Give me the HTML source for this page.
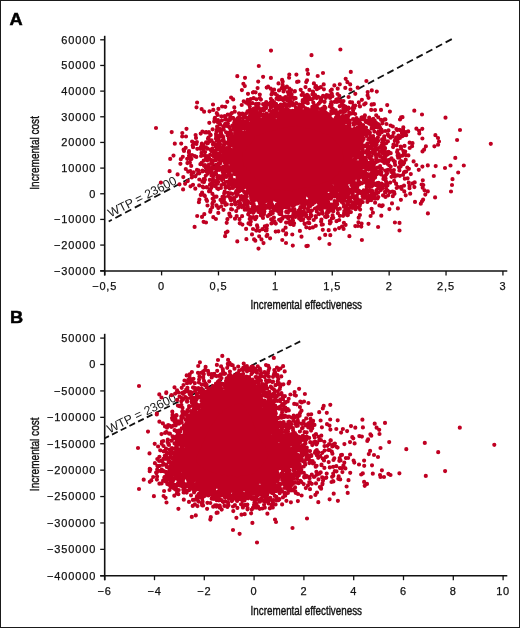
<!DOCTYPE html><html><head><meta charset="utf-8"><style>
html,body{margin:0;padding:0;background:#fff;}
svg{display:block;will-change:transform;}
text{font-family:"Liberation Sans",sans-serif;fill:#1a1a1a;}
.pl{font-size:17.2px;font-weight:bold;fill:#000;stroke:#000;stroke-width:0.5px;}
.yt{font-size:11.0px;text-anchor:end;letter-spacing:0.85px;fill:#111;stroke:#111;stroke-width:0.25px;}
.xt{font-size:11.0px;text-anchor:middle;letter-spacing:0.85px;fill:#111;stroke:#111;stroke-width:0.25px;}
.at{font-size:12.8px;text-anchor:middle;fill:#111;stroke:#111;stroke-width:0.4px;}
.wt{font-size:12.3px;}
.ax{stroke:#111;stroke-width:1.6;}
.tk{stroke:#111;stroke-width:1.3;}
.wtp{stroke:#111;stroke-width:1.8;stroke-dasharray:6 4.5;}
.pt{fill:none;stroke:#c00022;stroke-width:4.2;stroke-linecap:round;}
.pf{fill:#c00022;}
</style></head><body><svg width="520" height="628" viewBox="0 0 520 628"><rect x="0.5" y="0.5" width="519" height="627" fill="#fff" stroke="#1a1a1a" stroke-width="1"/><text class="pl" transform="translate(9.6 24.9) scale(1.06 1)">A</text><text class="pl" transform="translate(10.0 322.6) scale(1.06 1)">B</text><line x1="104.7" y1="35.8" x2="104.7" y2="275.4" class="ax"/><line x1="100.2" y1="271.0" x2="507.3" y2="271.0" class="ax"/><line x1="100.2" y1="39.80" x2="104.7" y2="39.80" class="tk"/><text x="96.2" y="43.70" class="yt">60000</text><line x1="100.2" y1="65.46" x2="104.7" y2="65.46" class="tk"/><text x="96.2" y="69.36" class="yt">50000</text><line x1="100.2" y1="91.12" x2="104.7" y2="91.12" class="tk"/><text x="96.2" y="95.02" class="yt">40000</text><line x1="100.2" y1="116.78" x2="104.7" y2="116.78" class="tk"/><text x="96.2" y="120.68" class="yt">30000</text><line x1="100.2" y1="142.44" x2="104.7" y2="142.44" class="tk"/><text x="96.2" y="146.34" class="yt">20000</text><line x1="100.2" y1="168.10" x2="104.7" y2="168.10" class="tk"/><text x="96.2" y="172.00" class="yt">10000</text><line x1="100.2" y1="193.76" x2="104.7" y2="193.76" class="tk"/><text x="96.2" y="197.66" class="yt">0</text><line x1="100.2" y1="219.42" x2="104.7" y2="219.42" class="tk"/><text x="96.2" y="223.32" class="yt">−10000</text><line x1="100.2" y1="245.08" x2="104.7" y2="245.08" class="tk"/><text x="96.2" y="248.98" class="yt">−20000</text><line x1="100.2" y1="270.74" x2="104.7" y2="270.74" class="tk"/><text x="96.2" y="274.64" class="yt">−30000</text><line x1="104.70" y1="271.0" x2="104.70" y2="275.4" class="tk"/><text x="104.70" y="290.30" class="xt">−0,5</text><line x1="161.59" y1="271.0" x2="161.59" y2="275.4" class="tk"/><text x="161.59" y="290.30" class="xt">0</text><line x1="218.48" y1="271.0" x2="218.48" y2="275.4" class="tk"/><text x="218.48" y="290.30" class="xt">0,5</text><line x1="275.37" y1="271.0" x2="275.37" y2="275.4" class="tk"/><text x="275.37" y="290.30" class="xt">1</text><line x1="332.26" y1="271.0" x2="332.26" y2="275.4" class="tk"/><text x="332.26" y="290.30" class="xt">1,5</text><line x1="389.15" y1="271.0" x2="389.15" y2="275.4" class="tk"/><text x="389.15" y="290.30" class="xt">2</text><line x1="446.04" y1="271.0" x2="446.04" y2="275.4" class="tk"/><text x="446.04" y="290.30" class="xt">2,5</text><line x1="502.93" y1="271.0" x2="502.93" y2="275.4" class="tk"/><text x="502.93" y="290.30" class="xt">3</text><line x1="104.7" y1="333.8" x2="104.7" y2="580.1999999999999" class="ax"/><line x1="100.2" y1="575.8" x2="507.3" y2="575.8" class="ax"/><line x1="100.2" y1="338.10" x2="104.7" y2="338.10" class="tk"/><text x="96.2" y="342.00" class="yt">50000</text><line x1="100.2" y1="364.51" x2="104.7" y2="364.51" class="tk"/><text x="96.2" y="368.41" class="yt">0</text><line x1="100.2" y1="390.92" x2="104.7" y2="390.92" class="tk"/><text x="96.2" y="394.82" class="yt">−50000</text><line x1="100.2" y1="417.33" x2="104.7" y2="417.33" class="tk"/><text x="96.2" y="421.23" class="yt">−100000</text><line x1="100.2" y1="443.74" x2="104.7" y2="443.74" class="tk"/><text x="96.2" y="447.64" class="yt">−150000</text><line x1="100.2" y1="470.15" x2="104.7" y2="470.15" class="tk"/><text x="96.2" y="474.05" class="yt">−200000</text><line x1="100.2" y1="496.56" x2="104.7" y2="496.56" class="tk"/><text x="96.2" y="500.46" class="yt">−250000</text><line x1="100.2" y1="522.97" x2="104.7" y2="522.97" class="tk"/><text x="96.2" y="526.87" class="yt">−300000</text><line x1="100.2" y1="549.38" x2="104.7" y2="549.38" class="tk"/><text x="96.2" y="553.28" class="yt">−350000</text><line x1="100.2" y1="575.79" x2="104.7" y2="575.79" class="tk"/><text x="96.2" y="579.69" class="yt">−400000</text><line x1="104.70" y1="575.8" x2="104.70" y2="580.1999999999999" class="tk"/><text x="104.70" y="595.10" class="xt">−6</text><line x1="154.50" y1="575.8" x2="154.50" y2="580.1999999999999" class="tk"/><text x="154.50" y="595.10" class="xt">−4</text><line x1="204.30" y1="575.8" x2="204.30" y2="580.1999999999999" class="tk"/><text x="204.30" y="595.10" class="xt">−2</text><line x1="254.10" y1="575.8" x2="254.10" y2="580.1999999999999" class="tk"/><text x="254.10" y="595.10" class="xt">0</text><line x1="303.90" y1="575.8" x2="303.90" y2="580.1999999999999" class="tk"/><text x="303.90" y="595.10" class="xt">2</text><line x1="353.70" y1="575.8" x2="353.70" y2="580.1999999999999" class="tk"/><text x="353.70" y="595.10" class="xt">4</text><line x1="403.50" y1="575.8" x2="403.50" y2="580.1999999999999" class="tk"/><text x="403.50" y="595.10" class="xt">6</text><line x1="453.30" y1="575.8" x2="453.30" y2="580.1999999999999" class="tk"/><text x="453.30" y="595.10" class="xt">8</text><line x1="503.10" y1="575.8" x2="503.10" y2="580.1999999999999" class="tk"/><text x="503.10" y="595.10" class="xt">10</text><text x="0" y="0" class="at" transform="translate(306.30 309.30) scale(0.77 1)">Incremental effectiveness</text><text x="0" y="0" class="at" transform="translate(39.1 152.90) rotate(-90) scale(0.785 1)">Incremental cost</text><text x="0" y="0" class="at" transform="translate(306.30 614.70) scale(0.77 1)">Incremental effectiveness</text><text x="0" y="0" class="at" transform="translate(39.1 454.30) rotate(-90) scale(0.785 1)">Incremental cost</text><line x1="451.8" y1="39.1" x2="108.7" y2="221.5" class="wtp" style="stroke-dasharray:7 4"/><line x1="300.2" y1="341.4" x2="104.7" y2="438.2" class="wtp" style="stroke-dasharray:6.3 3.4"/><text class="wt" transform="translate(110.6 217.6) rotate(-27)">WTP = 23600</text><text class="wt" transform="translate(109.4 433.4) rotate(-25.8)">WTP = 23600</text><path class="pf" d="M237.8 158.0L237.8 156.1L238.1 154.3L238.7 152.5L239.5 150.8L240.6 149.1L241.9 147.6L243.1 146.1L244.3 144.6L245.4 143.2L246.4 141.8L247.4 140.4L248.5 139.1L249.5 137.8L250.6 136.5L251.7 135.3L252.9 134.2L254.1 133.1L255.5 132.2L256.9 131.4L258.4 130.6L259.9 130.0L261.5 129.5L263.0 129.0L264.5 128.5L265.9 128.1L267.3 127.7L268.7 127.3L270.1 127.0L271.4 126.6L272.7 126.3L274.0 126.0L275.2 125.7L276.5 125.3L277.7 125.1L278.9 124.8L280.1 124.5L281.3 124.2L282.5 123.9L283.7 123.7L284.9 123.4L286.1 123.2L287.3 122.9L288.5 122.6L289.8 122.4L291.0 122.2L292.3 122.0L293.5 121.9L294.8 121.9L296.1 121.9L297.4 121.9L298.6 122.0L299.9 122.2L301.2 122.5L302.5 122.7L303.8 122.9L305.1 123.2L306.4 123.4L307.7 123.7L309.1 123.9L310.5 124.2L311.9 124.5L313.3 124.9L314.8 125.3L316.2 125.8L317.6 126.3L319.1 126.8L320.6 127.4L322.1 128.0L323.6 128.7L325.1 129.4L326.7 130.1L328.2 131.0L329.8 131.8L331.3 132.8L332.8 133.8L334.3 135.0L335.8 136.2L337.2 137.4L338.6 138.8L340.0 140.2L341.4 141.6L342.8 143.1L344.2 144.7L345.3 146.5L346.0 148.3L346.5 150.2L346.9 152.1L347.1 154.1L347.2 156.0L347.1 158.0L347.0 160.0L346.7 161.9L346.4 163.8L346.0 165.7L345.5 167.6L344.9 169.5L344.2 171.3L343.3 173.0L342.4 174.7L341.3 176.3L340.1 177.8L338.8 179.3L337.4 180.6L335.9 181.9L334.2 183.0L332.6 184.0L330.8 184.9L329.1 185.7L327.3 186.4L325.5 187.0L323.8 187.5L322.1 188.0L320.5 188.5L318.9 189.0L317.3 189.4L315.8 189.7L314.3 190.1L312.9 190.4L311.4 190.7L310.1 191.0L308.7 191.3L307.4 191.5L306.0 191.8L304.8 192.1L303.5 192.3L302.2 192.6L301.0 192.8L299.7 193.1L298.5 193.3L297.3 193.6L296.0 193.8L294.8 194.0L293.5 194.2L292.3 194.3L291.0 194.4L289.7 194.5L288.4 194.5L287.2 194.5L285.9 194.5L284.6 194.5L283.3 194.4L282.0 194.3L280.6 194.1L279.3 194.0L278.0 193.8L276.6 193.6L275.3 193.3L273.9 193.1L272.5 192.7L271.2 192.4L269.8 191.9L268.5 191.4L267.1 190.9L265.8 190.3L264.5 189.6L263.1 188.9L261.9 188.2L260.6 187.3L259.4 186.5L258.2 185.6L257.0 184.6L255.8 183.6L254.6 182.6L253.4 181.5L252.2 180.4L251.0 179.3L249.7 178.1L248.5 176.9L247.2 175.7L245.9 174.4L244.8 173.0L243.6 171.6L242.5 170.1L241.5 168.5L240.5 166.9L239.7 165.2L238.9 163.5L238.4 161.7L238.0 159.9L237.8 158.0ZM197.5 445.0L198.0 443.8L198.5 442.6L198.9 441.4L199.3 440.3L199.7 439.1L200.2 438.0L200.6 436.9L201.1 435.9L201.6 434.8L202.1 433.8L202.6 432.7L203.2 431.7L203.8 430.7L204.3 429.7L204.9 428.8L205.5 427.8L206.1 426.8L206.7 425.9L207.3 424.9L208.0 424.0L208.6 423.0L209.2 422.0L209.9 421.1L210.5 420.0L211.2 419.0L211.9 417.9L212.6 416.9L213.3 415.9L214.2 414.9L215.0 413.8L215.9 412.8L216.8 411.9L217.8 410.9L218.8 409.9L219.9 408.9L221.0 407.9L222.1 407.0L223.3 406.0L224.5 405.0L225.8 404.2L227.1 403.3L228.5 402.6L230.0 402.0L231.5 401.5L233.0 401.0L234.6 400.5L236.1 400.0L237.8 399.7L239.4 399.7L240.9 400.0L242.4 400.6L243.9 401.4L245.2 402.3L246.5 403.4L247.7 404.5L248.8 405.8L249.9 407.0L250.9 408.3L251.8 409.6L252.6 411.0L253.4 412.3L254.1 413.6L254.8 415.0L255.4 416.3L256.0 417.6L256.5 418.9L256.9 420.2L257.3 421.5L257.7 422.8L258.0 424.0L258.3 425.2L258.7 426.3L259.0 427.4L259.4 428.5L259.7 429.6L260.1 430.6L260.5 431.6L260.8 432.6L261.2 433.6L261.7 434.5L262.2 435.5L262.8 436.4L263.5 437.4L264.2 438.4L265.0 439.4L266.0 440.4L267.0 441.4L267.9 442.6L268.8 443.8L269.5 445.0L270.1 446.3L270.6 447.6L271.1 449.0L271.4 450.4L271.6 451.8L271.7 453.2L271.8 454.7L271.7 456.1L271.5 457.5L271.2 458.9L270.7 460.2L270.1 461.5L269.5 462.8L268.7 464.0L267.9 465.2L267.1 466.3L266.3 467.4L265.4 468.5L264.5 469.6L263.5 470.6L262.5 471.6L261.5 472.6L260.5 473.5L259.4 474.3L258.3 475.2L257.2 476.0L256.0 476.7L254.8 477.3L253.5 477.8L252.2 478.2L250.9 478.6L249.5 478.9L248.2 479.1L246.8 479.3L245.5 479.4L244.2 479.5L242.9 479.6L241.7 479.7L240.4 479.8L239.1 479.8L237.9 479.9L236.7 479.9L235.4 479.9L234.2 479.9L233.0 479.9L231.8 479.9L230.6 479.8L229.3 479.8L228.1 479.7L226.9 479.6L225.7 479.5L224.4 479.4L223.2 479.2L221.9 479.1L220.7 478.9L219.4 478.7L218.1 478.5L216.8 478.2L215.5 477.9L214.2 477.5L212.9 477.1L211.6 476.7L210.3 476.2L209.1 475.6L207.8 475.1L206.5 474.4L205.2 473.8L203.9 473.1L202.5 472.4L201.2 471.7L199.8 470.9L198.5 470.1L197.2 469.2L195.9 468.2L194.8 467.1L193.7 465.9L192.9 464.6L192.2 463.2L191.8 461.6L191.7 460.0L191.9 458.4L192.3 456.7L192.8 455.0L193.4 453.4L194.1 451.9L194.9 450.4L195.6 448.9L196.3 447.6L196.9 446.3L197.5 445.0Z"/><path class="pt" d="M259.3 121.7h0M328.2 184.6h0M285.4 99.5h0M202.1 192.6h0M266.5 200.3h0M327.3 211.7h0M266.8 206.1h0M242.7 175.4h0M256.3 125.6h0M396.1 183.7h0M315.9 217.5h0M302.7 114.9h0M252.1 135.7h0M261.2 188.8h0M255.3 198.3h0M315.6 192.0h0M282.5 88.4h0M427.8 165.4h0M243.1 139.7h0M368.7 169.6h0M344.3 142.4h0M293.7 124.3h0M328.7 133.0h0M374.2 176.8h0M336.6 119.2h0M367.4 120.6h0M241.6 180.7h0M378.7 154.1h0M259.0 200.9h0M397.6 155.4h0M289.7 101.6h0M251.6 131.0h0M433.8 176.0h0M241.5 121.9h0M381.7 132.2h0M329.0 195.3h0M301.0 122.1h0M288.1 121.4h0M354.7 184.7h0M321.7 190.0h0M222.4 149.2h0M209.8 189.4h0M336.8 182.0h0M351.9 151.5h0M330.3 235.2h0M340.3 173.3h0M271.1 207.4h0M239.0 164.0h0M323.3 192.2h0M267.0 121.9h0M389.9 111.6h0M182.8 156.8h0M266.2 116.7h0M234.2 156.6h0M216.8 113.2h0M331.1 124.4h0M254.0 211.5h0M298.9 196.2h0M365.0 145.7h0M214.0 201.2h0M211.9 185.2h0M320.8 209.4h0M316.0 119.5h0M314.6 127.2h0M367.6 168.0h0M184.0 151.0h0M225.0 160.2h0M317.9 200.0h0M356.3 154.3h0M205.0 165.2h0M344.2 166.5h0M261.8 122.1h0M419.3 133.5h0M235.6 192.8h0M321.8 185.7h0M290.3 198.1h0M400.6 136.8h0M256.1 118.9h0M266.0 127.8h0M313.9 189.3h0M350.1 102.2h0M309.1 191.3h0M315.5 192.4h0M311.2 113.1h0M409.5 185.9h0M279.5 119.2h0M405.7 195.3h0M348.0 193.1h0M358.1 151.5h0M217.8 140.4h0M365.5 174.7h0M237.6 171.5h0M225.3 106.8h0M316.2 127.4h0M309.7 228.1h0M345.7 177.6h0M290.1 100.0h0M332.8 108.6h0M328.9 122.0h0M307.3 69.9h0M334.7 122.7h0M246.1 144.4h0M212.8 167.1h0M369.4 190.5h0M344.6 128.3h0M301.6 95.0h0M356.2 170.9h0M244.4 115.1h0M271.2 213.3h0M338.2 178.4h0M352.6 153.2h0M321.7 125.1h0M219.4 159.4h0M215.5 181.2h0M252.8 190.8h0M288.6 123.4h0M213.0 150.6h0M349.2 142.9h0M294.5 199.3h0M386.3 161.4h0M361.3 176.0h0M292.4 124.7h0M319.2 201.7h0M256.6 187.0h0M371.2 184.9h0M301.2 194.6h0M236.5 148.5h0M347.7 130.0h0M253.8 183.7h0M297.2 120.6h0M245.5 180.0h0M272.0 190.5h0M410.2 193.7h0M329.9 221.0h0M229.3 173.2h0M309.0 99.3h0M247.5 111.4h0M282.9 196.6h0M334.7 180.9h0M373.9 164.7h0M228.1 187.1h0M217.5 183.7h0M353.4 190.0h0M351.7 113.5h0M408.8 182.7h0M210.0 184.7h0M286.1 222.6h0M328.1 183.2h0M292.8 245.6h0M342.5 186.9h0M354.7 144.4h0M360.7 157.9h0M262.2 195.8h0M360.4 161.3h0M339.8 200.4h0M248.9 223.2h0M342.9 183.1h0M227.5 135.4h0M352.2 137.2h0M247.7 99.9h0M238.8 153.4h0M253.3 191.7h0M236.8 124.2h0M236.5 143.6h0M293.6 122.3h0M353.8 124.7h0M303.4 114.1h0M250.1 114.9h0M364.2 160.0h0M207.5 173.8h0M347.4 122.5h0M386.1 188.5h0M233.3 118.0h0M340.2 191.2h0M368.5 163.8h0M252.4 103.2h0M285.2 115.3h0M312.3 106.9h0M351.4 166.0h0M237.3 241.4h0M348.9 149.8h0M367.2 162.6h0M191.8 177.4h0M347.6 158.7h0M373.6 167.0h0M270.4 124.1h0M331.7 119.3h0M372.2 160.1h0M224.2 193.3h0M290.5 118.2h0M202.4 131.6h0M342.0 182.2h0M284.4 122.9h0M269.9 124.6h0M322.9 208.0h0M319.6 129.6h0M347.7 116.3h0M377.3 172.2h0M368.0 175.6h0M237.0 163.9h0M319.9 190.5h0M242.1 124.2h0M237.1 159.0h0M316.4 112.8h0M319.6 115.9h0M242.7 187.3h0M241.5 141.3h0M335.5 180.4h0M335.7 201.7h0M237.7 182.9h0M373.9 194.1h0M262.4 229.2h0M253.0 179.4h0M342.6 105.2h0M224.4 171.6h0M314.1 125.5h0M239.7 118.6h0M308.8 126.6h0M260.1 119.4h0M328.0 114.2h0M382.7 205.3h0M328.6 118.4h0M255.3 194.2h0M339.1 189.7h0M313.7 192.5h0M337.8 177.9h0M247.0 136.0h0M331.2 102.0h0M311.8 127.2h0M347.1 182.7h0M310.5 200.4h0M332.1 209.5h0M234.5 139.9h0M278.0 108.8h0M191.4 158.9h0M303.6 116.0h0M299.1 104.5h0M218.7 147.5h0M209.0 191.3h0M212.1 186.3h0M267.0 197.0h0M376.9 140.9h0M379.3 125.7h0M209.2 140.1h0M288.9 98.6h0M211.7 161.0h0M292.1 124.7h0M363.1 191.3h0M288.2 114.4h0M356.8 186.2h0M386.2 143.2h0M317.3 207.4h0M352.6 160.2h0M212.5 179.9h0M294.0 123.1h0M343.2 175.5h0M229.5 159.7h0M319.0 117.7h0M361.5 117.6h0M246.7 183.2h0M351.5 180.5h0M373.2 124.7h0M330.9 184.2h0M322.8 113.7h0M235.9 150.3h0M228.4 172.3h0M337.0 122.7h0M294.3 201.1h0M365.2 167.3h0M256.5 99.3h0M407.3 167.5h0M343.8 176.1h0M355.8 191.1h0M314.6 116.2h0M294.0 98.8h0M219.9 159.3h0M289.7 198.8h0M321.8 202.4h0M414.7 182.4h0M250.5 220.0h0M297.6 116.1h0M312.2 113.8h0M234.5 166.1h0M223.5 173.2h0M313.8 106.1h0M347.9 148.2h0M366.2 133.6h0M275.0 127.7h0M257.1 197.4h0M220.6 136.1h0M282.0 116.0h0M338.9 136.1h0M313.7 189.0h0M331.4 191.5h0M318.6 128.4h0M346.5 146.0h0M277.6 96.6h0M242.9 187.2h0M390.6 125.5h0M263.0 203.6h0M347.7 174.3h0M305.5 98.9h0M266.9 129.2h0M237.2 190.8h0M356.4 177.6h0M251.7 110.3h0M355.4 147.7h0M348.3 154.1h0M265.0 106.2h0M223.5 209.8h0M248.7 139.9h0M260.0 193.6h0M262.7 129.2h0M344.3 211.1h0M358.8 102.4h0M274.7 196.7h0M203.6 148.4h0M331.3 111.2h0M271.5 94.5h0M232.0 185.0h0M245.7 177.6h0M302.5 206.9h0M231.1 97.5h0M262.5 124.6h0M294.8 111.9h0M317.3 122.3h0M397.9 208.4h0M299.0 124.5h0M204.3 214.2h0M323.7 84.4h0M289.4 201.1h0M232.9 160.6h0M349.2 178.3h0M257.3 197.3h0M280.5 120.4h0M345.6 171.3h0M326.5 189.8h0M337.0 204.3h0M324.7 109.2h0M336.5 181.8h0M311.0 120.0h0M356.3 188.1h0M337.9 129.2h0M247.2 184.8h0M280.9 205.6h0M242.9 174.3h0M373.9 171.1h0M243.8 126.2h0M283.2 124.7h0M249.6 187.2h0M276.5 98.7h0M237.7 118.3h0M352.1 188.8h0M304.9 204.7h0M355.6 150.5h0M293.8 122.4h0M282.0 113.5h0M289.4 88.7h0M355.7 132.0h0M230.4 197.8h0M235.1 202.8h0M232.0 209.5h0M349.6 120.8h0M216.8 129.9h0M315.6 108.8h0M262.8 185.9h0M362.4 160.6h0M342.0 226.6h0M310.1 114.8h0M212.7 150.7h0M318.3 187.9h0M330.4 182.8h0M358.4 190.7h0M341.1 138.0h0M346.1 138.9h0M233.7 162.2h0M225.7 119.5h0M298.6 202.0h0M360.3 127.1h0M336.4 138.6h0M348.9 133.7h0M376.2 159.2h0M234.0 154.2h0M294.6 210.3h0M355.6 158.4h0M305.6 110.5h0M322.9 201.0h0M230.3 150.0h0M249.6 100.0h0M328.3 199.1h0M284.2 192.3h0M361.9 157.3h0M374.5 125.7h0M199.4 199.5h0M350.4 161.6h0M249.3 123.5h0M247.2 128.3h0M382.5 148.6h0M271.7 199.9h0M370.7 146.0h0M360.6 168.6h0M394.9 222.5h0M328.8 129.5h0M284.0 123.9h0M392.8 196.2h0M374.1 162.4h0M356.8 162.1h0M261.1 188.5h0M235.1 142.4h0M218.3 189.1h0M321.4 190.8h0M371.5 136.7h0M286.5 124.4h0M236.9 163.4h0M324.2 109.7h0M326.6 202.4h0M372.5 126.5h0M348.0 176.3h0M304.6 213.8h0M295.6 98.2h0M253.5 135.1h0M353.7 133.4h0M244.1 123.5h0M257.3 189.0h0M291.3 194.2h0M239.1 201.8h0M262.1 190.0h0M399.9 175.8h0M307.9 109.1h0M402.6 136.1h0M373.9 178.4h0M246.3 209.7h0M363.6 127.8h0M251.1 138.4h0M387.8 154.5h0M238.3 153.0h0M361.2 148.3h0M266.2 102.0h0M213.0 176.7h0M381.6 183.6h0M398.9 167.3h0M182.3 133.0h0M226.7 222.8h0M357.2 156.3h0M349.8 152.9h0M350.0 172.1h0M254.1 119.4h0M244.2 135.2h0M339.0 116.6h0M253.1 212.8h0M257.3 129.3h0M371.4 125.2h0M349.3 140.8h0M372.5 144.8h0M237.4 158.4h0M289.7 112.2h0M259.3 128.6h0M318.8 88.1h0M335.4 124.5h0M254.6 134.4h0M335.0 128.9h0M225.0 144.1h0M274.5 221.3h0M267.0 115.7h0M330.6 182.3h0M297.0 191.2h0M352.3 196.9h0M272.7 124.5h0M287.1 100.2h0M243.2 197.1h0M346.6 150.1h0M349.3 121.9h0M402.5 117.2h0M214.7 153.1h0M405.5 132.2h0M350.2 84.4h0M326.6 195.8h0M326.7 95.1h0M364.1 179.6h0M357.5 148.6h0M230.3 198.6h0M335.9 185.7h0M260.1 186.1h0M348.8 147.5h0M289.3 74.7h0M276.6 193.2h0M241.7 207.1h0M240.7 129.4h0M261.4 209.7h0M347.4 175.0h0M341.9 141.9h0M304.5 113.6h0M245.3 182.4h0M353.8 151.7h0M248.0 93.8h0M262.5 131.9h0M245.6 171.7h0M348.4 171.4h0M317.6 129.1h0M169.6 171.2h0M331.4 107.3h0M356.9 133.4h0M248.4 185.8h0M267.1 127.4h0M317.4 111.8h0M327.4 194.9h0M316.6 124.0h0M348.8 148.0h0M224.9 202.7h0M240.3 158.1h0M212.4 163.7h0M355.2 131.5h0M341.8 175.4h0M210.7 135.1h0M334.7 129.0h0M317.8 201.1h0M344.1 134.9h0M370.1 152.7h0M346.3 148.3h0M348.8 180.5h0M370.4 162.7h0M295.6 117.0h0M342.6 132.5h0M348.2 159.3h0M295.9 124.0h0M345.9 171.0h0M207.7 171.7h0M346.8 183.3h0M286.2 197.1h0M254.0 200.4h0M348.0 155.7h0M331.7 181.9h0M235.4 204.3h0M238.1 191.3h0M346.3 173.1h0M394.8 161.5h0M272.5 125.5h0M347.9 181.0h0M218.8 137.8h0M236.1 129.3h0M263.9 110.4h0M208.9 132.1h0M350.2 171.8h0M233.0 198.4h0M270.7 102.4h0M346.3 127.7h0M204.1 111.7h0M325.0 124.9h0M313.9 83.4h0M348.0 131.9h0M357.5 132.6h0M301.5 236.7h0M327.8 115.6h0M316.6 119.6h0M225.3 123.8h0M379.5 134.4h0M263.1 104.2h0M346.8 158.8h0M339.4 112.5h0M240.1 154.3h0M294.3 209.2h0M345.5 209.2h0M381.9 168.9h0M312.6 111.3h0M357.2 177.7h0M296.4 202.1h0M254.1 207.4h0M248.2 181.9h0M232.5 152.5h0M354.4 140.4h0M279.5 195.6h0M251.0 115.7h0M229.6 134.3h0M230.8 200.2h0M236.2 191.3h0M304.4 114.7h0M230.7 145.5h0M310.4 114.3h0M317.8 190.2h0M333.7 124.8h0M286.7 203.7h0M339.0 139.6h0M296.8 115.8h0M337.0 125.1h0M345.4 126.8h0M375.1 198.0h0M207.5 205.5h0M180.8 159.2h0M249.6 137.2h0M216.7 149.7h0M278.6 202.8h0M198.0 173.5h0M372.1 181.3h0M265.9 106.6h0M235.8 142.1h0M362.7 202.1h0M349.9 157.1h0M361.9 240.0h0M299.5 209.9h0M304.0 100.1h0M278.5 193.6h0M246.4 200.0h0M219.1 122.5h0M231.2 169.7h0M427.9 213.4h0M300.2 190.3h0M325.2 185.2h0M323.5 120.4h0M257.7 121.4h0M346.0 165.4h0M223.0 175.4h0M267.2 197.2h0M281.7 202.3h0M341.5 178.0h0M359.8 120.2h0M230.6 199.2h0M422.0 201.3h0M354.5 161.7h0M242.5 146.5h0M263.0 186.6h0M251.5 186.2h0M337.7 177.3h0M384.7 149.9h0M300.9 123.8h0M237.2 194.4h0M373.7 153.1h0M307.0 189.5h0M316.0 124.8h0M242.4 113.7h0M273.5 222.5h0M385.4 119.4h0M294.2 211.4h0M257.0 183.2h0M216.8 140.6h0M299.4 216.6h0M319.3 119.5h0M322.4 194.3h0M267.7 188.6h0M325.8 112.7h0M308.0 73.9h0M262.4 123.5h0M275.5 193.1h0M292.6 119.3h0M370.5 191.6h0M304.2 120.6h0M362.8 149.9h0M249.6 190.0h0M379.2 160.5h0M331.7 131.7h0M257.0 195.1h0M259.8 98.0h0M253.6 92.0h0M325.5 131.4h0M291.3 203.4h0M389.4 209.1h0M352.1 149.9h0M296.1 103.2h0M295.8 121.1h0M250.8 133.7h0M283.0 112.2h0M354.6 187.1h0M384.5 139.3h0M349.8 158.3h0M345.3 167.6h0M259.9 124.1h0M231.4 136.6h0M362.4 129.0h0M373.9 104.2h0M215.1 144.6h0M290.5 122.0h0M288.8 123.3h0M380.0 147.4h0M259.4 126.5h0M234.4 150.6h0M397.8 142.0h0M297.0 123.3h0M348.3 162.1h0M268.8 126.7h0M279.4 213.8h0M249.0 142.7h0M258.9 130.5h0M283.8 201.9h0M282.0 111.5h0M240.0 223.2h0M378.6 126.5h0M219.1 170.0h0M283.7 124.8h0M293.0 222.8h0M274.4 124.6h0M379.0 126.8h0M238.0 167.4h0M305.5 108.3h0M352.5 166.8h0M332.6 130.8h0M356.3 196.1h0M356.3 191.2h0M262.0 114.9h0M259.8 94.5h0M355.6 141.3h0M258.0 185.6h0M234.4 154.4h0M211.4 172.3h0M328.4 126.1h0M292.3 234.5h0M368.4 182.2h0M316.3 189.6h0M234.1 145.4h0M352.3 148.9h0M315.3 87.3h0M253.5 121.7h0M378.2 192.6h0M223.6 153.6h0M240.2 144.8h0M278.1 106.9h0M342.2 180.7h0M200.4 164.2h0M292.1 122.8h0M344.1 172.7h0M268.6 189.2h0M240.0 124.1h0M225.1 236.2h0M279.3 120.9h0M394.8 140.8h0M238.2 136.1h0M240.2 203.7h0M334.4 193.0h0M335.3 138.6h0M265.7 106.2h0M357.2 162.4h0M263.2 116.2h0M307.2 203.0h0M240.0 139.4h0M355.3 178.0h0M343.9 206.7h0M343.4 144.1h0M263.6 129.1h0M344.8 143.4h0M258.5 212.0h0M299.1 218.6h0M336.0 183.4h0M330.0 129.7h0M344.1 122.1h0M397.1 130.1h0M294.7 124.0h0M354.2 130.6h0M203.3 187.5h0M218.7 166.5h0M230.0 178.9h0M386.5 124.0h0M363.3 197.7h0M384.7 160.1h0M375.3 193.3h0M360.2 201.6h0M203.7 179.2h0M252.2 114.7h0M232.9 153.1h0M306.4 201.2h0M349.5 151.5h0M309.6 203.0h0M204.9 196.1h0M358.5 180.5h0M228.2 152.1h0M316.7 200.1h0M409.6 142.7h0M310.6 115.6h0M218.8 144.7h0M351.0 177.8h0M332.8 190.8h0M341.3 178.1h0M232.1 185.7h0M202.8 171.3h0M312.0 187.9h0M288.4 222.4h0M241.5 122.6h0M259.2 196.7h0M337.6 94.0h0M229.9 184.2h0M416.4 128.7h0M290.6 196.9h0M302.2 104.7h0M210.1 154.9h0M237.9 138.7h0M272.7 207.3h0M324.1 184.7h0M265.1 122.3h0M272.8 213.1h0M328.8 95.7h0M282.3 106.4h0M320.8 120.6h0M318.1 96.8h0M340.9 120.1h0M319.4 186.8h0M335.9 136.4h0M217.6 114.9h0M344.9 181.9h0M333.8 129.2h0M236.3 183.2h0M236.0 166.7h0M387.0 160.6h0M281.0 210.0h0M208.8 169.6h0M250.3 176.7h0M228.9 167.6h0M239.0 113.3h0M313.6 191.9h0M348.3 164.4h0M201.5 146.5h0M273.5 110.5h0M344.5 164.0h0M294.2 191.7h0M361.6 193.5h0M378.5 148.0h0M334.2 127.8h0M336.5 188.6h0M355.1 160.6h0M264.1 123.0h0M232.0 159.5h0M288.5 207.6h0M301.2 106.0h0M241.8 142.2h0M262.4 131.2h0M232.9 170.8h0M351.3 164.8h0M293.3 111.4h0M328.1 184.1h0M246.8 186.1h0M336.4 113.9h0M371.7 170.3h0M387.9 141.4h0M283.0 191.9h0M242.9 149.7h0M322.1 130.3h0M226.5 165.5h0M195.6 135.0h0M248.3 102.6h0M345.2 167.7h0M243.9 132.6h0M237.3 179.6h0M343.3 178.6h0M252.0 209.2h0M303.6 191.0h0M239.5 181.1h0M225.0 124.3h0M335.0 191.9h0M339.3 139.9h0M296.3 192.7h0M345.7 145.4h0M306.3 126.0h0M237.9 166.0h0M337.9 213.2h0M353.2 172.9h0M365.9 157.5h0M257.8 104.1h0M349.5 129.5h0M380.9 174.3h0M276.4 193.0h0M221.8 120.6h0M327.1 130.6h0M243.0 128.2h0M304.7 119.0h0M419.1 130.9h0M242.3 128.0h0M339.0 137.3h0M308.8 122.7h0M229.8 188.6h0M225.7 186.0h0M344.6 147.6h0M352.8 160.4h0M251.2 211.7h0M338.9 123.7h0M290.3 224.2h0M287.5 197.0h0M328.6 121.3h0M323.9 89.3h0M247.9 130.0h0M222.7 200.7h0M260.2 112.7h0M196.5 107.3h0M321.4 219.6h0M266.0 205.5h0M382.3 123.3h0M326.0 191.3h0M308.0 119.8h0M291.6 116.2h0M281.3 214.3h0M384.1 152.3h0M375.1 150.7h0M342.9 173.7h0M350.7 145.5h0M336.9 102.0h0M259.5 197.0h0M357.1 185.4h0M289.6 193.1h0M346.3 186.7h0M373.0 128.4h0M401.1 148.5h0M218.0 122.4h0M381.8 151.2h0M237.7 194.4h0M249.1 140.8h0M243.8 187.3h0M272.3 100.6h0M297.1 202.3h0M308.5 125.4h0M251.9 120.8h0M229.4 127.3h0M389.4 159.8h0M345.8 130.5h0M304.8 207.8h0M243.3 121.3h0M238.5 158.3h0M362.3 154.4h0M322.1 211.5h0M239.3 139.1h0M251.7 210.4h0M291.3 202.4h0M272.6 121.5h0M252.8 132.3h0M204.2 195.3h0M246.2 113.3h0M210.1 190.0h0M338.4 115.0h0M208.5 167.8h0M376.0 155.8h0M341.9 130.3h0M317.8 122.0h0M312.3 107.9h0M328.4 125.7h0M252.8 136.2h0M224.9 143.4h0M282.2 206.8h0M342.6 139.3h0M235.5 126.2h0M323.4 131.5h0M305.0 97.9h0M354.3 132.0h0M313.7 220.0h0M348.4 189.1h0M293.5 213.3h0M285.0 123.9h0M295.3 124.1h0M336.7 201.9h0M309.2 116.9h0M296.7 203.7h0M374.4 143.0h0M323.8 124.6h0M316.7 105.5h0M266.3 127.7h0M279.0 208.5h0M250.0 139.1h0M303.2 201.9h0M241.8 144.2h0M272.5 196.3h0M209.9 141.3h0M282.7 98.3h0M322.9 124.3h0M384.2 136.4h0M296.9 116.5h0M264.0 213.9h0M232.9 187.1h0M346.7 135.7h0M248.9 119.5h0M342.9 167.6h0M224.7 149.0h0M204.9 179.7h0M229.3 151.1h0M397.9 154.9h0M247.4 136.5h0M388.2 195.3h0M250.6 181.9h0M252.2 117.1h0M354.5 156.2h0M354.2 146.7h0M352.8 171.4h0M330.6 90.9h0M233.7 153.0h0M228.0 142.7h0M210.3 134.6h0M288.8 192.2h0M356.5 118.0h0M391.5 176.8h0M248.0 201.4h0M362.4 137.6h0M217.7 169.8h0M366.5 122.2h0M283.1 230.4h0M353.4 136.6h0M314.2 95.4h0M237.1 120.4h0M224.0 156.7h0M360.5 123.7h0M204.0 165.8h0M192.1 141.5h0M364.6 164.8h0M317.5 108.0h0M251.6 134.3h0M403.4 151.1h0M368.9 174.7h0M256.5 127.1h0M422.5 151.4h0M236.8 149.4h0M299.9 111.5h0M230.5 216.5h0M349.4 148.7h0M350.2 143.0h0M283.3 122.9h0M252.5 184.2h0M298.6 191.3h0M247.2 181.8h0M323.8 123.4h0M274.7 192.6h0M291.4 123.3h0M260.0 131.5h0M281.5 126.9h0M359.2 167.3h0M264.6 196.3h0M331.2 132.7h0M380.1 184.6h0M277.9 194.6h0M370.4 167.1h0M354.4 143.8h0M242.0 176.2h0M313.0 91.7h0M331.3 191.7h0M257.0 108.2h0M242.0 150.0h0M279.6 213.0h0M221.6 168.9h0M343.9 178.2h0M365.8 175.7h0M330.1 97.9h0M363.7 190.4h0M292.5 110.8h0M240.5 133.1h0M303.1 119.7h0M234.8 111.7h0M282.2 203.9h0M188.9 152.4h0M353.4 123.1h0M353.0 152.6h0M420.8 203.7h0M293.6 115.1h0M285.3 119.3h0M298.7 119.9h0M259.5 190.7h0M297.3 212.8h0M373.1 136.0h0M378.5 184.6h0M325.7 115.7h0M340.2 130.5h0M243.0 177.6h0M249.4 212.4h0M254.1 239.4h0M360.6 153.0h0M356.4 164.1h0M397.4 140.8h0M308.4 218.2h0M296.6 109.9h0M294.3 114.4h0M259.0 114.1h0M219.8 143.6h0M206.3 199.4h0M249.9 185.7h0M278.7 194.3h0M336.4 201.3h0M260.5 131.1h0M223.5 176.5h0M291.7 199.7h0M277.0 95.3h0M330.5 188.2h0M263.0 218.0h0M362.9 160.9h0M237.5 148.3h0M270.9 77.9h0M326.0 131.3h0M297.8 192.8h0M327.3 125.4h0M263.7 198.8h0M341.1 178.0h0M304.4 95.7h0M370.4 158.5h0M237.6 192.8h0M280.5 120.0h0M287.8 92.1h0M288.1 218.2h0M228.8 138.6h0M352.8 130.2h0M359.7 172.2h0M192.0 155.0h0M385.6 178.5h0M382.2 188.6h0M292.2 113.2h0M289.2 198.3h0M334.7 101.8h0M343.2 184.7h0M250.5 210.8h0M276.7 121.7h0M245.0 196.8h0M346.6 189.3h0M320.9 118.7h0M346.9 143.7h0M248.6 174.6h0M298.4 117.5h0M349.3 123.5h0M240.2 179.8h0M327.8 202.5h0M248.7 133.4h0M318.9 186.4h0M240.5 168.1h0M374.8 152.3h0M334.9 195.5h0M279.4 197.9h0M356.7 166.4h0M357.8 201.0h0M247.5 177.7h0M220.2 161.5h0M361.7 167.3h0M256.7 112.8h0M366.0 160.2h0M360.8 127.8h0M268.9 190.3h0M298.8 196.4h0M285.4 97.2h0M404.0 185.7h0M206.0 142.4h0M282.6 109.6h0M365.6 166.7h0M329.3 205.5h0M212.4 193.8h0M328.7 230.2h0M255.2 219.2h0M354.6 161.1h0M347.3 154.7h0M327.0 205.1h0M273.9 217.5h0M387.6 190.6h0M285.9 119.3h0M343.0 169.6h0M383.5 141.6h0M234.2 122.8h0M243.0 137.1h0M308.5 121.1h0M244.2 126.3h0M310.8 124.7h0M223.6 155.9h0M224.5 162.2h0M380.2 127.8h0M360.0 172.5h0M323.3 203.2h0M303.9 116.0h0M279.7 203.2h0M359.8 183.2h0M328.7 187.5h0M335.2 131.7h0M310.6 212.6h0M268.2 128.5h0M351.0 129.3h0M275.4 93.9h0M307.1 117.0h0M365.4 195.8h0M316.5 190.8h0M316.6 186.9h0M259.5 230.8h0M367.4 163.0h0M330.3 118.0h0M252.0 234.4h0M231.7 134.0h0M328.6 212.0h0M375.9 148.7h0M358.2 193.3h0M291.8 96.8h0M222.7 170.0h0M226.9 168.2h0M269.7 203.6h0M179.5 184.3h0M311.0 191.6h0M346.6 167.9h0M347.9 153.0h0M245.6 198.8h0M246.8 137.6h0M251.5 131.3h0M257.8 106.6h0M258.7 131.4h0M254.4 126.9h0M360.6 169.6h0M286.2 211.9h0M261.6 130.9h0M271.3 190.2h0M365.4 182.0h0M232.6 166.8h0M246.5 186.1h0M258.9 116.8h0M364.9 195.2h0M321.1 186.9h0M272.0 119.2h0M245.5 143.1h0M351.8 142.9h0M235.0 127.2h0M286.2 200.9h0M393.9 170.1h0M380.3 185.7h0M294.0 200.5h0M241.0 148.7h0M283.3 115.4h0M382.5 140.3h0M321.5 191.8h0M300.9 199.7h0M381.2 145.9h0M270.9 125.8h0M250.2 113.3h0M271.3 198.3h0M222.1 106.5h0M347.8 203.8h0M306.4 193.1h0M235.9 154.6h0M222.7 157.4h0M232.2 137.9h0M330.7 222.0h0M313.4 193.3h0M245.9 208.7h0M205.1 152.1h0M332.6 109.5h0M376.1 122.8h0M330.7 122.0h0M375.4 162.5h0M284.9 193.4h0M330.6 120.7h0M266.3 116.4h0M371.2 109.9h0M187.4 163.1h0M399.4 170.4h0M215.8 174.5h0M416.3 165.1h0M366.2 163.7h0M306.1 98.4h0M306.2 215.2h0M349.3 158.2h0M281.7 88.2h0M337.3 204.2h0M220.9 188.0h0M278.5 83.4h0M262.9 199.5h0M353.8 171.7h0M237.9 162.0h0M228.4 126.4h0M344.5 153.5h0M341.2 182.9h0M304.2 119.0h0M353.1 169.0h0M230.7 130.1h0M333.7 181.7h0M294.5 197.4h0M323.0 73.0h0M369.0 190.1h0M354.4 132.8h0M287.3 115.1h0M319.5 118.5h0M294.8 118.8h0M329.0 115.7h0M264.2 191.0h0M224.2 149.2h0M250.8 175.8h0M386.1 152.4h0M404.0 172.4h0M331.4 188.9h0M299.0 120.0h0M272.6 192.6h0M218.3 212.9h0M298.4 121.5h0M307.5 121.1h0M322.6 194.1h0M276.0 208.7h0M208.9 166.7h0M245.5 141.4h0M359.5 152.4h0M302.0 190.9h0M363.8 146.4h0M185.7 147.8h0M255.6 108.4h0M256.3 230.6h0M201.1 156.0h0M252.9 187.0h0M344.7 142.5h0M297.8 112.1h0M302.8 93.1h0M374.1 196.3h0M239.7 172.8h0M347.2 187.2h0M359.8 129.2h0M268.3 199.1h0M252.8 121.3h0M252.4 135.8h0M354.7 124.1h0M239.2 181.2h0M251.4 128.1h0M324.2 192.7h0M263.2 127.0h0M304.1 119.1h0M218.4 108.9h0M345.1 172.2h0M238.9 143.8h0M242.7 175.3h0M330.4 125.2h0M338.6 190.7h0M268.4 191.9h0M246.1 140.6h0M221.9 149.3h0M340.4 143.2h0M225.3 117.7h0M244.8 170.9h0M321.3 200.5h0M288.6 94.9h0M236.7 216.1h0M243.9 185.2h0M295.5 198.4h0M302.2 204.7h0M299.1 115.0h0M245.6 179.8h0M282.9 116.3h0M253.1 184.6h0M385.1 185.7h0M340.7 178.8h0M292.1 102.4h0M343.6 204.2h0M320.8 109.3h0M394.7 162.6h0M371.9 163.1h0M358.3 184.1h0M308.9 206.6h0M358.3 200.0h0M298.0 200.3h0M268.7 117.6h0M275.8 121.0h0M371.0 162.4h0M350.2 132.0h0M181.2 143.6h0M347.4 162.1h0M345.7 142.3h0M352.6 169.8h0M361.7 191.9h0M366.7 189.3h0M270.8 204.9h0M272.6 114.6h0M328.2 184.1h0M288.6 216.5h0M310.3 113.4h0M216.5 196.7h0M375.5 184.9h0M264.8 186.9h0M275.8 223.6h0M357.4 157.5h0M269.8 206.1h0M244.7 209.7h0M366.4 135.9h0M314.6 111.3h0M323.8 186.9h0M303.5 189.8h0M336.3 186.5h0M244.4 140.4h0M258.0 129.3h0M313.4 125.9h0M376.6 190.1h0M260.7 191.5h0M250.5 181.9h0M261.7 207.7h0M284.0 120.9h0M243.1 136.9h0M400.5 156.0h0M271.4 223.5h0M293.0 220.6h0M258.7 125.8h0M347.6 148.2h0M373.7 178.1h0M298.1 112.9h0M361.6 223.6h0M194.8 156.1h0M261.7 194.9h0M240.5 136.9h0M213.3 109.9h0M250.5 186.2h0M284.5 105.1h0M313.8 197.4h0M224.7 197.1h0M273.5 193.3h0M358.3 148.5h0M286.4 192.4h0M283.3 124.3h0M398.6 154.7h0M338.1 115.0h0M347.8 165.2h0M321.9 97.3h0M255.4 115.8h0M235.7 133.2h0M306.1 115.0h0M354.4 177.4h0M297.7 119.1h0M250.8 192.5h0M340.2 125.2h0M233.9 140.0h0M230.7 193.3h0M300.0 197.8h0M388.6 136.0h0M244.8 139.7h0M268.9 198.9h0M319.8 102.6h0M189.0 155.6h0M233.9 126.9h0M275.6 199.8h0M294.9 91.1h0M340.8 133.8h0M312.6 196.9h0M245.2 121.8h0M374.7 193.5h0M344.4 195.0h0M343.2 180.5h0M226.8 175.6h0M239.0 182.7h0M220.7 177.2h0M403.7 154.4h0M355.0 199.3h0M342.2 189.0h0M250.4 192.4h0M298.5 193.0h0M354.7 207.5h0M266.7 113.7h0M317.4 127.9h0M316.1 192.2h0M237.1 164.2h0M355.5 137.5h0M258.0 207.0h0M412.1 146.2h0M261.2 203.5h0M309.0 97.2h0M222.5 151.7h0M302.7 103.3h0M218.3 208.1h0M321.1 98.9h0M294.1 193.3h0M307.3 126.0h0M398.1 157.7h0M242.3 171.6h0M302.5 192.6h0M244.1 139.5h0M279.4 194.4h0M354.1 155.6h0M344.4 149.1h0M361.0 166.0h0M358.7 217.7h0M247.2 120.3h0M206.0 147.4h0M248.7 130.4h0M353.9 176.3h0M341.1 101.4h0M240.8 171.3h0M364.0 192.1h0M370.1 147.4h0M292.7 121.2h0M257.2 123.9h0M345.5 159.8h0M423.1 199.7h0M357.4 153.8h0M330.8 133.6h0M348.2 121.0h0M239.7 164.4h0M351.1 182.4h0M278.4 116.2h0M359.9 215.1h0M298.2 200.3h0M350.8 152.8h0M223.1 167.5h0M355.0 122.2h0M289.8 105.8h0M250.3 133.2h0M282.7 81.6h0M224.5 148.7h0M197.3 148.8h0M365.4 159.3h0M341.9 146.0h0M340.0 112.5h0M325.6 187.7h0M215.8 153.7h0M286.9 86.7h0M347.3 145.7h0M310.7 124.4h0M348.4 201.0h0M351.8 182.0h0M296.4 112.5h0M222.6 152.3h0M308.0 189.5h0M291.5 195.7h0M308.0 111.2h0M361.0 163.0h0M287.9 109.8h0M371.7 140.5h0M301.4 124.8h0M196.0 137.9h0M256.2 217.7h0M224.6 161.2h0M244.7 170.8h0M230.9 162.3h0M359.2 135.5h0M317.2 194.9h0M260.4 129.3h0M302.8 100.1h0M206.0 158.2h0M265.2 121.3h0M211.6 140.4h0M207.1 143.2h0M374.7 120.5h0M209.5 111.3h0M327.8 206.0h0M248.2 214.3h0M235.8 144.6h0M281.0 124.8h0M245.6 140.2h0M342.7 189.7h0M171.7 132.1h0M263.5 243.1h0M299.0 114.8h0M236.5 160.3h0M347.3 154.9h0M343.4 147.7h0M360.1 209.6h0M303.9 111.0h0M298.1 203.2h0M335.7 122.8h0M214.1 185.4h0M336.4 132.8h0M344.2 192.8h0M257.6 186.9h0M265.2 193.0h0M387.1 173.3h0M274.2 106.0h0M339.8 106.2h0M337.0 132.2h0M267.0 225.5h0M255.2 209.9h0M313.0 193.0h0M403.3 127.4h0M242.6 149.6h0M215.5 186.3h0M286.1 202.7h0M348.3 182.3h0M367.7 92.1h0M256.2 133.8h0M276.5 191.6h0M207.1 167.4h0M279.3 123.2h0M297.9 213.1h0M271.8 118.1h0M387.8 134.4h0M404.8 171.9h0M251.2 137.1h0M314.9 187.4h0M350.9 157.2h0M292.8 105.1h0M247.3 182.3h0M294.7 122.6h0M260.6 124.8h0M357.6 171.6h0M285.5 116.7h0M328.6 120.5h0M359.2 174.0h0M291.6 94.2h0M254.0 207.6h0M353.3 150.5h0M332.8 187.0h0M285.1 195.6h0M349.0 169.5h0M201.6 145.7h0M294.3 196.8h0M308.0 124.0h0M309.4 89.9h0M353.1 110.8h0M349.5 131.7h0M225.6 155.8h0M350.5 143.7h0M345.2 144.5h0M336.0 188.0h0M337.0 180.5h0M438.1 144.7h0M203.6 221.8h0M284.9 109.4h0M360.4 164.8h0M367.1 184.5h0M343.3 112.2h0M294.3 210.1h0M319.5 238.3h0M225.2 159.7h0M386.6 183.2h0M304.5 223.5h0M246.6 139.6h0M265.4 118.5h0M362.9 171.8h0M212.2 207.2h0M240.8 196.3h0M338.1 186.4h0M339.4 121.7h0M340.9 144.7h0M196.3 156.9h0M330.0 119.8h0M346.8 179.6h0M279.4 194.3h0M348.9 193.6h0M260.4 192.9h0M225.7 187.7h0M265.7 121.8h0M259.7 200.2h0M326.4 120.6h0M322.7 188.2h0M309.3 189.0h0M189.0 151.2h0M319.7 124.7h0M330.6 122.4h0M254.2 134.5h0M300.5 195.7h0M355.8 183.3h0M323.7 124.7h0M324.9 189.9h0M341.0 188.7h0M281.3 118.2h0M328.5 122.1h0M200.7 133.6h0M236.4 196.1h0M276.2 191.1h0M332.1 125.9h0M356.8 183.4h0M240.1 177.4h0M319.4 186.4h0M329.3 189.6h0M271.8 127.1h0M235.1 171.8h0M375.0 198.4h0M279.8 96.8h0M325.9 97.8h0M252.5 137.1h0M231.9 113.1h0M256.3 194.2h0M355.4 145.3h0M259.2 129.1h0M372.2 191.2h0M252.9 135.3h0M390.2 182.6h0M305.5 87.1h0M390.0 192.1h0M238.9 127.2h0M261.2 185.6h0M354.3 162.6h0M321.2 118.8h0M362.5 167.3h0M367.5 166.5h0M357.7 156.5h0M357.1 162.1h0M235.9 143.1h0M296.9 198.0h0M298.4 120.1h0M326.9 116.6h0M404.8 178.7h0M215.4 154.9h0M239.8 122.9h0M316.6 128.6h0M269.1 205.4h0M314.8 200.2h0M257.6 193.9h0M221.7 178.4h0M347.8 160.4h0M396.6 137.3h0M339.3 95.9h0M247.4 132.2h0M253.0 229.0h0M291.8 104.2h0M376.8 91.6h0M240.7 170.6h0M375.3 146.4h0M250.0 123.6h0M387.2 105.1h0M353.5 144.8h0M253.3 217.1h0M349.2 139.3h0M306.5 194.4h0M213.8 168.4h0M286.5 201.5h0M231.5 175.3h0M337.6 112.6h0M261.4 122.9h0M352.1 207.9h0M316.5 127.6h0M242.3 143.9h0M324.2 198.8h0M287.5 122.5h0M293.3 198.5h0M342.4 141.0h0M261.1 131.5h0M297.9 193.2h0M258.5 122.8h0M268.1 86.7h0M300.3 198.5h0M346.0 206.2h0M257.7 208.6h0M235.4 171.9h0M242.8 184.8h0M252.8 177.7h0M315.6 192.8h0M328.9 128.6h0M309.6 110.2h0M364.5 117.4h0M378.5 182.9h0M213.3 217.2h0M255.5 182.6h0M213.1 168.7h0M217.2 168.1h0M353.5 160.2h0M352.5 165.2h0M278.3 118.7h0M291.8 102.9h0M291.2 195.4h0M249.7 219.1h0M384.1 159.6h0M291.7 198.2h0M288.5 196.1h0M261.1 207.0h0M226.8 157.0h0M208.0 138.7h0M329.7 115.3h0M412.5 143.2h0M333.0 208.0h0M204.6 155.6h0M295.2 194.0h0M228.7 184.7h0M271.0 115.8h0M348.4 158.9h0M401.9 132.9h0M287.5 199.0h0M241.9 90.1h0M217.2 166.3h0M341.4 131.0h0M301.0 211.1h0M344.6 147.3h0M359.3 143.0h0M238.2 207.7h0M302.3 123.7h0M252.1 185.0h0M276.0 103.8h0M296.9 195.9h0M348.7 108.6h0M300.6 111.7h0M333.7 207.6h0M363.0 194.4h0M245.7 200.4h0M244.6 176.4h0M212.7 184.5h0M233.8 167.3h0M300.7 89.8h0M219.7 128.8h0M246.3 182.1h0M263.9 122.3h0M267.7 127.2h0M382.1 139.4h0M271.7 126.2h0M253.8 118.9h0M346.9 169.1h0M278.3 193.5h0M224.1 160.4h0M266.1 130.0h0M382.7 152.9h0M332.4 122.0h0M343.5 101.1h0M318.6 187.2h0M355.2 164.1h0M313.8 119.1h0M280.4 127.0h0M234.3 138.1h0M355.8 157.4h0M350.3 129.3h0M338.6 141.2h0M262.9 131.3h0M310.9 201.9h0M378.2 117.3h0M254.6 132.2h0M271.2 196.1h0M355.8 172.8h0M362.7 175.2h0M237.9 162.9h0M323.3 189.9h0M378.5 131.7h0M260.9 122.0h0M348.0 153.0h0M318.9 192.2h0M365.1 182.5h0M344.1 174.2h0M250.8 221.6h0M244.8 169.0h0M360.0 145.5h0M271.1 127.1h0M220.9 147.4h0M232.2 184.9h0M322.4 114.7h0M240.5 200.1h0M242.1 216.2h0M251.6 129.6h0M336.2 117.7h0M291.1 120.6h0M282.1 202.3h0M344.8 170.2h0M199.2 185.4h0M372.9 182.6h0M345.9 206.9h0M392.5 191.7h0M308.0 209.2h0M346.8 175.6h0M349.2 212.3h0M276.2 112.2h0M327.9 200.1h0M282.9 113.2h0M265.3 122.6h0M263.9 209.6h0M249.8 184.6h0M326.3 196.1h0M358.2 137.5h0M246.7 137.0h0M230.1 118.1h0M250.4 131.1h0M342.3 184.5h0M347.6 144.0h0M250.1 182.5h0M274.3 195.8h0M393.1 174.2h0M291.9 121.9h0M226.0 154.6h0M237.2 139.6h0M310.7 113.0h0M377.3 139.5h0M287.9 212.4h0M251.8 188.1h0M335.4 186.1h0M275.3 128.4h0M342.2 145.7h0M249.6 135.5h0M250.7 135.6h0M237.9 155.7h0M354.3 108.0h0M233.8 164.8h0M316.8 128.1h0M333.9 182.4h0M238.8 117.7h0M340.2 186.7h0M241.3 186.8h0M343.7 124.2h0M276.9 204.5h0M248.5 209.3h0M334.3 132.7h0M313.8 107.8h0M243.8 179.4h0M299.0 122.3h0M335.4 207.5h0M255.7 133.2h0M224.0 170.6h0M249.6 191.7h0M343.9 171.5h0M236.8 183.5h0M227.7 114.7h0M348.9 131.5h0M371.6 128.4h0M195.3 188.7h0M355.3 206.9h0M301.0 213.3h0M307.8 194.3h0M243.7 101.3h0M230.4 198.1h0M286.8 125.7h0M316.4 105.4h0M271.7 194.9h0M359.7 205.7h0M250.2 135.7h0M345.5 195.4h0M280.8 109.8h0M351.4 185.1h0M312.3 194.4h0M335.1 119.8h0M321.7 224.7h0M243.2 199.7h0M331.8 93.8h0M352.6 184.3h0M328.3 202.6h0M376.8 174.3h0M212.9 144.3h0M218.6 163.4h0M345.6 144.6h0M314.8 190.1h0M241.4 189.8h0M260.0 186.9h0M394.1 192.0h0M339.4 129.2h0M349.4 135.5h0M316.2 190.0h0M286.0 97.7h0M385.3 176.3h0M234.9 164.7h0M360.3 158.3h0M352.6 130.0h0M222.9 136.4h0M341.8 126.8h0M264.1 187.6h0M273.6 210.3h0M223.3 145.1h0M259.2 201.0h0M376.2 142.6h0M239.7 223.3h0M267.3 234.9h0M355.6 209.2h0M250.8 99.1h0M249.5 136.7h0M377.8 127.5h0M356.7 183.6h0M186.0 136.5h0M368.5 223.8h0M296.4 74.6h0M247.0 136.8h0M256.9 131.8h0M360.3 143.6h0M284.1 199.4h0M314.7 120.4h0M281.4 211.8h0M343.8 105.6h0M313.2 92.6h0M282.3 218.7h0M299.9 230.9h0M243.2 199.6h0M238.6 128.2h0M315.7 191.1h0M207.0 156.0h0M254.5 191.9h0M233.3 162.3h0M190.2 156.3h0M323.2 122.6h0M321.3 197.1h0M337.3 138.5h0M271.6 200.3h0M236.0 182.0h0M218.1 146.1h0M261.8 197.4h0M403.0 129.5h0M273.6 116.1h0M245.5 137.7h0M246.8 185.8h0M276.2 109.1h0M244.9 178.6h0M288.9 119.6h0M221.5 185.0h0M396.1 183.9h0M183.6 149.7h0M198.9 202.2h0M340.7 186.6h0M311.2 126.9h0M354.4 144.2h0M275.1 109.8h0M336.4 184.6h0M294.9 203.0h0M252.5 192.4h0M310.7 214.4h0M246.9 191.9h0M304.2 123.6h0M349.1 122.8h0M311.9 193.6h0M210.6 209.9h0M280.5 204.5h0M425.9 146.3h0M249.9 109.3h0M327.6 216.3h0M242.4 185.0h0M357.7 87.7h0M293.1 209.8h0M249.2 174.6h0M245.9 171.5h0M301.1 197.2h0M353.3 180.0h0M369.7 175.7h0M319.8 118.8h0M252.0 177.1h0M241.6 185.5h0M263.1 76.8h0M286.2 110.3h0M307.3 116.7h0M341.7 200.8h0M219.9 136.3h0M234.3 155.4h0M352.5 108.2h0M216.3 150.0h0M240.0 185.1h0M243.1 126.9h0M241.9 183.8h0M340.1 124.2h0M336.8 177.5h0M350.5 89.5h0M383.4 178.9h0M308.1 210.9h0M303.2 123.9h0M266.2 190.8h0M231.0 133.2h0M240.1 165.6h0M325.0 130.0h0M247.4 135.7h0M361.7 192.5h0M325.1 196.1h0M268.7 117.1h0M219.7 168.4h0M274.0 198.6h0M341.7 190.2h0M214.9 117.8h0M266.9 127.9h0M358.9 190.6h0M228.3 196.1h0M385.2 192.5h0M286.2 199.9h0M249.7 116.7h0M247.6 142.3h0M295.1 114.8h0M275.6 206.5h0M321.1 125.8h0M216.4 137.8h0M238.7 201.5h0M357.3 150.4h0M260.2 185.5h0M239.9 144.6h0M245.2 192.6h0M361.7 135.5h0M305.7 213.5h0M322.8 224.5h0M248.2 103.9h0M348.6 198.6h0M393.3 160.3h0M357.8 127.6h0M352.6 148.8h0M321.1 221.6h0M218.0 120.2h0M298.1 115.6h0M363.6 138.9h0M312.4 94.3h0M280.0 99.2h0M351.1 190.5h0M292.8 116.3h0M202.7 186.7h0M360.2 176.0h0M338.3 180.0h0M244.8 178.5h0M231.0 170.3h0M291.1 90.0h0M301.4 194.9h0M352.4 176.6h0M359.5 157.5h0M237.6 135.5h0M255.3 180.2h0M348.9 180.1h0M243.8 182.2h0M422.8 180.3h0M215.9 138.4h0M264.0 187.5h0M355.7 172.9h0M331.5 210.3h0M352.9 132.5h0M279.6 124.0h0M357.2 150.5h0M246.4 185.6h0M321.0 191.9h0M270.3 191.3h0M223.3 166.6h0M228.0 181.5h0M251.3 176.6h0M337.7 196.3h0M337.1 186.6h0M255.6 127.1h0M349.4 236.2h0M258.8 107.9h0M349.0 167.1h0M216.9 148.8h0M337.5 139.7h0M238.1 148.7h0M264.4 211.6h0M272.0 204.3h0M336.7 132.8h0M350.4 148.8h0M258.2 120.1h0M260.8 215.3h0M239.7 131.6h0M377.5 198.5h0M269.0 191.6h0M237.1 133.1h0M251.4 135.8h0M367.4 201.9h0M303.0 112.4h0M289.9 210.4h0M239.2 180.7h0M375.8 126.8h0M323.0 123.3h0M382.1 142.8h0M187.8 181.1h0M341.4 129.6h0M313.2 199.6h0M336.6 137.7h0M341.3 199.7h0M289.2 194.1h0M222.5 140.4h0M355.5 169.3h0M373.2 194.9h0M300.8 108.8h0M212.7 202.8h0M355.8 184.9h0M196.4 144.0h0M324.4 106.7h0M362.6 163.0h0M260.2 187.7h0M207.0 200.9h0M294.9 111.7h0M254.1 196.6h0M330.6 186.5h0M264.3 191.5h0M372.9 180.4h0M308.5 125.6h0M354.9 128.7h0M341.6 180.8h0M331.6 104.8h0M368.5 184.2h0M300.2 117.7h0M256.8 104.2h0M223.2 137.6h0M297.0 215.4h0M268.6 191.3h0M214.9 151.1h0M295.6 192.0h0M422.3 128.8h0M245.1 202.6h0M356.3 171.2h0M316.7 188.4h0M319.5 122.0h0M367.6 200.0h0M321.4 124.9h0M359.5 156.5h0M211.2 188.1h0M405.9 155.1h0M335.1 113.0h0M243.3 149.5h0M329.5 194.8h0M280.1 197.2h0M325.0 115.0h0M257.6 197.8h0M385.2 131.0h0M330.0 127.1h0M253.1 130.6h0M269.7 115.3h0M229.0 147.5h0M238.7 157.6h0M252.4 181.5h0M261.7 110.0h0M246.1 102.7h0M286.7 107.5h0M331.1 134.8h0M269.2 214.8h0M259.2 125.9h0M346.9 169.9h0M299.5 199.0h0M247.4 188.1h0M238.4 164.9h0M328.7 203.7h0M257.8 208.5h0M250.6 186.2h0M351.2 201.9h0M229.6 144.0h0M351.8 131.6h0M290.4 117.9h0M213.9 143.0h0M342.3 176.1h0M278.0 126.3h0M353.5 106.0h0M241.4 196.0h0M249.8 106.4h0M309.8 125.1h0M231.5 178.4h0M295.0 195.3h0M197.2 216.0h0M310.8 116.9h0M286.4 117.8h0M313.5 111.3h0M225.9 182.0h0M282.8 195.6h0M320.4 205.8h0M357.2 140.2h0M264.5 117.2h0M422.4 138.5h0M311.9 210.5h0M268.6 207.6h0M374.5 124.3h0M243.1 197.4h0M243.2 143.3h0M211.4 151.1h0M335.1 179.0h0M330.4 188.2h0M208.3 170.1h0M344.0 213.3h0M346.0 149.3h0M250.0 130.9h0M221.0 169.5h0M336.6 192.0h0M369.6 198.3h0M293.1 113.2h0M324.2 201.1h0M266.2 189.6h0M241.2 147.2h0M245.5 194.5h0M226.7 159.0h0M201.5 152.9h0M348.4 107.6h0M279.1 219.8h0M372.4 178.8h0M197.1 102.5h0M335.0 125.4h0M349.6 134.1h0M359.2 184.4h0M218.8 156.4h0M254.6 129.8h0M394.8 176.7h0M212.4 203.8h0M321.3 124.2h0M339.2 101.3h0M365.9 173.3h0M241.6 181.8h0M203.7 160.7h0M225.9 125.9h0M291.1 210.2h0M276.2 200.1h0M239.2 191.3h0M280.4 213.2h0M375.4 184.7h0M254.7 132.6h0M248.5 132.1h0M361.9 183.3h0M280.1 117.6h0M297.9 108.2h0M170.2 158.9h0M347.3 153.6h0M216.9 206.0h0M341.7 201.9h0M217.5 135.5h0M213.2 179.7h0M247.3 124.1h0M240.3 162.5h0M315.2 126.2h0M301.3 201.6h0M287.5 193.3h0M377.4 167.7h0M347.1 127.5h0M303.8 195.9h0M232.5 117.8h0M285.5 198.6h0M292.9 197.0h0M383.3 184.8h0M288.7 211.0h0M314.5 190.3h0M233.3 139.1h0M262.9 188.9h0M347.1 152.2h0M203.6 149.6h0M340.7 196.6h0M349.7 143.1h0M237.7 134.1h0M337.8 185.1h0M312.5 191.4h0M343.8 172.6h0M374.8 197.8h0M305.4 203.3h0M226.8 204.3h0M236.4 174.4h0M291.6 197.4h0M290.7 194.9h0M348.9 159.5h0M266.2 192.9h0M341.5 140.1h0M283.2 117.5h0M360.0 182.6h0M271.6 105.5h0M213.0 104.5h0M223.7 129.5h0M393.8 176.3h0M258.9 127.0h0M354.6 162.9h0M318.6 202.5h0M271.2 126.8h0M244.1 168.8h0M229.3 158.9h0M269.8 200.3h0M234.4 154.0h0M237.1 170.8h0M236.7 154.6h0M247.0 135.5h0M231.6 153.7h0M358.1 143.7h0M399.5 129.9h0M226.7 165.6h0M238.0 150.9h0M314.2 123.0h0M352.2 136.3h0M314.3 192.4h0M357.7 185.2h0M371.8 162.3h0M292.0 111.6h0M306.8 203.3h0M337.3 135.3h0M255.4 186.9h0M320.2 208.4h0M212.8 182.2h0M314.6 108.9h0M208.9 164.7h0M260.9 99.6h0M317.0 122.1h0M223.9 199.8h0M345.3 87.9h0M254.6 131.9h0M329.9 223.5h0M388.6 151.8h0M244.9 128.8h0M263.2 214.2h0M238.2 151.7h0M222.8 172.2h0M261.0 109.9h0M232.4 141.7h0M399.9 163.1h0M272.6 193.4h0M173.5 155.6h0M271.3 106.9h0M393.1 147.1h0M370.8 140.7h0M285.3 125.5h0M273.1 124.3h0M320.2 101.9h0M262.6 200.3h0M298.5 81.5h0M253.8 128.9h0M373.8 126.4h0M302.9 219.9h0M296.9 195.8h0M394.5 193.8h0M204.4 179.7h0M244.6 114.6h0M333.7 134.8h0M295.7 197.5h0M313.5 118.0h0M217.1 126.7h0M353.5 138.7h0M359.1 167.9h0M318.4 197.9h0M270.9 98.8h0M239.6 145.1h0M346.0 121.3h0M240.1 144.3h0M376.2 115.3h0M425.3 194.6h0M259.4 194.4h0M372.4 151.8h0M356.5 163.6h0M225.8 165.2h0M244.0 191.8h0M365.8 160.9h0M354.6 162.9h0M295.8 119.0h0M395.4 139.1h0M284.9 196.2h0M225.3 171.7h0M375.7 183.7h0M255.2 190.7h0M236.6 151.4h0M264.8 226.3h0M288.6 196.9h0M235.1 185.7h0M353.9 154.1h0M253.6 125.6h0M331.9 218.3h0M259.2 236.3h0M325.6 191.1h0M344.6 183.4h0M304.2 197.8h0M252.9 120.6h0M277.5 113.1h0M337.5 139.6h0M360.9 160.9h0M337.7 209.3h0M378.1 140.7h0M342.3 171.4h0M245.0 77.8h0M331.5 187.4h0M338.0 99.2h0M360.4 158.7h0M337.8 197.9h0M335.7 179.3h0M238.0 182.8h0M357.3 186.7h0M278.5 199.8h0M200.7 147.3h0M244.7 121.7h0M344.1 130.1h0M290.2 202.0h0M371.7 198.9h0M367.2 146.8h0M257.9 133.3h0M230.4 114.4h0M392.7 136.1h0M328.4 117.1h0M323.2 191.0h0M204.0 182.1h0M343.2 185.7h0M371.0 177.7h0M244.7 182.1h0M260.1 191.9h0M310.0 202.0h0M333.1 188.5h0M327.2 125.9h0M247.4 205.5h0M247.3 139.9h0M280.6 198.3h0M346.7 127.7h0M277.4 106.1h0M358.1 127.6h0M341.4 130.6h0M237.7 185.9h0M330.1 187.6h0M252.6 180.7h0M256.5 190.3h0M258.7 126.0h0M266.7 228.5h0M270.1 194.7h0M336.3 99.6h0M285.8 216.6h0M406.2 171.6h0M370.6 142.3h0M239.0 117.0h0M330.8 198.7h0M346.2 115.6h0M353.8 161.5h0M269.0 203.2h0M372.4 122.3h0M386.6 160.2h0M324.5 102.0h0M336.9 130.2h0M233.4 198.0h0M338.5 135.1h0M347.4 82.2h0M252.1 196.3h0M220.2 129.8h0M287.9 113.7h0M373.4 140.2h0M337.3 125.8h0M320.4 197.5h0M226.3 177.0h0M264.2 118.7h0M295.0 124.1h0M326.8 190.8h0M346.2 177.0h0M335.0 191.3h0M292.9 122.4h0M348.0 195.9h0M345.4 106.6h0M339.2 189.8h0M282.6 84.9h0M327.3 212.9h0M339.7 106.3h0M212.9 155.4h0M243.3 168.4h0M304.5 192.5h0M279.1 201.9h0M283.3 100.2h0M280.7 209.1h0M250.8 194.8h0M330.2 184.7h0M282.3 240.0h0M330.7 122.0h0M242.8 135.7h0M236.2 158.5h0M297.5 191.0h0M265.4 125.3h0M220.5 150.4h0M396.6 145.2h0M319.2 126.6h0M351.0 172.1h0M290.8 93.4h0M286.7 206.8h0M234.0 150.6h0M367.5 192.5h0M386.9 173.0h0M353.3 133.8h0M193.5 142.7h0M369.8 186.2h0M249.7 135.8h0M239.3 180.6h0M414.3 110.7h0M265.5 126.3h0M312.9 227.4h0M271.5 112.3h0M347.7 190.4h0M240.1 172.9h0M384.9 157.4h0M216.3 169.8h0M284.7 122.7h0M350.9 212.1h0M240.7 171.9h0M394.8 174.9h0M352.7 161.2h0M247.9 202.7h0M264.1 126.8h0M243.4 83.8h0M262.7 128.9h0M235.0 218.7h0M367.4 143.5h0M279.3 192.4h0M261.1 193.4h0M286.7 207.3h0M250.1 179.1h0M222.5 200.1h0M241.9 144.9h0M300.6 202.4h0M241.7 175.8h0M279.0 90.4h0M372.2 128.4h0M299.6 123.6h0M239.4 150.7h0M253.7 204.6h0M309.0 196.2h0M310.2 189.0h0M345.7 78.8h0M283.4 217.0h0M182.2 136.5h0M264.1 198.4h0M301.0 217.0h0M349.5 175.3h0M371.6 104.7h0M210.6 149.8h0M224.7 116.0h0M296.6 123.6h0M365.3 134.0h0M280.2 206.3h0M304.0 119.7h0M298.2 116.9h0M198.3 170.4h0M205.7 175.8h0M269.3 128.5h0M292.1 115.6h0M228.2 162.4h0M229.6 215.0h0M227.9 171.1h0M253.8 180.2h0M319.2 190.4h0M214.4 196.6h0M278.9 211.9h0M315.8 225.8h0M192.7 145.4h0M353.7 180.0h0M244.6 145.5h0M232.7 199.4h0M377.5 149.5h0M258.6 129.0h0M240.6 188.1h0M344.9 146.0h0M372.8 193.6h0M228.2 151.9h0M282.3 195.9h0M240.4 132.2h0M255.8 132.4h0M369.6 195.9h0M223.3 168.6h0M284.8 119.3h0M336.4 133.6h0M320.1 119.0h0M279.5 209.8h0M270.7 107.6h0M348.9 162.6h0M252.9 92.5h0M234.4 162.1h0M293.5 121.7h0M234.2 168.7h0M374.9 177.2h0M339.2 220.0h0M322.8 229.8h0M350.7 198.2h0M332.4 96.2h0M282.9 194.3h0M318.9 189.7h0M300.5 207.0h0M309.1 126.0h0M388.3 161.5h0M251.2 138.2h0M354.2 140.5h0M363.6 132.0h0M337.7 190.2h0M292.6 217.8h0M255.3 127.1h0M232.5 153.7h0M347.8 145.4h0M283.9 193.1h0M304.0 200.0h0M247.5 141.9h0M297.9 123.3h0M352.2 173.1h0M336.1 131.1h0M244.8 139.9h0M355.2 161.4h0M369.8 122.6h0M222.6 158.4h0M313.4 187.6h0M335.6 110.3h0M239.4 161.9h0M296.2 191.6h0M229.3 213.6h0M277.6 116.5h0M216.2 164.9h0M269.7 127.9h0M332.2 190.1h0M409.7 148.0h0M401.5 188.8h0M338.5 138.2h0M312.7 108.6h0M250.0 210.0h0M236.1 152.5h0M235.7 140.4h0M403.2 164.2h0M190.7 159.3h0M238.7 129.9h0M343.5 171.5h0M348.4 165.8h0M382.0 157.3h0M401.1 117.4h0M302.5 215.2h0M277.2 199.0h0M231.4 204.5h0M345.1 170.7h0M308.0 195.4h0M369.7 157.8h0M299.0 118.4h0M292.5 121.8h0M207.8 143.2h0M219.6 130.4h0M299.9 116.6h0M273.8 116.6h0M345.1 137.7h0M290.6 124.9h0M231.0 170.2h0M301.3 112.1h0M344.0 173.4h0M378.0 154.4h0M311.6 99.3h0M265.5 189.7h0M253.9 186.5h0M216.5 131.5h0M347.8 117.2h0M239.1 204.3h0M348.8 161.4h0M287.1 113.9h0M311.0 126.5h0M334.4 85.4h0M250.9 135.1h0M241.8 147.7h0M335.7 134.9h0M373.7 128.3h0M346.3 130.5h0M347.2 197.6h0M215.6 152.4h0M253.4 198.8h0M289.2 119.4h0M365.6 121.6h0M270.4 124.8h0M263.6 193.3h0M307.6 124.0h0M235.4 160.0h0M397.1 152.1h0M362.5 117.4h0M314.0 124.1h0M357.9 178.2h0M232.2 153.8h0M298.8 210.5h0M236.1 172.3h0M346.3 127.9h0M328.3 126.9h0M242.9 146.9h0M347.2 153.8h0M307.7 111.5h0M280.5 111.7h0M260.4 122.3h0M288.1 192.4h0M353.6 155.4h0M345.6 120.6h0M240.9 151.4h0M240.3 126.0h0M230.8 167.7h0M236.1 142.6h0M352.9 146.0h0M279.0 196.0h0M338.2 119.3h0M216.2 153.8h0M239.6 121.9h0M312.5 200.3h0M303.5 190.3h0M325.7 192.9h0M381.3 215.7h0M244.5 141.6h0M281.8 124.3h0M410.8 174.1h0M370.9 182.6h0M367.7 184.4h0M354.6 172.4h0M335.7 135.9h0M234.3 199.0h0M243.0 168.2h0M225.4 204.8h0M257.5 227.2h0M320.0 120.7h0M343.0 168.9h0M245.4 140.9h0M300.8 191.8h0M310.1 196.6h0M377.6 173.6h0M257.2 199.7h0M352.3 171.9h0M242.4 224.6h0M402.6 155.6h0M342.6 170.7h0M207.7 148.7h0M339.8 215.8h0M370.7 190.9h0M405.2 151.6h0M297.9 110.3h0M335.0 179.6h0M334.2 180.2h0M334.9 183.4h0M399.3 157.2h0M295.6 198.0h0M199.3 179.5h0M334.6 137.1h0M252.3 217.7h0M234.3 155.5h0M271.3 190.4h0M209.3 122.8h0M354.2 170.5h0M251.5 195.1h0M215.7 146.6h0M347.7 157.7h0M257.0 195.2h0M317.6 186.5h0M299.5 211.7h0M250.7 221.7h0M239.2 146.4h0M347.6 167.1h0M225.5 124.7h0M360.0 106.4h0M255.3 117.4h0M350.1 143.3h0M347.5 148.1h0M252.3 124.8h0M301.4 119.6h0M366.2 152.7h0M357.9 140.0h0M373.5 122.0h0M341.4 174.1h0M238.1 162.7h0M230.1 198.3h0M219.3 146.7h0M337.5 126.6h0M212.6 198.8h0M229.0 144.8h0M367.0 179.4h0M331.5 183.2h0M250.9 132.0h0M385.9 155.8h0M200.8 148.9h0M406.2 135.2h0M276.7 198.8h0M360.5 154.4h0M246.0 117.4h0M241.2 136.7h0M265.7 230.4h0M312.8 109.9h0M345.8 143.5h0M344.4 200.3h0M351.9 131.6h0M369.2 154.4h0M280.7 221.1h0M320.2 117.0h0M324.5 118.6h0M286.5 125.8h0M358.7 120.3h0M319.5 186.5h0M315.1 188.6h0M337.4 190.1h0M281.2 200.7h0M263.7 188.5h0M343.6 228.9h0M272.7 206.0h0M346.1 118.6h0M210.3 184.1h0M244.7 192.4h0M423.3 185.0h0M347.4 168.6h0M274.4 120.2h0M340.1 176.2h0M345.9 121.3h0M299.9 213.3h0M422.4 166.6h0M377.0 161.7h0M248.8 179.0h0M285.1 199.5h0M333.7 133.9h0M222.7 168.6h0M355.3 226.1h0M373.2 144.0h0M378.2 188.1h0M424.5 190.3h0M277.0 195.7h0M274.7 195.4h0M237.7 152.0h0M226.1 119.3h0M374.7 144.9h0M253.0 191.2h0M280.8 125.5h0M321.1 196.3h0M342.3 136.3h0M221.1 133.2h0M349.9 192.0h0M354.2 174.3h0M272.6 196.0h0M355.1 123.9h0M353.4 160.7h0M222.9 149.1h0M371.2 200.2h0M352.6 160.2h0M338.2 187.2h0M337.0 179.0h0M368.7 183.0h0M252.0 115.4h0M305.9 192.8h0M335.0 229.6h0M183.6 149.8h0M302.8 105.9h0M284.4 202.7h0M359.0 124.0h0M263.2 108.4h0M236.6 136.8h0M377.2 148.1h0M301.9 116.8h0M348.6 136.8h0M295.5 111.8h0M300.6 216.3h0M306.4 246.1h0M338.2 179.5h0M226.9 167.6h0M383.0 195.3h0M361.6 165.2h0M262.1 215.7h0M227.3 152.1h0M309.5 200.0h0M359.5 175.5h0M358.8 144.2h0M252.1 121.1h0M277.6 197.8h0M268.2 116.1h0M262.3 193.9h0M303.2 219.2h0M346.1 167.9h0M229.3 152.8h0M253.1 198.6h0M234.4 186.6h0M249.0 134.6h0M391.2 171.9h0M353.0 107.7h0M269.8 118.8h0M294.9 200.8h0M368.3 149.7h0M245.7 179.9h0M337.6 126.2h0M359.1 156.0h0M358.8 203.4h0M297.1 81.9h0M263.4 188.0h0M324.1 128.5h0M267.7 129.1h0M224.3 174.4h0M400.9 199.8h0M252.6 179.0h0M318.2 208.6h0M332.8 113.0h0M251.9 200.1h0M252.6 207.0h0M270.8 107.0h0M201.9 143.6h0M230.5 117.6h0M180.4 163.8h0M252.6 181.7h0M302.9 123.6h0M297.4 202.2h0M268.4 190.1h0M336.2 186.7h0M422.7 187.7h0M306.6 125.7h0M347.1 166.6h0M347.1 193.2h0M310.4 205.9h0M238.0 152.1h0M329.4 244.0h0M381.9 160.9h0M252.9 197.2h0M220.1 176.3h0M213.8 154.3h0M240.7 196.7h0M325.2 187.5h0M390.7 153.2h0M341.5 181.2h0M310.3 192.7h0M232.0 134.9h0M344.6 197.3h0M364.9 115.4h0M349.7 120.6h0M240.8 140.6h0M246.3 177.7h0M240.2 131.6h0M307.9 95.4h0M318.8 127.1h0M284.5 202.8h0M303.2 106.5h0M354.4 128.9h0M295.8 107.6h0M338.1 122.5h0M292.5 218.1h0M241.2 172.9h0M387.9 169.8h0M276.8 193.1h0M313.9 200.5h0M329.9 189.1h0M324.9 131.1h0M360.6 200.3h0M339.2 131.7h0M342.6 145.4h0M288.1 192.7h0M307.8 113.8h0M301.3 193.5h0M223.3 179.0h0M251.5 185.8h0M237.6 192.4h0M329.4 197.1h0M368.3 139.5h0M310.1 197.7h0M253.8 108.5h0M287.8 200.3h0M269.6 206.1h0M250.1 187.8h0M365.0 171.0h0M366.0 127.5h0M323.5 207.4h0M304.7 114.0h0M210.5 169.7h0M318.1 127.1h0M369.9 132.7h0M235.6 156.0h0M272.7 192.1h0M372.6 172.7h0M288.9 204.4h0M368.7 131.4h0M297.2 119.4h0M190.5 186.3h0M380.0 156.2h0M341.1 140.6h0M242.5 141.8h0M336.9 187.7h0M337.5 195.4h0M217.2 149.6h0M269.8 116.8h0M334.4 120.2h0M261.4 120.2h0M236.1 166.8h0M339.1 128.3h0M294.4 116.2h0M275.3 105.7h0M283.5 196.3h0M376.3 168.0h0M205.5 147.6h0M244.1 186.8h0M255.6 132.0h0M273.0 192.6h0M232.3 125.7h0M269.1 197.9h0M302.1 197.4h0M339.7 117.5h0M276.1 125.5h0M223.5 156.8h0M254.6 206.6h0M282.6 113.0h0M328.7 117.4h0M401.3 186.8h0M227.0 164.9h0M211.4 160.0h0M353.7 169.4h0M284.7 113.0h0M320.7 112.6h0M246.8 196.5h0M263.7 186.5h0M321.2 203.0h0M312.5 204.2h0M229.2 184.5h0M264.8 128.7h0M334.4 196.4h0M253.5 113.8h0M331.0 207.6h0M279.7 126.8h0M205.2 132.5h0M298.0 194.9h0M214.6 119.1h0M319.4 115.1h0M374.4 131.6h0M234.2 180.1h0M359.6 106.1h0M358.6 141.8h0M331.9 191.9h0M346.2 128.3h0M349.2 112.7h0M323.1 95.8h0M382.6 121.6h0M249.2 130.7h0M248.6 126.5h0M251.3 138.5h0M326.1 217.1h0M342.6 171.5h0M287.9 206.3h0M240.9 170.8h0M261.2 212.7h0M271.1 219.3h0M313.1 117.8h0M332.6 215.3h0M343.1 146.0h0M235.4 182.1h0M185.1 183.8h0M160.9 182.5h0M312.4 125.6h0M359.5 129.7h0M240.5 153.0h0M343.4 125.8h0M280.9 107.5h0M230.4 180.2h0M335.3 134.0h0M228.5 142.3h0M351.7 165.3h0M370.7 119.9h0M253.0 127.5h0M210.2 191.0h0M270.6 214.3h0M371.6 156.0h0M285.0 119.1h0M355.3 153.8h0M358.3 146.0h0M340.6 123.6h0M355.3 128.9h0M318.0 192.0h0M371.6 148.2h0M336.0 206.8h0M284.5 89.2h0M363.8 130.6h0M256.5 111.1h0M248.8 188.3h0M256.5 216.8h0M279.1 193.4h0M259.9 203.6h0M220.6 132.9h0M332.6 132.9h0M282.3 201.7h0M300.7 115.7h0M347.2 129.8h0M306.5 120.5h0M235.0 148.2h0M339.8 84.3h0M285.4 200.2h0M326.0 201.7h0M263.6 198.4h0M260.4 128.3h0M237.0 124.2h0M358.9 191.0h0M286.6 192.5h0M217.6 169.0h0M293.8 121.0h0M335.1 192.9h0M193.1 147.2h0M325.4 107.8h0M262.1 119.9h0M205.8 167.8h0M281.3 119.8h0M339.4 179.1h0M294.8 91.4h0M308.4 222.5h0M329.3 188.6h0M321.5 194.7h0M243.3 172.8h0M393.6 172.7h0M311.2 111.7h0M351.3 154.3h0M270.7 88.7h0M306.2 82.1h0M288.9 123.6h0M237.7 149.4h0M247.5 172.1h0M366.2 165.6h0M224.0 175.5h0M326.7 213.0h0M303.8 193.8h0M254.0 186.0h0M269.5 124.4h0M352.1 102.4h0M392.8 126.5h0M231.0 153.1h0M326.6 204.1h0M318.8 103.7h0M287.3 115.3h0M234.5 136.6h0M317.3 187.4h0M214.4 197.1h0M399.5 222.9h0M368.5 97.8h0M370.7 136.4h0M353.0 164.5h0M352.3 163.2h0M344.5 186.1h0M262.7 198.8h0M391.5 158.3h0M268.4 199.9h0M252.7 134.9h0M237.1 143.2h0M409.5 188.2h0M331.8 89.7h0M324.2 116.4h0M357.1 169.0h0M335.5 124.1h0M246.4 172.0h0M253.4 196.8h0M314.1 123.9h0M385.1 148.2h0M337.9 124.5h0M291.2 117.9h0M372.5 191.0h0M320.9 127.3h0M360.5 139.1h0M227.2 149.9h0M348.6 155.6h0M278.4 231.3h0M341.9 183.0h0M338.9 128.7h0M324.6 101.5h0M339.0 176.3h0M323.2 203.5h0M312.4 125.0h0M278.4 191.7h0M253.0 114.4h0M304.1 116.4h0M355.3 93.8h0M349.1 124.5h0M215.8 185.1h0M233.4 129.5h0M229.9 119.9h0M292.2 111.7h0M310.9 210.6h0M217.3 144.4h0M393.5 144.5h0M218.2 178.8h0M376.5 148.8h0M269.9 208.1h0M299.2 118.2h0M238.4 154.1h0M245.1 199.6h0M378.3 186.8h0M282.1 79.9h0M402.8 162.0h0M233.2 140.9h0M359.5 141.3h0M228.2 132.9h0M271.6 119.1h0M270.1 199.0h0M206.8 132.4h0M305.5 120.2h0M255.3 132.9h0M424.1 149.7h0M365.9 152.2h0M373.3 118.9h0M239.4 124.6h0M263.6 122.8h0M268.1 198.1h0M323.5 185.1h0M305.4 118.7h0M364.0 198.0h0M288.1 193.2h0M243.9 133.9h0M252.2 180.1h0M257.8 124.0h0M275.7 127.3h0M193.0 184.8h0M303.9 211.2h0M340.6 100.5h0M339.0 142.7h0M271.2 129.1h0M206.0 222.5h0M344.4 130.8h0M240.7 147.3h0M390.0 136.8h0M230.4 176.8h0M267.6 125.1h0M353.8 140.8h0M307.8 103.2h0M340.2 184.8h0M355.0 202.4h0M247.3 206.0h0M305.6 189.7h0M357.3 176.6h0M408.2 131.4h0M339.9 180.9h0M253.6 212.3h0M255.6 104.0h0M230.0 181.9h0M333.7 195.2h0M247.8 207.0h0M246.1 175.4h0M287.2 193.5h0M311.8 192.7h0M229.0 148.8h0M362.1 151.6h0M238.9 147.8h0M346.4 164.3h0M329.9 106.5h0M262.5 115.5h0M346.2 196.5h0M253.0 126.7h0M337.9 141.0h0M279.1 210.4h0M331.3 124.9h0M267.5 128.9h0M248.7 185.3h0M212.6 129.3h0M278.7 99.4h0M380.8 190.1h0M381.7 206.2h0M239.6 144.0h0M225.2 155.1h0M227.3 101.8h0M346.4 181.5h0M373.5 151.4h0M371.6 208.8h0M283.4 196.2h0M251.8 178.9h0M347.6 169.9h0M405.7 159.7h0M367.6 95.3h0M199.4 173.3h0M336.2 196.1h0M236.8 152.0h0M234.2 137.5h0M262.8 187.4h0M286.1 124.0h0M258.5 131.6h0M248.5 223.4h0M260.7 130.8h0M252.4 180.2h0M366.8 130.3h0M281.6 197.6h0M384.7 119.3h0M312.5 123.7h0M250.6 138.2h0M234.9 166.0h0M241.7 149.6h0M349.9 113.9h0M261.9 186.8h0M400.6 166.6h0M279.2 209.7h0M277.7 105.9h0M316.1 86.0h0M220.5 199.9h0M220.0 167.7h0M234.0 171.2h0M325.3 124.5h0M239.9 168.0h0M369.9 120.6h0M280.5 198.4h0M186.5 128.8h0M305.7 102.2h0M346.5 160.2h0M216.0 134.1h0M236.7 150.2h0M377.6 141.3h0M222.5 155.5h0M293.7 119.7h0M325.1 216.7h0M361.8 147.2h0M313.9 114.4h0M359.5 132.0h0M231.0 138.9h0M241.3 144.3h0M376.3 139.1h0M383.4 153.3h0M338.5 138.1h0M300.2 191.1h0M246.6 117.7h0M313.1 113.8h0M356.8 196.1h0M265.4 126.1h0M239.8 141.7h0M378.1 124.0h0M369.7 133.8h0M227.5 231.6h0M366.3 134.8h0M414.4 187.1h0M211.0 170.4h0M274.2 116.9h0M358.8 164.2h0M345.1 158.3h0M345.0 111.5h0M251.1 198.1h0M355.1 204.1h0M299.5 114.9h0M227.9 123.3h0M337.7 185.4h0M364.4 178.4h0M252.8 133.2h0M193.6 172.4h0M277.8 198.4h0M280.0 201.1h0M276.2 197.0h0M303.5 123.4h0M255.3 134.5h0M387.7 163.9h0M274.4 197.9h0M271.7 194.7h0M352.7 193.6h0M347.1 134.6h0M283.5 91.5h0M346.2 150.5h0M256.3 106.7h0M211.5 175.5h0M364.0 119.3h0M282.2 123.5h0M325.3 130.5h0M224.2 150.7h0M345.5 139.2h0M247.9 188.8h0M260.4 188.2h0M283.3 199.3h0M348.5 192.0h0M321.8 127.0h0M372.4 145.8h0M345.5 152.6h0M337.7 128.9h0M283.4 197.2h0M288.2 212.2h0M435.1 197.4h0M277.1 114.8h0M344.5 166.8h0M319.0 115.5h0M219.2 141.1h0M260.2 132.4h0M240.6 146.5h0M345.8 148.2h0M206.8 187.4h0M236.5 120.0h0M363.3 125.7h0M247.3 176.2h0M287.0 116.2h0M346.7 127.0h0M350.4 162.1h0M315.8 216.0h0M311.8 199.2h0M352.3 141.5h0M316.8 89.2h0M320.6 206.8h0M427.8 191.4h0M264.7 205.6h0M292.3 206.0h0M210.2 211.8h0M289.1 77.7h0M361.3 157.0h0M296.2 117.3h0M276.0 192.3h0M254.2 197.0h0M240.4 154.9h0M310.9 117.8h0M343.3 140.3h0M318.7 112.5h0M222.3 129.8h0M272.1 194.5h0M308.9 194.6h0M230.4 161.1h0M370.2 164.2h0M385.3 170.5h0M205.9 132.0h0M355.8 121.2h0M246.4 239.2h0M370.7 167.9h0M247.8 182.6h0M355.9 172.7h0M338.4 179.6h0M344.7 150.0h0M236.5 150.7h0M227.3 156.2h0M254.4 180.4h0M229.6 150.1h0M363.5 126.9h0M295.3 217.0h0M299.9 115.0h0M298.6 197.7h0M273.5 113.9h0M240.1 157.5h0M290.7 103.2h0M271.3 201.7h0M337.7 88.7h0M355.0 164.6h0M329.7 184.2h0M331.6 204.5h0M353.5 153.3h0M395.1 164.9h0M241.1 162.9h0M183.3 177.1h0M254.4 191.1h0M242.7 172.8h0M218.4 156.2h0M344.5 185.7h0M327.4 183.8h0M326.9 195.2h0M361.0 147.7h0M314.7 121.6h0M345.9 175.6h0M229.6 127.8h0M335.6 126.6h0M234.4 173.8h0M360.8 131.6h0M268.5 104.4h0M285.5 116.5h0M331.4 190.5h0M236.2 211.1h0M266.7 87.6h0M332.0 194.2h0M373.5 173.3h0M230.6 133.8h0M396.7 188.0h0M237.8 185.7h0M239.2 134.0h0M242.7 190.4h0M254.6 193.4h0M358.1 203.7h0M392.0 203.4h0M327.0 129.0h0M276.6 125.9h0M293.3 214.7h0M253.7 127.5h0M227.4 219.2h0M346.9 177.0h0M355.8 129.2h0M308.0 117.3h0M380.1 166.2h0M351.9 161.4h0M360.3 177.2h0M303.8 125.1h0M352.0 166.4h0M222.0 180.1h0M233.8 138.9h0M345.3 187.2h0M234.8 173.5h0M235.0 141.3h0M349.1 170.3h0M247.4 128.4h0M340.7 124.0h0M300.7 194.5h0M239.0 149.4h0M372.8 144.6h0M240.5 141.8h0M289.2 115.9h0M333.6 182.8h0M357.8 151.9h0M336.7 120.2h0M350.2 206.0h0M373.5 142.1h0M304.0 118.2h0M271.4 126.8h0M218.2 181.8h0M241.9 143.4h0M235.9 143.6h0M338.0 130.4h0M335.7 119.3h0M208.1 167.7h0M358.7 207.3h0M221.8 135.5h0M312.8 200.9h0M284.9 199.2h0M343.7 188.1h0M279.4 195.7h0M326.8 128.6h0M290.6 118.4h0M367.8 154.4h0M383.6 176.4h0M252.2 190.3h0M275.7 231.6h0M339.3 139.0h0M325.4 202.7h0M359.0 176.5h0M307.1 94.9h0M348.6 191.1h0M357.7 174.1h0M339.8 180.9h0M350.0 141.1h0M360.5 170.3h0M223.8 161.0h0M224.7 191.6h0M226.1 132.3h0M225.5 187.8h0M316.0 117.5h0M249.1 119.2h0M344.0 150.2h0M301.6 117.5h0M373.5 149.9h0M244.2 172.9h0M371.7 198.4h0M385.5 196.9h0M215.2 159.5h0M215.9 219.0h0M367.3 175.3h0M294.2 110.9h0M319.3 192.4h0M250.8 192.9h0M325.2 122.7h0M224.0 157.4h0M355.2 114.0h0M253.4 134.8h0M233.2 99.4h0M271.0 128.4h0M239.1 158.8h0M306.5 124.6h0M251.5 116.8h0M370.7 164.3h0M241.4 128.5h0M283.0 125.1h0M253.1 186.2h0M349.5 125.9h0M261.4 211.8h0M350.2 138.8h0M282.5 124.5h0M333.2 135.6h0M243.4 205.7h0M377.9 137.4h0M457.1 140.0h0M228.0 192.8h0M246.9 201.3h0M445.5 117.7h0M359.1 146.2h0M354.5 196.7h0M378.5 161.0h0M266.1 108.1h0M369.5 182.0h0M317.7 76.0h0M249.5 103.0h0M284.2 206.9h0M230.8 161.4h0M223.0 147.1h0M379.9 151.6h0M220.2 157.5h0M316.8 211.6h0M339.5 131.4h0M386.7 162.4h0M369.9 198.2h0M269.8 122.3h0M217.2 188.3h0M245.0 142.1h0M245.1 180.0h0M245.9 178.4h0M269.7 120.3h0M343.4 175.6h0M294.1 223.3h0M267.2 195.2h0M309.6 122.9h0M248.7 173.7h0M347.1 215.1h0M322.2 117.0h0M345.9 162.3h0M245.2 141.9h0M216.1 138.9h0M306.7 191.9h0M249.4 124.6h0M354.8 187.8h0M317.3 201.6h0M325.3 196.6h0M263.4 203.3h0M248.8 178.9h0M250.7 134.6h0M258.0 118.7h0M328.4 116.0h0M290.3 192.8h0M327.9 189.8h0M231.6 159.2h0M304.0 113.1h0M325.0 128.5h0M381.0 119.8h0M212.3 162.9h0M336.4 178.0h0M399.9 137.9h0M238.8 126.8h0M256.5 117.7h0M262.6 130.5h0M336.6 186.0h0M366.7 186.8h0M277.0 210.7h0M353.4 181.8h0M262.8 216.1h0M350.2 177.1h0M320.8 209.9h0M349.8 154.3h0M350.7 151.7h0M345.6 150.2h0M291.5 120.2h0M258.8 199.5h0M269.9 117.4h0M264.2 118.6h0M237.3 76.2h0M365.0 165.9h0M342.7 188.4h0M330.8 194.1h0M197.0 169.9h0M347.0 159.6h0M279.1 126.4h0M258.4 132.8h0M258.3 185.8h0M351.3 177.4h0M276.9 121.8h0M248.6 134.7h0M269.4 201.5h0M267.7 216.1h0M239.9 138.3h0M343.9 222.8h0M243.2 179.2h0M270.7 190.6h0M242.8 179.5h0M287.2 194.3h0M315.8 123.9h0M315.1 113.1h0M415.0 201.9h0M244.4 127.4h0M241.7 105.0h0M363.7 179.7h0M234.8 172.5h0M266.7 129.9h0M278.8 207.6h0M329.2 185.7h0M412.8 183.4h0M408.9 168.8h0M194.6 226.9h0M354.9 202.2h0M240.6 159.7h0M298.5 195.6h0M282.3 199.6h0M283.4 206.3h0M324.7 193.0h0M317.0 111.0h0M320.8 87.2h0M285.7 195.0h0M246.1 228.9h0M325.9 118.9h0M360.0 204.6h0M306.2 216.3h0M202.4 170.5h0M272.2 92.3h0M256.4 131.4h0M347.2 201.8h0M355.6 142.8h0M347.0 166.1h0M294.1 192.0h0M345.8 137.9h0M372.3 170.7h0M357.9 184.7h0M239.4 167.4h0M281.4 192.2h0M242.8 146.7h0M331.6 113.3h0M228.6 151.2h0M255.6 92.3h0M234.7 129.1h0M342.1 120.4h0M403.1 174.8h0M240.6 126.8h0M280.0 204.6h0M235.9 146.2h0M271.3 119.2h0M286.1 200.5h0M316.8 126.0h0M283.2 123.1h0M355.1 134.2h0M263.5 193.0h0M384.3 162.9h0M342.0 145.7h0M289.1 110.7h0M357.2 164.1h0M343.6 172.9h0M307.4 192.8h0M404.1 162.7h0M341.6 141.2h0M340.1 174.7h0M320.7 99.2h0M344.2 169.2h0M371.8 170.3h0M243.0 179.6h0M341.6 183.4h0M345.0 131.9h0M361.9 172.1h0M364.2 104.4h0M191.2 165.9h0M282.0 206.6h0M376.2 140.3h0M347.9 164.5h0M321.6 101.0h0M222.5 196.8h0M272.1 113.0h0M398.6 154.0h0M390.7 166.6h0M315.3 190.6h0M271.0 204.7h0M263.4 129.0h0M386.4 174.3h0M328.9 95.9h0M279.4 212.9h0M221.1 206.5h0M398.5 135.6h0M396.4 129.1h0M354.3 187.7h0M308.5 223.0h0M277.7 198.6h0M223.3 183.9h0M401.1 161.1h0M381.4 129.5h0M369.5 155.6h0M223.2 146.2h0M345.0 160.9h0M252.5 137.5h0M339.2 181.4h0M350.5 130.0h0M281.1 121.1h0M358.0 123.6h0M314.5 202.6h0M375.6 123.5h0M246.2 134.3h0M356.2 163.2h0M324.3 131.6h0M306.3 227.3h0M206.5 171.6h0M187.2 158.8h0M284.1 199.6h0M272.5 219.2h0M369.5 138.4h0M421.6 184.5h0M258.5 189.6h0M360.3 132.8h0M311.9 125.6h0M318.2 127.3h0M314.9 196.3h0M280.0 196.4h0M245.8 173.6h0M389.1 165.3h0M309.4 218.5h0M253.7 113.9h0M347.3 147.6h0M275.8 208.4h0M235.7 157.5h0M386.0 171.0h0M266.0 207.9h0M258.2 183.0h0M224.0 141.9h0M315.8 196.2h0M352.2 153.8h0M229.9 169.2h0M327.9 114.6h0M289.8 197.2h0M240.8 131.4h0M324.0 112.0h0M191.6 174.7h0M322.4 191.7h0M386.0 181.4h0M177.6 174.4h0M247.9 202.6h0M241.4 176.2h0M188.0 162.5h0M279.6 201.2h0M255.4 112.5h0M344.0 191.6h0M263.0 191.5h0M185.8 169.0h0M336.5 221.2h0M281.9 199.8h0M236.5 157.7h0M325.6 205.0h0M325.2 234.9h0M408.4 155.4h0M334.2 205.6h0M285.9 234.5h0M250.4 217.1h0M231.2 165.2h0M263.7 114.5h0M372.8 173.9h0M455.3 157.9h0M365.6 103.3h0M254.6 207.0h0M363.8 129.2h0M287.9 202.7h0M286.9 104.3h0M407.6 178.3h0M310.0 191.9h0M400.0 119.5h0M310.5 195.3h0M254.6 133.9h0M228.1 120.4h0M231.0 161.4h0M283.6 201.2h0M363.7 157.7h0M342.9 115.9h0M403.1 135.4h0M348.2 171.1h0M368.5 132.1h0M285.7 87.3h0M257.3 133.0h0M295.5 120.5h0M378.0 125.9h0M258.4 188.0h0M213.9 156.5h0M346.3 164.7h0M349.6 168.8h0M333.9 111.8h0M361.9 153.1h0M397.5 150.3h0M345.6 141.0h0M235.1 121.2h0M325.7 202.9h0M296.3 119.8h0M355.5 163.6h0M250.1 141.4h0M223.5 139.5h0M343.2 119.6h0M241.6 114.3h0M360.1 129.3h0M290.2 196.2h0M341.4 185.3h0M384.1 143.3h0M257.0 225.4h0M318.4 128.6h0M348.7 208.7h0M226.6 159.1h0M341.0 144.5h0M383.7 146.2h0M280.5 203.6h0M355.6 130.8h0M220.2 124.5h0M261.9 122.0h0M292.1 119.5h0M296.2 123.7h0M359.8 127.6h0M264.4 192.7h0M261.6 129.6h0M244.2 201.6h0M230.5 153.1h0M353.1 119.1h0M253.6 98.2h0M247.2 134.3h0M280.8 104.5h0M330.3 186.0h0M339.8 208.7h0M372.2 166.7h0M255.3 240.7h0M374.4 140.5h0M235.1 202.3h0M230.8 149.7h0M226.9 160.0h0M316.0 198.6h0M235.3 160.4h0M231.0 149.9h0M249.1 100.4h0M376.7 144.3h0M358.3 149.0h0M355.1 184.2h0M347.8 151.6h0M368.5 164.5h0M281.3 126.5h0M240.6 159.1h0M339.1 228.1h0M293.5 198.3h0M249.0 192.3h0M327.5 196.9h0M201.6 109.1h0M241.9 122.6h0M247.1 193.2h0M249.1 212.6h0M333.5 133.5h0M387.5 185.5h0M202.4 181.7h0M331.2 198.1h0M243.4 149.8h0M214.8 160.3h0M345.6 127.5h0M222.1 202.4h0M340.6 111.4h0M234.8 182.3h0M327.6 195.7h0M256.7 116.9h0M343.3 197.3h0M342.1 194.6h0M289.6 123.0h0M378.3 197.1h0M349.7 147.7h0M369.8 163.0h0M351.0 160.1h0M241.3 205.9h0M259.4 184.6h0M367.3 151.1h0M343.4 108.4h0M359.0 155.4h0M294.7 201.3h0M363.9 134.1h0M207.3 160.3h0M344.7 192.9h0M379.9 132.5h0M293.8 202.6h0M315.9 114.3h0M304.7 102.2h0M302.6 101.3h0M293.0 117.2h0M347.5 143.5h0M398.1 187.0h0M216.4 205.3h0M240.1 157.5h0M369.0 200.3h0M366.4 81.0h0M374.7 124.6h0M344.0 165.0h0M268.5 120.1h0M241.9 165.2h0M329.2 184.9h0M296.4 118.0h0M251.2 203.2h0M248.4 186.3h0M341.9 134.9h0M333.3 217.8h0M349.4 137.1h0M342.1 180.5h0M301.5 118.6h0M268.5 115.2h0M316.7 98.1h0M305.6 215.1h0M238.5 163.2h0M296.0 122.2h0M315.2 124.2h0M295.1 124.2h0M235.7 148.7h0M318.3 193.6h0M378.1 227.0h0M400.7 146.6h0M300.9 220.1h0M372.3 185.4h0M309.1 194.4h0M324.0 120.4h0M381.0 109.9h0M310.0 124.0h0M350.2 167.0h0M326.0 117.6h0M285.6 200.9h0M334.6 201.1h0M320.4 205.2h0M327.6 184.5h0M232.9 187.9h0M332.0 194.8h0M297.4 191.0h0M284.9 194.7h0M400.0 162.0h0M231.1 209.2h0M252.8 134.2h0M357.7 142.7h0M257.3 104.9h0M257.6 88.1h0M367.4 176.4h0M348.0 172.8h0M238.1 175.3h0M344.5 183.8h0M229.0 172.1h0M244.4 184.0h0M239.5 147.8h0M279.1 107.2h0M368.4 199.6h0M226.5 163.1h0M260.2 127.5h0M238.5 171.3h0M413.6 161.4h0M384.6 154.6h0M314.2 107.7h0M385.0 191.8h0M341.4 143.4h0M209.8 179.9h0M294.9 194.6h0M239.6 143.8h0M348.7 171.4h0M252.4 181.5h0M267.3 123.4h0M329.8 127.0h0M271.3 124.0h0M259.2 121.3h0M345.7 170.3h0M242.2 197.3h0M262.5 125.0h0M357.1 136.1h0M337.0 134.3h0M270.3 200.7h0M216.4 184.2h0M251.7 196.4h0M369.9 180.1h0M346.8 109.6h0M229.4 150.9h0M348.6 97.0h0M321.8 189.6h0M357.6 145.2h0M237.3 145.5h0M313.7 121.5h0M237.6 154.1h0M239.7 178.0h0M271.9 223.0h0M357.9 174.6h0M216.1 136.0h0M256.9 182.3h0M377.3 184.1h0M319.1 214.1h0M298.0 197.0h0M245.6 144.4h0M383.2 120.0h0M434.4 146.3h0M235.7 147.3h0M221.4 116.4h0M235.7 135.1h0M203.2 145.1h0M352.3 204.8h0M357.9 133.9h0M284.9 192.1h0M233.3 181.8h0M245.8 176.2h0M317.3 117.9h0M269.6 110.6h0M297.1 119.4h0M214.2 121.6h0M235.0 156.3h0M323.4 189.6h0M346.8 213.4h0M244.8 203.5h0M338.0 141.4h0M282.1 197.0h0M279.9 207.4h0M195.4 176.3h0M288.0 199.9h0M304.4 121.3h0M292.2 116.0h0M319.5 186.3h0M346.7 128.4h0M376.3 193.6h0M245.1 180.0h0M377.8 133.3h0M336.2 193.5h0M348.4 125.1h0M323.3 189.9h0M379.4 205.4h0M253.5 203.6h0M293.2 121.2h0M375.1 110.1h0M211.4 173.7h0M227.1 157.4h0M240.2 133.1h0M258.0 133.4h0M266.6 236.1h0M257.8 182.3h0M271.4 197.2h0M339.5 127.1h0M233.1 157.9h0M305.6 100.1h0M347.9 215.1h0M307.4 111.8h0M291.3 114.3h0M313.3 102.6h0M345.2 155.8h0M305.9 203.6h0M323.2 115.7h0M206.5 157.7h0M334.1 124.6h0M317.6 195.2h0M239.8 139.2h0M353.2 143.8h0M232.8 145.2h0M315.0 208.5h0M345.1 140.9h0M327.7 130.5h0M305.9 124.1h0M312.2 120.4h0M355.3 162.8h0M376.0 154.1h0M201.6 162.9h0M350.7 138.9h0M244.5 182.6h0M256.6 194.5h0M211.5 161.7h0M257.2 128.2h0M390.7 137.7h0M286.0 113.8h0M344.4 152.8h0M238.2 157.8h0M280.4 125.4h0M338.2 124.4h0M343.5 173.0h0M223.3 155.1h0M294.0 205.2h0M311.4 118.8h0M375.1 202.7h0M238.2 181.6h0M297.0 122.1h0M308.1 222.5h0M225.3 119.5h0M234.0 159.3h0M174.8 143.7h0M309.0 125.8h0M350.2 144.4h0M361.5 143.4h0M403.9 153.2h0M241.4 163.9h0M240.7 175.6h0M290.1 221.3h0M245.1 172.0h0M296.4 112.4h0M353.0 131.4h0M284.3 103.8h0M213.9 143.4h0M272.9 192.0h0M373.9 139.6h0M230.6 155.7h0M266.6 128.4h0M345.8 132.3h0M369.0 123.6h0M233.2 144.3h0M295.0 191.7h0M380.5 168.8h0M266.6 230.3h0M231.6 137.4h0M376.2 157.9h0M377.1 183.2h0M253.3 181.3h0M393.6 132.8h0M240.0 113.8h0M237.5 126.8h0M269.4 122.3h0M274.1 89.7h0M294.1 194.7h0M226.3 148.0h0M243.8 169.2h0M234.1 147.0h0M237.8 189.1h0M346.5 141.3h0M345.6 224.9h0M252.7 132.8h0M322.0 126.1h0M305.1 119.5h0M374.8 139.3h0M242.8 142.2h0M233.8 141.9h0M313.3 201.6h0M337.1 196.8h0M289.5 194.8h0M322.4 186.1h0M309.3 223.2h0M294.2 97.8h0M258.1 198.7h0M370.6 216.0h0M232.9 125.4h0M285.0 109.8h0M332.2 189.2h0M232.5 180.3h0M325.0 118.0h0M404.3 191.4h0M282.2 121.8h0M335.8 117.9h0M331.9 194.6h0M264.6 125.3h0M399.4 157.5h0M352.4 137.3h0M298.0 119.1h0M348.3 116.0h0M246.7 127.0h0M294.3 120.0h0M258.2 81.6h0M363.9 152.1h0M342.1 103.8h0M225.3 156.1h0M218.8 176.2h0M347.0 212.4h0M295.9 196.5h0M369.2 117.7h0M202.0 216.9h0M367.4 152.8h0M260.6 126.3h0M237.0 190.4h0M233.4 143.3h0M404.5 145.9h0M299.9 209.1h0M294.6 209.8h0M228.9 140.5h0M418.8 169.8h0M208.4 159.6h0M314.4 127.1h0M230.4 145.2h0M300.5 194.7h0M373.3 194.4h0M343.1 118.1h0M352.0 185.0h0M279.2 193.4h0M232.5 194.0h0M270.1 118.5h0M324.1 119.9h0M190.3 171.0h0M338.7 136.6h0M286.3 123.5h0M220.1 163.4h0M239.5 219.2h0M280.4 121.8h0M234.0 199.8h0M298.0 121.8h0M320.8 127.4h0M344.9 151.5h0M301.4 104.9h0M252.0 128.4h0M255.6 196.0h0M347.8 196.6h0M361.9 99.8h0M240.3 129.8h0M322.7 108.4h0M344.6 191.6h0M206.7 187.0h0M281.9 194.4h0M224.5 167.4h0M237.0 181.2h0M357.3 144.6h0M266.2 197.5h0M337.5 124.9h0M334.9 202.7h0M375.1 177.4h0M363.1 125.0h0M333.1 131.6h0M353.9 165.9h0M339.7 137.2h0M303.2 111.5h0M373.2 165.5h0M290.1 114.0h0M357.8 226.0h0M345.4 195.1h0M349.5 149.3h0M279.6 193.3h0M254.0 118.1h0M344.5 173.2h0M362.6 196.2h0M339.2 138.5h0M259.5 113.8h0M371.1 159.6h0M317.9 197.4h0M272.4 104.6h0M297.3 116.5h0M265.4 124.8h0M366.8 162.8h0M337.0 178.5h0M338.5 137.5h0M223.3 126.4h0M245.1 201.9h0M333.3 211.2h0M247.4 144.8h0M282.2 193.5h0M245.5 194.0h0M341.4 131.2h0M311.4 193.6h0M343.7 188.0h0M251.0 196.1h0M352.2 147.5h0M371.9 104.3h0M375.8 170.4h0M307.1 80.3h0M292.4 210.5h0M340.2 130.5h0M356.8 202.1h0M315.2 95.2h0M243.0 180.6h0M358.4 222.3h0M201.6 163.9h0M215.7 160.2h0M237.8 168.9h0M357.3 163.8h0M308.4 191.8h0M330.6 105.1h0M237.5 176.9h0M388.5 130.4h0M243.2 118.0h0M293.6 225.0h0M355.3 168.3h0M259.0 115.7h0M259.8 108.9h0M229.9 174.3h0M313.0 98.6h0M355.2 105.5h0M381.3 172.6h0M369.4 155.1h0M293.6 121.5h0M313.6 126.2h0M250.3 224.4h0M328.1 202.8h0M263.4 193.4h0M265.2 201.4h0M249.3 126.6h0M285.8 207.3h0M376.6 184.2h0M296.9 110.8h0M361.8 119.3h0M352.0 183.2h0M357.7 199.1h0M276.8 195.7h0M264.1 131.2h0M328.8 114.5h0M329.3 119.4h0M281.8 199.9h0M270.7 212.1h0M348.1 177.8h0M303.2 196.3h0M254.3 122.6h0M240.6 166.5h0M284.1 116.9h0M196.9 142.0h0M367.0 150.7h0M284.5 194.6h0M394.1 180.9h0M231.3 152.3h0M242.7 141.5h0M342.4 144.0h0M278.4 202.0h0M260.4 196.4h0M216.7 158.7h0M265.1 197.5h0M269.5 121.0h0M234.4 119.8h0M362.8 193.2h0M234.3 200.2h0M273.5 125.5h0M319.3 190.9h0M222.0 177.2h0M318.8 120.2h0M351.0 150.5h0M229.6 155.8h0M254.6 130.6h0M242.2 182.5h0M317.2 197.0h0M370.6 174.2h0M273.9 102.0h0M216.0 173.4h0M357.2 155.4h0M189.9 162.7h0M326.4 187.8h0M327.8 132.7h0M268.7 129.4h0M350.8 71.9h0M183.1 189.4h0M312.5 196.5h0M244.7 147.3h0M356.9 171.5h0M237.8 151.9h0M331.6 131.5h0M374.0 195.1h0M249.6 127.0h0M267.0 103.3h0M254.2 131.2h0M286.0 192.8h0M360.6 138.0h0M242.9 137.2h0M357.9 174.5h0M326.2 122.8h0M355.2 153.8h0M435.4 135.2h0M346.4 194.5h0M370.2 158.5h0M367.4 174.2h0M358.5 172.5h0M332.5 204.6h0M279.3 194.8h0M209.1 158.0h0M363.9 178.3h0M231.2 184.5h0M320.4 187.9h0M284.0 195.0h0M332.3 123.8h0M325.9 123.5h0M356.6 129.3h0M209.4 167.9h0M200.8 194.9h0M240.3 157.3h0M265.8 119.3h0M291.8 216.7h0M373.5 127.3h0M367.5 196.7h0M313.1 126.9h0M237.6 182.6h0M265.9 127.2h0M290.9 197.3h0M344.5 186.6h0M247.1 124.9h0M261.1 110.7h0M217.3 177.6h0M214.2 173.1h0M272.3 128.6h0M356.8 171.4h0M326.1 184.6h0M310.8 216.3h0M336.2 120.8h0M278.9 114.7h0M380.4 185.0h0M353.2 129.9h0M390.2 170.1h0M258.8 103.9h0M234.3 107.4h0M261.3 210.3h0M236.5 174.1h0M266.4 190.9h0M281.7 208.8h0M332.2 135.4h0M371.8 90.4h0M322.9 120.0h0M260.1 129.8h0M261.7 130.3h0M277.6 198.5h0M318.4 120.5h0M356.5 133.0h0M343.1 215.8h0M269.8 203.6h0M255.3 111.8h0M235.2 171.7h0M331.8 120.0h0M235.7 170.0h0M317.4 115.7h0M362.2 161.8h0M370.5 164.3h0M339.9 194.7h0M435.7 166.1h0M343.8 166.1h0M252.4 188.2h0M274.0 193.6h0M312.2 200.4h0M297.2 118.8h0M261.3 196.0h0M225.9 232.6h0M288.0 105.9h0M241.7 164.7h0M265.2 192.1h0M302.4 199.7h0M281.2 219.1h0M225.7 142.7h0M232.2 141.9h0M278.6 205.8h0M219.0 153.5h0M343.4 169.5h0M362.6 140.8h0M327.1 183.6h0M257.2 119.3h0M234.6 150.7h0M351.3 183.1h0M343.5 142.3h0M319.3 204.4h0M324.4 125.0h0M371.6 195.1h0M306.1 126.1h0M343.3 198.6h0M346.0 151.1h0M244.8 86.1h0M212.2 148.7h0M216.0 159.0h0M291.8 116.2h0M348.0 158.1h0M273.2 119.0h0M397.7 175.3h0M304.7 223.9h0M286.2 233.4h0M365.1 197.5h0M343.7 192.1h0M219.3 147.0h0M372.9 212.7h0M353.7 167.5h0M367.5 147.5h0M188.2 171.7h0M252.6 113.6h0M275.0 106.6h0M308.0 112.8h0M247.5 187.1h0M249.3 182.9h0M266.6 116.7h0M273.4 118.7h0M354.7 151.0h0M274.6 209.4h0M264.9 126.1h0M299.1 110.7h0M346.8 170.9h0M350.2 171.5h0M328.2 209.0h0M329.1 210.3h0M285.6 227.7h0M367.4 183.6h0M245.5 203.7h0M332.1 127.1h0M352.1 196.6h0M326.1 198.3h0M308.9 123.1h0M309.0 126.0h0M314.5 105.9h0M359.8 191.9h0M355.2 169.7h0M361.3 226.6h0M280.5 114.7h0M243.0 127.6h0M322.6 213.6h0M311.5 215.6h0M385.8 186.3h0M341.8 120.9h0M219.1 156.0h0M270.1 238.3h0M326.7 197.8h0M371.6 186.7h0M225.2 149.5h0M208.5 137.5h0M348.6 163.9h0M261.5 239.4h0M235.5 171.1h0M235.8 147.8h0M326.8 207.9h0M342.3 129.7h0M346.2 164.7h0M235.3 132.3h0M379.2 171.7h0M301.7 121.9h0M294.8 104.7h0M490.8 143.8h0M460.0 130.0h0M463.8 165.5h0M458.2 172.5h0M452.5 179.2h0M452.0 185.0h0M451.0 191.5h0M450.5 165.5h0M445.0 168.0h0M438.0 138.0h0M439.0 141.5h0M422.0 114.5h0M399.5 230.5h0M271.0 50.6h0M311.5 55.2h0M340.4 49.5h0M258.8 66.0h0M258.5 248.6h0M307.8 245.8h0M286.0 243.0h0M156.0 128.0h0M217.4 408.8h0M205.0 489.8h0M250.5 389.9h0M235.2 485.0h0M282.1 449.9h0M201.8 416.9h0M273.6 459.2h0M196.6 452.3h0M270.7 421.1h0M278.0 451.0h0M239.1 398.1h0M182.5 435.7h0M241.5 379.2h0M231.5 384.5h0M191.9 372.0h0M207.1 471.7h0M289.0 463.7h0M256.1 421.2h0M261.0 487.2h0M284.5 442.1h0M196.9 394.8h0M212.3 420.6h0M218.8 392.0h0M240.0 489.9h0M269.6 460.2h0M287.7 401.5h0M258.4 427.3h0M284.9 396.2h0M223.1 403.9h0M247.0 483.4h0M303.5 445.0h0M301.2 437.5h0M208.8 408.4h0M268.5 486.1h0M273.0 412.2h0M191.5 464.8h0M285.0 492.8h0M215.7 406.5h0M261.0 477.0h0M187.9 466.7h0M217.5 477.5h0M267.2 444.0h0M254.9 395.7h0M174.5 457.1h0M406.3 449.2h0M268.7 473.3h0M281.2 426.0h0M238.6 389.8h0M285.3 407.5h0M198.0 372.8h0M217.2 370.8h0M204.0 380.9h0M359.3 436.1h0M239.2 370.6h0M185.8 459.0h0M269.0 441.0h0M190.0 406.5h0M277.5 439.7h0M224.3 486.4h0M209.4 420.7h0M187.1 383.2h0M222.2 485.7h0M274.9 451.1h0M204.5 407.0h0M263.6 479.4h0M322.8 408.4h0M272.0 482.2h0M219.9 489.2h0M232.5 392.6h0M165.0 426.5h0M183.4 453.7h0M250.8 386.4h0M310.8 497.0h0M302.8 435.8h0M270.0 472.7h0M271.2 482.7h0M252.3 415.2h0M282.1 412.2h0M186.4 486.4h0M259.6 388.3h0M289.8 459.6h0M260.3 401.7h0M216.1 482.2h0M251.1 413.3h0M279.1 476.3h0M194.5 475.0h0M264.1 490.9h0M199.5 477.0h0M302.6 427.9h0M253.5 477.8h0M274.6 472.5h0M247.3 487.7h0M229.0 375.4h0M301.4 467.1h0M199.7 445.4h0M262.4 433.7h0M274.6 453.9h0M245.5 399.4h0M248.0 486.7h0M252.4 483.1h0M182.3 411.6h0M290.5 486.8h0M192.3 451.6h0M220.8 383.5h0M185.0 442.5h0M207.8 487.3h0M214.9 483.8h0M279.7 434.6h0M249.3 391.5h0M172.9 473.7h0M311.8 483.8h0M285.7 458.9h0M272.6 481.6h0M184.6 452.6h0M255.4 420.2h0M306.8 436.7h0M286.7 433.9h0M272.3 432.5h0M188.0 446.8h0M269.8 451.0h0M228.7 399.9h0M242.6 396.3h0M361.9 436.6h0M214.1 488.9h0M276.8 500.4h0M204.1 435.2h0M261.3 430.0h0M203.8 403.8h0M164.1 491.0h0M176.6 444.3h0M230.9 382.7h0M201.3 480.9h0M208.9 487.9h0M225.5 488.0h0M248.6 390.7h0M211.0 477.7h0M266.9 482.0h0M231.4 388.2h0M261.9 430.6h0M244.5 381.6h0M166.0 448.7h0M336.4 446.8h0M209.9 395.8h0M256.0 408.4h0M260.3 433.7h0M203.0 471.0h0M170.2 486.1h0M202.9 471.4h0M262.6 490.8h0M298.9 423.0h0M208.0 489.9h0M267.9 434.3h0M215.9 477.7h0M259.1 478.6h0M211.1 396.4h0M237.4 398.7h0M174.0 464.0h0M175.7 469.3h0M243.1 373.9h0M261.5 409.8h0M176.8 447.7h0M285.5 469.4h0M256.4 499.7h0M224.3 392.0h0M186.3 445.5h0M270.2 460.3h0M210.9 486.2h0M202.1 397.5h0M194.5 415.4h0M212.7 421.1h0M210.0 413.8h0M192.9 499.9h0M241.1 499.6h0M195.0 499.7h0M208.5 373.1h0M277.8 475.3h0M184.3 455.3h0M211.8 494.8h0M177.4 479.0h0M220.9 405.3h0M289.7 466.3h0M214.8 392.0h0M257.7 480.0h0M259.7 476.1h0M212.8 407.5h0M183.0 411.5h0M278.5 465.6h0M293.7 478.3h0M270.6 456.2h0M191.4 488.2h0M278.6 464.8h0M204.5 431.3h0M264.1 388.2h0M213.4 403.7h0M259.9 368.7h0M257.8 392.5h0M187.5 463.1h0M275.7 445.9h0M193.0 489.0h0M215.5 406.1h0M223.2 391.6h0M251.7 391.9h0M191.8 470.6h0M186.9 447.7h0M267.3 440.6h0M202.4 409.5h0M261.3 498.6h0M175.1 473.0h0M172.6 465.8h0M279.8 388.9h0M266.1 427.0h0M197.1 417.5h0M232.0 402.8h0M216.1 485.9h0M203.4 409.2h0M209.0 484.7h0M238.0 385.3h0M202.5 404.0h0M274.5 390.2h0M255.3 486.8h0M161.6 483.4h0M190.5 443.5h0M282.2 480.1h0M236.4 378.2h0M292.4 448.6h0M186.6 463.1h0M244.5 401.2h0M260.9 473.6h0M274.4 465.2h0M252.0 368.4h0M199.1 406.8h0M256.0 426.0h0M186.6 443.1h0M210.7 478.9h0M210.9 405.8h0M263.5 473.6h0M250.4 402.2h0M245.7 495.4h0M192.0 446.5h0M211.5 403.2h0M205.9 405.8h0M193.5 378.8h0M207.1 480.0h0M229.8 387.5h0M227.3 401.4h0M184.8 485.9h0M259.6 481.6h0M238.4 373.3h0M270.6 421.7h0M274.5 463.9h0M201.6 474.3h0M224.3 400.6h0M184.3 445.3h0M278.3 453.7h0M175.8 472.4h0M249.2 383.1h0M208.1 480.4h0M168.5 444.6h0M277.8 458.6h0M243.7 363.5h0M203.2 474.4h0M253.2 399.5h0M238.0 400.6h0M207.0 428.4h0M212.0 407.8h0M199.6 478.5h0M205.6 416.5h0M250.7 412.9h0M212.2 478.4h0M237.2 389.8h0M285.0 447.3h0M272.8 507.5h0M306.2 418.4h0M324.4 467.9h0M321.1 488.7h0M291.6 436.6h0M218.5 497.2h0M227.6 401.2h0M195.9 448.7h0M281.4 435.3h0M261.9 487.0h0M281.8 439.7h0M280.8 465.8h0M256.6 391.2h0M318.5 479.4h0M198.7 435.1h0M172.1 462.3h0M264.5 388.1h0M277.9 463.3h0M259.4 426.8h0M269.9 466.0h0M275.1 444.9h0M181.4 418.4h0M205.6 426.2h0M190.7 460.1h0M209.2 399.8h0M197.0 496.2h0M256.7 412.0h0M202.5 410.7h0M228.0 502.7h0M246.0 382.7h0M268.0 473.6h0M258.5 409.3h0M201.9 413.5h0M332.3 446.4h0M175.9 453.9h0M171.6 440.7h0M244.7 367.9h0M238.7 379.9h0M199.8 469.1h0M216.0 393.6h0M213.1 405.6h0M254.4 417.5h0M210.7 401.0h0M197.3 477.0h0M269.1 412.7h0M169.9 433.6h0M203.1 407.0h0M203.3 412.6h0M212.0 479.7h0M265.2 464.4h0M269.0 441.1h0M207.7 426.1h0M300.3 448.6h0M256.2 478.7h0M240.2 401.9h0M275.5 385.2h0M208.0 420.5h0M294.2 403.9h0M238.9 376.3h0M189.1 422.9h0M216.6 512.9h0M292.3 461.1h0M233.7 488.3h0M195.5 463.8h0M186.0 428.7h0M204.6 476.3h0M198.8 389.8h0M176.8 452.6h0M159.8 465.8h0M270.7 432.4h0M216.3 411.0h0M201.9 419.8h0M278.7 456.1h0M166.7 457.8h0M228.6 493.6h0M294.5 470.6h0M241.8 504.3h0M202.6 420.0h0M221.1 408.5h0M232.1 385.1h0M301.9 459.3h0M192.8 411.3h0M288.7 466.7h0M254.5 395.0h0M208.0 388.0h0M276.4 476.1h0M280.0 475.0h0M184.1 392.8h0M287.1 484.9h0M259.9 491.1h0M279.1 467.1h0M223.0 501.5h0M229.4 479.5h0M188.1 411.1h0M290.1 466.3h0M205.2 430.6h0M149.5 453.4h0M203.5 392.3h0M199.9 362.3h0M260.6 403.3h0M246.8 388.0h0M268.2 418.6h0M193.2 404.6h0M164.3 477.5h0M215.1 387.9h0M234.5 497.7h0M192.2 456.1h0M171.5 478.0h0M341.0 455.1h0M283.3 417.0h0M204.1 398.9h0M298.4 462.7h0M207.1 404.5h0M306.8 447.7h0M211.1 398.7h0M261.6 435.5h0M227.2 367.8h0M187.0 401.1h0M192.6 420.3h0M267.3 417.0h0M215.7 482.6h0M252.7 480.7h0M243.4 396.0h0M194.4 411.8h0M279.1 459.2h0M187.8 418.5h0M300.3 401.7h0M183.8 465.2h0M176.2 490.0h0M258.1 472.5h0M216.5 478.6h0M267.5 431.8h0M269.2 444.7h0M189.3 406.7h0M290.0 453.4h0M201.6 417.8h0M220.6 389.8h0M294.7 465.3h0M269.9 445.8h0M278.8 426.6h0M238.3 373.8h0M290.0 457.9h0M367.3 440.9h0M184.3 461.8h0M212.4 479.8h0M193.8 460.2h0M323.0 480.6h0M173.6 425.6h0M194.4 477.8h0M281.3 376.4h0M187.2 400.9h0M224.1 373.9h0M267.1 468.9h0M254.9 484.9h0M282.2 440.4h0M182.4 437.5h0M301.3 469.8h0M253.2 402.4h0M224.1 407.3h0M220.1 410.8h0M187.7 435.5h0M262.3 508.5h0M195.5 445.4h0M280.8 453.5h0M205.4 475.8h0M259.6 397.7h0M202.4 415.2h0M262.9 426.9h0M193.3 473.8h0M271.8 439.0h0M271.6 441.4h0M280.5 417.0h0M225.0 373.7h0M192.7 464.6h0M221.6 495.5h0M221.7 509.6h0M207.5 429.5h0M196.4 417.0h0M228.3 490.8h0M237.4 381.5h0M184.0 436.4h0M216.3 481.2h0M277.7 383.9h0M226.9 485.0h0M241.2 480.0h0M261.3 431.2h0M202.0 433.9h0M246.2 383.2h0M205.9 411.6h0M212.6 482.6h0M218.9 398.3h0M301.6 423.8h0M191.9 487.9h0M268.2 462.9h0M271.8 429.8h0M264.1 385.5h0M185.2 453.8h0M257.4 478.1h0M229.8 393.7h0M281.4 456.0h0M287.8 409.0h0M211.9 410.2h0M201.0 436.2h0M254.3 492.3h0M213.4 488.7h0M277.0 481.4h0M203.0 418.2h0M265.3 414.3h0M208.8 424.7h0M193.3 387.4h0M198.6 414.4h0M271.5 505.0h0M235.0 480.4h0M220.8 479.9h0M193.4 480.9h0M210.8 406.3h0M274.1 437.7h0M177.2 460.9h0M263.8 467.8h0M222.0 397.3h0M263.9 389.2h0M275.5 446.6h0M290.8 427.0h0M183.5 453.7h0M250.0 408.2h0M247.4 482.4h0M269.3 391.9h0M211.8 418.2h0M206.4 425.2h0M201.3 470.3h0M236.7 394.5h0M271.3 427.3h0M362.8 473.4h0M230.3 393.0h0M257.7 488.1h0M279.8 490.5h0M279.3 464.9h0M261.2 422.1h0M211.2 474.3h0M176.5 431.2h0M262.7 477.9h0M301.3 481.8h0M264.1 480.6h0M275.3 411.9h0M269.6 380.5h0M158.1 446.5h0M224.8 394.0h0M172.0 448.0h0M262.2 476.7h0M287.9 493.0h0M172.2 463.7h0M254.2 475.4h0M219.8 507.7h0M183.7 440.9h0M339.3 460.8h0M260.9 402.2h0M261.5 410.4h0M291.3 424.3h0M209.4 419.3h0M223.6 396.2h0M193.7 444.4h0M259.3 479.2h0M169.9 471.3h0M281.2 424.4h0M203.9 485.9h0M199.7 427.8h0M231.2 480.1h0M243.3 487.1h0M236.7 484.3h0M180.4 438.2h0M249.7 491.5h0M169.7 449.7h0M325.7 457.2h0M288.5 490.1h0M190.0 469.1h0M255.1 402.8h0M249.5 481.0h0M213.5 412.4h0M272.5 414.6h0M289.5 454.2h0M245.4 390.3h0M240.9 378.5h0M202.4 495.5h0M267.8 403.0h0M241.9 399.5h0M252.1 411.0h0M256.0 418.3h0M220.8 411.7h0M300.7 472.2h0M213.4 415.1h0M272.4 463.5h0M211.1 478.1h0M272.0 463.8h0M289.6 456.1h0M261.0 380.8h0M256.9 372.8h0M162.0 441.5h0M276.9 478.2h0M264.0 392.0h0M297.0 445.6h0M266.0 426.8h0M211.2 406.1h0M311.1 430.6h0M172.5 477.8h0M226.4 485.3h0M322.2 477.3h0M252.6 388.5h0M190.0 417.1h0M282.6 465.6h0M230.3 401.0h0M281.8 446.7h0M255.6 490.9h0M226.0 403.7h0M251.2 396.3h0M232.0 487.5h0M243.4 493.9h0M320.9 440.1h0M265.0 471.0h0M264.7 473.6h0M261.4 428.9h0M253.6 390.6h0M245.4 377.5h0M270.5 412.3h0M259.3 395.0h0M277.5 456.2h0M251.1 481.8h0M197.8 481.7h0M279.9 422.7h0M178.8 468.7h0M258.6 487.4h0M195.0 439.7h0M316.8 450.2h0M200.7 475.4h0M241.0 390.1h0M196.0 472.4h0M193.5 405.8h0M206.8 420.8h0M261.5 435.9h0M193.4 413.0h0M203.0 487.7h0M236.1 400.5h0M197.7 414.5h0M193.7 475.1h0M249.4 488.5h0M247.4 387.5h0M337.9 500.8h0M259.2 403.7h0M190.7 434.1h0M271.0 486.3h0M297.9 437.1h0M246.9 366.2h0M204.4 476.2h0M194.8 383.2h0M225.0 402.2h0M278.3 394.9h0M283.6 467.7h0M274.1 439.5h0M315.5 441.8h0M241.3 486.0h0M277.2 475.5h0M196.0 439.0h0M183.0 443.2h0M193.2 480.0h0M154.7 443.8h0M261.1 473.1h0M212.4 416.3h0M246.5 393.1h0M247.0 381.2h0M258.3 406.2h0M274.8 445.4h0M275.5 423.5h0M249.3 409.6h0M282.8 396.5h0M265.3 436.2h0M305.2 464.7h0M205.5 482.7h0M203.7 435.3h0M263.8 387.8h0M234.0 385.1h0M256.4 496.5h0M252.3 396.5h0M278.1 400.5h0M266.8 427.6h0M271.6 463.4h0M196.0 470.2h0M293.3 434.4h0M264.5 406.0h0M233.2 380.9h0M243.1 477.9h0M271.3 417.4h0M194.1 492.3h0M284.6 481.4h0M283.6 422.0h0M291.3 436.1h0M268.4 480.5h0M287.3 443.3h0M286.6 459.8h0M236.0 388.9h0M256.2 477.0h0M189.1 463.4h0M162.9 464.8h0M263.7 469.1h0M203.2 399.6h0M252.4 414.1h0M172.4 481.4h0M260.0 433.3h0M195.7 490.0h0M206.4 486.2h0M212.0 413.4h0M243.6 377.6h0M312.3 428.2h0M244.4 401.8h0M262.5 496.4h0M199.9 410.3h0M188.6 476.1h0M188.5 477.1h0M174.5 461.3h0M172.1 466.8h0M267.9 473.8h0M272.3 382.1h0M273.0 411.4h0M223.8 401.8h0M181.3 483.6h0M238.2 366.5h0M159.4 456.8h0M260.9 419.4h0M202.1 505.3h0M270.5 455.9h0M213.9 400.0h0M235.5 384.0h0M317.1 474.6h0M229.3 392.9h0M227.4 404.5h0M204.4 472.8h0M197.2 478.0h0M264.2 407.0h0M191.3 459.0h0M209.1 414.9h0M209.6 417.1h0M208.1 474.2h0M265.8 442.6h0M250.0 387.6h0M216.7 500.2h0M197.1 417.2h0M194.4 442.6h0M298.2 455.1h0M180.5 450.2h0M239.4 401.0h0M153.2 477.0h0M165.8 465.1h0M265.0 483.1h0M280.5 436.5h0M253.8 479.5h0M183.1 461.9h0M265.5 464.4h0M336.3 429.0h0M280.9 443.6h0M208.1 426.7h0M197.6 449.9h0M252.9 383.4h0M280.6 467.8h0M270.1 452.8h0M254.6 386.4h0M260.2 397.7h0M238.5 484.1h0M177.1 390.4h0M238.2 480.8h0M283.7 451.2h0M159.4 483.7h0M252.8 380.9h0M241.2 400.5h0M287.0 466.1h0M201.6 388.7h0M204.6 496.0h0M161.5 434.1h0M181.9 466.8h0M191.8 516.9h0M203.3 477.7h0M208.5 413.2h0M172.8 465.7h0M168.3 478.1h0M290.7 481.8h0M278.1 489.7h0M166.8 466.9h0M207.3 427.6h0M208.1 426.8h0M215.0 388.1h0M261.3 427.7h0M293.3 457.9h0M219.6 404.1h0M197.0 466.8h0M269.9 403.1h0M192.8 481.1h0M275.7 435.1h0M265.2 468.2h0M264.9 477.0h0M263.0 425.7h0M283.0 497.3h0M176.2 444.9h0M216.5 412.8h0M273.2 473.4h0M199.7 432.6h0M259.0 377.8h0M265.4 443.4h0M211.2 418.0h0M270.0 444.6h0M264.5 393.8h0M232.6 394.0h0M183.4 436.0h0M269.1 447.7h0M244.3 479.1h0M265.3 475.0h0M269.5 477.1h0M256.2 489.5h0M216.9 485.3h0M314.6 476.6h0M273.6 435.5h0M254.0 407.1h0M271.1 407.7h0M276.3 441.8h0M183.4 483.0h0M268.3 472.0h0M189.6 436.0h0M254.0 397.8h0M270.9 431.0h0M199.3 418.1h0M252.4 522.9h0M219.2 396.3h0M219.9 482.0h0M273.9 401.7h0M244.7 487.9h0M200.5 418.7h0M187.9 435.1h0M283.1 481.2h0M205.1 419.9h0M274.3 373.3h0M241.5 514.7h0M207.4 484.2h0M277.2 440.4h0M353.3 438.3h0M256.8 394.9h0M260.7 423.6h0M271.1 461.6h0M274.5 440.4h0M176.9 493.3h0M299.9 450.3h0M293.7 468.9h0M353.6 460.5h0M201.8 503.4h0M242.4 379.9h0M236.5 493.3h0M232.2 388.5h0M206.8 483.6h0M188.9 464.6h0M208.5 475.6h0M287.9 438.7h0M250.8 496.5h0M275.0 463.5h0M272.0 419.0h0M286.8 462.9h0M257.2 474.3h0M210.1 478.3h0M288.7 462.6h0M192.0 452.9h0M280.6 484.2h0M187.4 391.3h0M259.7 476.2h0M271.0 445.0h0M278.9 447.8h0M226.5 493.9h0M166.5 432.2h0M238.2 491.8h0M230.1 395.3h0M211.7 374.2h0M257.4 421.7h0M265.9 497.8h0M244.9 403.0h0M257.1 388.4h0M332.4 453.7h0M181.5 422.0h0M288.6 479.4h0M242.6 382.0h0M219.0 394.1h0M257.8 429.9h0M191.6 415.6h0M240.0 487.5h0M192.9 482.7h0M250.0 483.9h0M201.1 469.2h0M236.2 488.0h0M184.5 380.5h0M280.3 386.4h0M214.6 414.3h0M209.7 485.2h0M265.6 469.3h0M214.2 483.5h0M252.3 481.3h0M193.5 486.8h0M203.5 424.3h0M277.4 459.4h0M270.4 478.1h0M296.7 404.3h0M272.6 436.6h0M312.7 424.4h0M259.2 427.0h0M176.3 486.1h0M276.7 468.0h0M271.0 463.5h0M226.3 406.2h0M203.4 394.4h0M192.4 483.2h0M251.2 476.3h0M263.1 431.4h0M240.6 392.8h0M282.0 428.2h0M186.2 434.3h0M269.2 381.3h0M206.9 416.7h0M188.2 456.2h0M257.0 482.4h0M194.8 411.4h0M239.6 401.4h0M263.7 500.9h0M301.0 458.6h0M199.0 397.4h0M307.1 454.8h0M209.1 413.3h0M267.3 494.4h0M339.9 468.1h0M305.2 441.8h0M242.4 386.8h0M230.7 479.7h0M264.7 429.6h0M285.9 431.6h0M234.1 398.0h0M239.5 490.7h0M243.9 479.0h0M310.5 461.6h0M277.3 434.0h0M269.4 446.2h0M196.0 443.0h0M281.5 460.7h0M156.1 472.6h0M183.6 444.2h0M263.1 472.7h0M186.6 463.9h0M178.5 462.7h0M199.4 376.5h0M224.4 485.3h0M232.4 387.9h0M234.3 398.8h0M174.5 468.6h0M245.7 404.6h0M368.8 454.1h0M192.3 467.8h0M283.5 447.5h0M219.1 398.4h0M178.3 449.1h0M283.2 462.6h0M253.1 402.3h0M235.2 382.2h0M181.0 466.3h0M221.9 483.2h0M268.3 420.1h0M233.2 387.5h0M190.3 445.5h0M241.2 481.4h0M246.3 393.8h0M231.6 483.6h0M191.0 437.0h0M190.9 458.7h0M223.0 391.9h0M213.5 481.4h0M183.6 459.9h0M293.6 432.7h0M255.5 387.1h0M287.7 416.9h0M271.2 424.6h0M247.5 509.3h0M249.6 409.8h0M269.9 452.4h0M239.3 391.6h0M278.0 438.7h0M262.8 438.4h0M271.2 395.7h0M224.9 486.7h0M248.5 398.6h0M264.1 504.8h0M212.6 412.0h0M261.5 418.9h0M247.4 404.1h0M293.7 460.0h0M212.6 419.8h0M267.1 441.1h0M314.5 424.9h0M285.8 443.6h0M203.2 378.0h0M227.8 363.8h0M267.7 476.4h0M219.1 484.0h0M272.9 420.6h0M253.6 498.4h0M316.0 483.4h0M190.5 456.4h0M231.5 383.8h0M294.8 442.6h0M260.6 418.1h0M279.9 448.6h0M320.2 456.2h0M257.4 417.9h0M199.2 429.9h0M222.2 483.1h0M239.4 479.4h0M247.4 504.5h0M237.4 507.8h0M254.3 489.0h0M242.5 500.9h0M267.4 432.9h0M179.4 451.3h0M226.3 383.4h0M275.2 455.7h0M285.9 453.5h0M220.2 405.3h0M271.6 480.6h0M192.9 446.4h0M189.0 445.5h0M263.5 422.9h0M166.4 455.3h0M171.2 451.0h0M206.0 393.6h0M225.2 394.2h0M236.0 481.4h0M263.8 467.7h0M329.1 444.1h0M274.9 436.6h0M271.5 478.7h0M216.5 480.5h0M265.3 467.2h0M270.3 457.1h0M182.5 407.9h0M193.7 410.0h0M214.8 487.0h0M292.8 483.8h0M207.3 475.8h0M197.7 417.7h0M186.2 457.9h0M186.2 467.8h0M194.3 422.8h0M250.8 411.8h0M299.0 468.5h0M188.7 464.5h0M268.8 472.4h0M191.9 458.8h0M206.4 419.8h0M217.5 407.8h0M262.3 415.0h0M234.5 391.6h0M222.2 406.6h0M286.2 453.1h0M220.4 495.4h0M352.3 437.2h0M210.6 475.4h0M322.3 452.8h0M164.5 471.5h0M268.1 405.1h0M212.5 490.7h0M269.6 489.1h0M172.9 470.7h0M183.0 393.8h0M231.5 365.0h0M268.5 460.3h0M206.9 407.9h0M206.4 385.3h0M208.4 418.7h0M209.6 421.6h0M201.9 417.5h0M192.0 482.8h0M266.6 435.3h0M273.0 466.0h0M185.1 458.7h0M284.8 445.1h0M259.9 479.9h0M229.2 380.6h0M174.8 478.4h0M177.0 472.5h0M287.4 467.4h0M181.1 460.6h0M255.8 416.9h0M332.9 444.7h0M189.6 423.3h0M333.0 481.1h0M224.0 490.2h0M250.7 483.7h0M197.4 448.6h0M289.3 381.9h0M209.8 478.1h0M188.9 458.7h0M266.3 432.2h0M233.5 398.6h0M269.1 429.7h0M238.4 499.2h0M202.9 484.7h0M219.8 395.4h0M269.0 402.0h0M241.4 396.8h0M255.6 506.7h0M183.1 479.4h0M278.6 382.8h0M162.4 461.0h0M287.7 446.3h0M279.9 424.2h0M271.3 499.9h0M274.2 441.4h0M195.2 425.3h0M200.0 439.8h0M273.3 492.7h0M191.2 396.1h0M182.8 392.5h0M316.4 444.4h0M248.5 486.8h0M220.3 489.8h0M213.1 485.0h0M301.2 440.6h0M250.1 403.7h0M277.4 375.1h0M208.6 483.7h0M224.1 393.9h0M182.0 469.8h0M280.0 401.1h0M241.6 377.7h0M264.7 424.4h0M206.4 397.3h0M261.0 400.8h0M195.2 485.6h0M273.8 357.9h0M269.3 435.3h0M268.9 376.7h0M184.5 484.0h0M221.7 485.2h0M249.8 406.6h0M239.3 377.1h0M327.0 424.2h0M172.0 418.1h0M225.0 477.8h0M185.4 475.1h0M213.8 411.2h0M336.5 471.3h0M194.3 488.8h0M267.0 471.7h0M220.8 374.4h0M176.8 463.2h0M262.2 494.4h0M189.0 478.8h0M250.7 370.4h0M190.3 382.8h0M261.6 425.2h0M274.2 459.6h0M197.3 441.9h0M246.3 495.2h0M265.2 465.1h0M277.3 463.4h0M197.2 474.4h0M195.1 431.6h0M228.3 391.7h0M268.4 477.3h0M216.6 404.5h0M248.6 495.8h0M262.5 500.0h0M271.3 456.8h0M234.5 368.7h0M183.1 446.0h0M274.5 445.9h0M192.5 449.4h0M227.6 487.1h0M284.7 415.5h0M299.8 466.6h0M268.9 481.1h0M274.7 481.2h0M231.6 480.0h0M254.2 490.8h0M218.9 500.3h0M207.2 400.9h0M208.8 422.3h0M265.9 422.0h0M368.1 439.4h0M175.2 485.0h0M285.5 494.6h0M280.9 463.4h0M149.7 468.9h0M198.5 466.8h0M192.9 428.7h0M270.1 484.9h0M193.7 448.5h0M275.5 401.0h0M210.7 423.2h0M222.5 482.6h0M210.9 406.9h0M180.1 463.3h0M259.4 423.8h0M243.4 381.5h0M284.8 476.2h0M277.5 456.7h0M240.0 383.7h0M270.8 484.2h0M256.3 484.2h0M180.3 478.5h0M248.5 388.6h0M167.0 467.0h0M233.9 488.0h0M211.4 414.6h0M198.3 388.1h0M173.4 485.0h0M282.6 445.5h0M267.6 435.6h0M210.8 517.2h0M245.3 404.0h0M284.7 432.0h0M186.9 443.5h0M192.0 379.4h0M321.5 464.7h0M241.6 490.8h0M194.6 475.6h0M299.9 431.5h0M190.7 473.3h0M287.1 429.7h0M193.7 441.8h0M178.3 482.9h0M199.5 445.5h0M259.6 472.5h0M295.4 424.0h0M202.4 494.0h0M174.7 455.9h0M280.5 457.2h0M179.4 465.8h0M214.3 410.8h0M272.4 466.8h0M220.6 393.1h0M229.7 382.2h0M220.1 507.4h0M223.3 480.0h0M255.8 475.8h0M164.8 476.8h0M263.0 404.8h0M291.7 465.0h0M260.3 432.7h0M204.6 475.7h0M235.3 487.8h0M202.7 476.5h0M196.4 499.4h0M196.0 412.4h0M267.7 481.9h0M276.1 420.1h0M185.1 463.9h0M273.2 460.1h0M212.2 483.5h0M192.3 426.5h0M259.8 508.8h0M232.8 399.2h0M216.6 476.1h0M296.1 444.1h0M174.9 460.0h0M288.4 452.0h0M236.9 497.0h0M234.6 486.5h0M197.0 431.4h0M192.1 454.2h0M268.8 482.6h0M281.3 415.0h0M209.1 474.7h0M180.2 431.6h0M256.0 410.1h0M198.3 422.5h0M217.2 480.1h0M217.7 493.9h0M248.2 379.8h0M284.4 407.7h0M189.2 473.0h0M228.4 392.6h0M175.5 458.5h0M189.7 460.5h0M277.0 473.4h0M254.5 411.3h0M213.9 479.8h0M295.7 459.2h0M186.4 436.5h0M287.8 464.7h0M313.0 463.5h0M268.0 446.4h0M196.9 496.7h0M276.6 456.3h0M200.2 489.4h0M276.0 447.3h0M309.3 463.1h0M215.3 401.2h0M291.0 444.4h0M213.3 474.6h0M272.9 465.5h0M172.0 452.5h0M267.9 483.9h0M194.1 464.7h0M196.4 412.0h0M177.9 466.6h0M309.2 437.9h0M256.9 478.4h0M285.6 454.6h0M223.8 479.5h0M186.9 420.8h0M359.0 464.5h0M265.3 396.0h0M280.3 406.5h0M258.8 411.2h0M189.3 490.1h0M209.3 481.3h0M214.9 417.1h0M193.6 419.8h0M280.9 451.4h0M252.9 507.9h0M183.0 450.0h0M181.9 467.6h0M295.2 452.9h0M216.0 482.5h0M273.0 464.8h0M177.9 449.8h0M192.5 466.3h0M290.8 482.4h0M284.7 494.8h0M269.3 447.8h0M231.5 403.4h0M291.2 466.2h0M289.0 443.4h0M270.2 449.6h0M260.5 492.6h0M240.3 386.0h0M247.3 395.9h0M227.4 389.9h0M267.4 513.7h0M293.8 446.2h0M189.1 464.5h0M306.3 477.0h0M205.4 485.1h0M227.2 493.6h0M239.8 376.2h0M285.8 454.9h0M289.7 440.1h0M180.8 452.8h0M275.3 444.1h0M208.6 393.0h0M270.7 491.3h0M227.1 490.7h0M188.2 455.3h0M240.8 401.6h0M204.8 426.7h0M256.5 377.2h0M173.7 479.3h0M191.4 440.3h0M200.3 433.1h0M279.1 425.4h0M256.3 414.4h0M245.6 478.5h0M293.5 450.9h0M257.2 414.8h0M257.8 422.7h0M188.5 446.7h0M272.9 502.4h0M261.2 413.4h0M281.5 384.6h0M261.9 413.8h0M222.0 401.6h0M206.6 396.2h0M214.0 487.4h0M257.7 423.5h0M235.4 393.7h0M218.6 499.5h0M207.8 488.4h0M238.9 392.9h0M260.0 476.8h0M170.7 475.6h0M287.9 458.3h0M284.8 457.6h0M227.4 479.7h0M157.3 459.1h0M278.9 449.5h0M211.6 482.0h0M252.2 476.7h0M250.8 476.8h0M251.1 412.7h0M265.7 419.9h0M330.4 429.6h0M289.1 442.5h0M183.4 453.5h0M277.0 396.2h0M269.5 424.7h0M233.0 491.1h0M197.3 429.8h0M203.1 505.5h0M200.8 430.4h0M265.0 427.4h0M294.7 474.6h0M230.9 477.6h0M277.6 459.8h0M207.2 422.9h0M220.0 391.1h0M228.6 405.1h0M166.7 472.0h0M226.6 378.8h0M301.3 459.6h0M270.5 440.5h0M245.8 489.9h0M228.5 505.2h0M202.2 478.6h0M266.4 501.4h0M244.4 398.2h0M207.2 423.7h0M290.9 502.3h0M242.8 478.0h0M264.0 501.2h0M282.0 457.4h0M327.5 445.8h0M256.9 473.7h0M266.2 421.8h0M174.3 495.7h0M203.1 489.6h0M207.1 480.6h0M200.3 405.1h0M279.6 422.8h0M218.6 408.9h0M315.7 466.7h0M274.9 481.2h0M274.1 475.6h0M313.9 462.8h0M216.4 387.8h0M252.2 490.3h0M284.2 424.6h0M186.4 490.8h0M194.6 414.2h0M282.5 457.3h0M341.7 468.2h0M257.7 430.6h0M279.5 448.0h0M194.5 423.6h0M231.5 402.7h0M258.8 412.3h0M172.9 481.1h0M246.6 478.0h0M169.8 478.3h0M256.4 481.7h0M264.3 400.6h0M272.2 444.6h0M272.5 458.1h0M251.8 509.5h0M309.9 482.1h0M172.5 436.3h0M274.9 477.9h0M185.2 426.2h0M273.6 438.2h0M247.6 488.9h0M299.9 407.0h0M214.7 476.5h0M190.6 471.6h0M200.8 438.4h0M231.6 482.1h0M264.0 495.5h0M183.5 385.0h0M285.1 462.6h0M198.4 501.2h0M271.1 443.8h0M204.6 405.7h0M297.5 415.7h0M270.1 429.0h0M207.3 494.5h0M258.2 486.1h0M185.5 463.4h0M180.3 465.7h0M207.5 401.5h0M319.2 412.2h0M218.6 482.6h0M197.8 484.8h0M202.6 497.2h0M195.2 427.3h0M169.5 490.0h0M238.5 390.4h0M260.6 433.6h0M163.5 458.8h0M181.2 449.0h0M270.1 458.0h0M187.2 414.8h0M266.0 385.8h0M261.9 489.0h0M169.0 433.6h0M202.2 440.2h0M256.7 474.0h0M211.3 493.5h0M276.6 449.6h0M241.5 477.7h0M219.9 397.3h0M255.4 476.5h0M212.6 413.3h0M208.3 495.4h0M260.9 437.7h0M183.3 474.4h0M270.6 457.8h0M281.3 473.7h0M301.1 455.4h0M274.7 473.2h0M206.6 421.1h0M185.3 475.4h0M241.8 487.3h0M263.7 472.9h0M253.8 396.0h0M222.3 479.8h0M204.6 492.4h0M271.7 387.6h0M264.5 413.9h0M174.2 453.9h0M202.7 423.4h0M211.3 486.8h0M267.3 414.3h0M254.6 419.9h0M271.0 442.9h0M188.3 379.9h0M190.3 382.8h0M244.5 400.0h0M244.0 395.0h0M239.1 484.1h0M267.8 461.5h0M242.1 495.9h0M255.9 419.0h0M182.0 453.1h0M187.0 468.3h0M206.2 487.4h0M277.2 499.5h0M200.1 442.3h0M354.6 443.4h0M201.8 486.3h0M191.7 451.9h0M245.7 385.6h0M280.5 463.5h0M225.8 394.5h0M207.4 403.5h0M197.9 449.3h0M195.3 441.2h0M306.7 456.4h0M204.1 427.1h0M279.7 493.2h0M273.8 374.9h0M289.7 451.3h0M257.3 477.2h0M226.0 482.9h0M274.4 454.5h0M293.8 438.8h0M239.1 382.2h0M194.9 422.8h0M167.9 476.1h0M268.4 474.1h0M284.3 467.7h0M175.6 475.7h0M174.5 443.4h0M233.7 401.3h0M189.8 377.9h0M221.1 405.7h0M255.3 480.6h0M263.3 405.6h0M216.9 364.9h0M156.9 479.6h0M306.2 459.5h0M345.9 458.1h0M191.2 470.5h0M269.4 435.9h0M241.9 389.1h0M264.9 475.7h0M294.6 447.6h0M241.2 483.1h0M228.6 402.4h0M267.1 480.6h0M280.6 399.3h0M282.1 410.1h0M181.1 420.8h0M182.9 480.6h0M285.4 402.7h0M268.4 430.4h0M256.5 504.2h0M197.8 484.0h0M267.2 446.2h0M260.1 476.8h0M254.2 387.4h0M222.2 483.6h0M278.6 417.8h0M274.9 470.5h0M251.9 498.9h0M257.9 397.1h0M243.1 385.4h0M225.0 387.9h0M183.4 449.1h0M275.2 439.4h0M271.0 463.9h0M243.7 395.0h0M255.2 477.8h0M176.0 471.1h0M203.2 488.0h0M274.0 426.4h0M262.5 386.8h0M254.7 420.9h0M329.6 499.3h0M297.4 448.9h0M189.1 442.1h0M214.6 396.5h0M207.3 428.4h0M241.1 387.3h0M240.6 383.4h0M241.9 369.3h0M290.1 443.2h0M192.8 481.8h0M243.7 387.4h0M218.0 401.3h0M293.1 430.4h0M227.4 395.1h0M276.3 426.4h0M330.8 440.4h0M255.9 424.2h0M197.5 506.1h0M283.2 470.1h0M299.6 464.9h0M260.0 403.2h0M333.5 460.0h0M239.7 377.2h0M233.9 387.3h0M255.7 414.4h0M246.4 482.7h0M270.5 464.0h0M269.4 487.2h0M274.2 431.1h0M171.5 453.6h0M176.3 471.9h0M178.7 478.4h0M234.9 505.1h0M308.8 458.6h0M172.6 458.2h0M191.6 435.5h0M218.1 496.2h0M257.7 415.6h0M217.2 414.4h0M303.9 447.7h0M211.5 407.7h0M209.1 391.5h0M181.5 458.2h0M291.0 490.5h0M272.5 403.7h0M189.7 467.0h0M178.4 392.4h0M258.5 479.3h0M201.6 438.7h0M216.9 492.0h0M268.6 464.9h0M247.7 390.3h0M194.0 408.3h0M287.0 449.1h0M259.3 501.3h0M257.0 405.6h0M226.0 381.0h0M213.8 417.2h0M176.9 436.1h0M268.6 450.0h0M222.2 478.5h0M236.2 496.7h0M296.2 450.9h0M286.6 448.7h0M318.3 502.2h0M243.8 380.2h0M184.8 487.7h0M220.2 477.5h0M204.1 435.6h0M242.3 484.4h0M298.6 483.2h0M208.2 423.7h0M185.7 465.6h0M241.6 495.4h0M252.6 414.3h0M270.5 473.3h0M212.4 402.8h0M186.3 441.8h0M215.6 477.9h0M301.5 410.7h0M208.0 408.8h0M199.8 441.4h0M196.4 469.8h0M354.3 462.6h0M276.4 447.2h0M200.3 423.3h0M241.7 392.2h0M212.7 406.3h0M283.8 465.4h0M200.3 440.0h0M213.2 484.5h0M273.6 465.5h0M265.5 499.4h0M333.2 466.8h0M263.4 487.6h0M189.1 407.2h0M171.1 426.5h0M221.0 400.8h0M194.7 435.6h0M234.7 483.8h0M218.6 475.8h0M371.3 435.7h0M192.4 476.6h0M273.5 411.0h0M248.2 479.3h0M329.8 467.4h0M222.1 401.9h0M293.5 418.2h0M271.4 457.2h0M236.9 381.3h0M199.5 376.7h0M195.5 454.5h0M249.7 494.5h0M193.1 446.9h0M255.6 377.0h0M288.6 438.4h0M193.1 468.9h0M269.3 442.0h0M205.6 397.6h0M265.7 465.7h0M231.8 501.1h0M299.7 464.5h0M199.6 480.6h0M277.0 367.5h0M225.6 477.8h0M154.9 463.2h0M282.6 478.3h0M258.1 405.8h0M201.9 479.3h0M238.0 385.6h0M161.4 471.0h0M277.5 445.7h0M225.5 392.7h0M192.9 448.1h0M268.2 465.3h0M267.7 417.8h0M200.0 431.4h0M286.0 445.9h0M193.9 464.7h0M265.3 441.6h0M278.7 432.1h0M267.9 404.2h0M264.6 441.2h0M218.1 411.0h0M215.1 476.3h0M259.6 428.6h0M196.6 447.6h0M246.5 490.2h0M214.6 491.9h0M208.9 419.1h0M241.6 399.9h0M189.0 432.3h0M242.7 389.2h0M227.3 484.0h0M263.8 426.0h0M284.8 468.2h0M231.7 399.5h0M263.3 440.9h0M239.6 497.9h0M320.7 472.4h0M264.8 507.7h0M212.4 477.2h0M292.6 442.5h0M288.3 468.7h0M306.8 454.3h0M184.0 445.5h0M193.9 464.5h0M272.2 451.2h0M211.2 483.6h0M217.5 477.0h0M181.7 437.3h0M267.2 430.2h0M257.3 491.9h0M169.4 462.5h0M163.3 441.0h0M207.0 487.3h0M226.0 386.4h0M260.5 402.7h0M262.2 429.9h0M192.8 453.7h0M249.3 477.3h0M215.4 479.1h0M189.9 465.1h0M203.6 431.6h0M251.5 394.6h0M281.6 416.8h0M183.1 459.2h0M338.7 476.4h0M245.2 489.2h0M248.2 498.3h0M196.2 389.6h0M184.5 466.2h0M169.8 476.2h0M244.6 500.3h0M288.9 428.3h0M297.7 472.7h0M186.3 423.6h0M245.2 386.9h0M243.4 393.9h0M166.2 457.7h0M197.8 429.3h0M207.0 472.1h0M294.2 417.8h0M211.8 477.8h0M206.4 471.4h0M201.2 433.8h0M158.4 466.2h0M234.8 478.0h0M187.4 454.2h0M204.8 429.5h0M228.9 392.1h0M247.3 395.8h0M260.7 400.8h0M221.2 388.6h0M302.2 455.8h0M256.5 388.2h0M333.4 481.5h0M297.6 461.9h0M297.8 482.9h0M212.9 484.7h0M168.8 477.8h0M165.5 471.8h0M208.7 397.7h0M312.3 445.1h0M250.2 480.7h0M320.6 420.5h0M219.7 409.9h0M222.7 392.8h0M191.2 467.9h0M262.5 389.1h0M253.3 404.7h0M245.5 401.2h0M187.2 425.8h0M195.9 472.0h0M209.5 405.3h0M214.5 403.5h0M187.4 444.8h0M264.0 475.0h0M280.5 425.9h0M196.4 429.8h0M265.3 432.9h0M234.3 380.1h0M251.3 412.7h0M282.8 463.2h0M302.0 428.3h0M280.3 422.5h0M274.0 471.2h0M271.2 446.2h0M251.1 513.3h0M310.1 426.3h0M243.9 498.6h0M221.0 405.1h0M276.5 468.3h0M212.1 393.1h0M300.0 413.2h0M203.7 427.1h0M267.2 394.6h0M200.5 411.9h0M310.0 489.2h0M259.3 379.3h0M273.8 427.2h0M215.4 397.1h0M272.4 414.8h0M185.6 485.9h0M221.8 480.5h0M252.4 404.9h0M255.9 421.0h0M229.5 489.0h0M246.6 483.6h0M283.0 399.2h0M212.3 405.0h0M190.5 472.6h0M263.2 394.8h0M244.9 402.6h0M274.3 461.2h0M287.4 482.6h0M281.7 417.7h0M308.3 427.4h0M269.1 434.1h0M235.1 396.6h0M256.5 370.7h0M223.9 400.6h0M257.7 404.7h0M197.2 470.8h0M230.6 397.6h0M231.1 498.3h0M355.3 427.7h0M203.7 480.8h0M209.1 398.5h0M230.1 389.6h0M203.7 476.8h0M265.5 412.2h0M266.8 411.9h0M190.9 440.1h0M283.7 477.4h0M166.2 478.2h0M235.8 375.6h0M277.2 429.0h0M268.3 463.9h0M211.8 408.7h0M216.0 383.5h0M264.2 469.5h0M213.2 506.7h0M240.7 487.8h0M185.5 474.5h0M245.5 378.4h0M242.9 507.5h0M199.4 440.6h0M276.4 445.2h0M250.1 404.6h0M271.8 388.1h0M279.2 488.0h0M295.3 457.6h0M217.2 396.0h0M246.4 404.3h0M231.9 478.7h0M242.3 499.1h0M205.0 477.9h0M230.8 389.1h0M196.2 418.5h0M209.5 424.2h0M184.9 431.8h0M261.8 388.8h0M259.1 428.8h0M229.0 486.2h0M286.1 425.6h0M236.4 382.5h0M340.5 460.4h0M271.2 449.8h0M198.4 485.4h0M309.9 460.5h0M286.4 452.2h0M188.4 443.7h0M273.4 393.8h0M185.4 458.5h0M256.2 420.0h0M233.8 484.3h0M199.6 442.2h0M265.7 436.7h0M285.7 441.3h0M250.1 489.0h0M274.0 458.3h0M295.8 493.0h0M192.1 449.3h0M270.3 480.6h0M242.6 395.6h0M198.7 431.0h0M235.9 484.7h0M287.1 475.0h0M205.3 429.5h0M251.5 374.0h0M238.8 394.9h0M204.4 384.8h0M264.7 417.4h0M213.2 418.7h0M197.9 426.4h0M326.3 477.6h0M273.8 422.4h0M199.6 426.2h0M251.9 405.9h0M212.7 413.5h0M252.6 392.7h0M302.2 446.3h0M256.8 428.0h0M213.6 480.3h0M268.5 462.1h0M261.6 436.6h0M263.8 431.9h0M170.6 456.4h0M254.1 492.4h0M190.6 459.9h0M280.7 467.0h0M260.0 388.0h0M268.0 372.9h0M271.6 480.7h0M227.9 483.2h0M179.5 472.8h0M209.1 481.3h0M277.0 499.3h0M266.0 412.2h0M266.6 382.5h0M182.1 393.0h0M305.4 454.7h0M199.8 497.0h0M177.0 423.1h0M285.6 466.4h0M275.0 434.2h0M209.3 414.6h0M277.9 437.1h0M149.7 471.2h0M176.2 446.2h0M184.8 438.4h0M296.4 462.4h0M192.0 454.8h0M169.8 453.2h0M342.9 429.0h0M266.9 412.4h0M194.1 453.8h0M208.7 477.6h0M302.6 450.1h0M287.8 438.9h0M185.3 457.9h0M196.7 414.3h0M272.9 423.5h0M273.8 479.1h0M268.8 411.9h0M248.4 491.3h0M236.6 499.6h0M343.4 465.6h0M293.9 490.6h0M244.7 514.2h0M286.4 484.0h0M229.9 486.8h0M193.5 490.0h0M180.4 439.4h0M218.6 486.3h0M263.1 424.6h0M270.2 451.6h0M202.6 416.5h0M246.5 395.5h0M226.7 482.0h0M275.5 440.7h0M240.2 479.4h0M270.9 487.5h0M188.8 457.4h0M255.0 368.8h0M184.8 435.6h0M288.4 472.0h0M277.8 455.1h0M257.4 411.6h0M271.0 447.0h0M258.9 423.3h0M252.8 397.7h0M156.5 473.2h0M221.1 385.1h0M185.0 445.1h0M187.9 430.5h0M203.3 482.7h0M270.2 457.0h0M256.0 486.6h0M257.5 414.0h0M186.2 465.0h0M188.7 442.4h0M273.3 428.4h0M249.5 403.1h0M252.1 490.4h0M259.2 421.1h0M255.2 382.6h0M268.7 428.8h0M273.2 440.1h0M257.6 480.7h0M217.6 512.7h0M311.0 462.4h0M303.8 466.5h0M217.9 381.9h0M237.5 390.0h0M286.8 440.3h0M248.5 390.4h0M313.1 420.9h0M196.3 439.3h0M172.9 473.4h0M256.0 478.2h0M181.7 387.8h0M257.1 380.7h0M277.1 451.1h0M276.6 470.9h0M309.2 477.1h0M200.6 473.2h0M189.2 481.8h0M288.3 449.0h0M258.6 429.7h0M220.0 393.4h0M218.9 389.3h0M187.3 417.4h0M297.8 425.7h0M247.6 395.7h0M272.5 463.1h0M318.8 436.8h0M193.0 443.7h0M189.8 469.5h0M269.0 449.5h0M262.4 468.8h0M289.4 450.0h0M226.2 391.0h0M199.6 474.9h0M319.8 487.1h0M230.2 384.3h0M261.2 373.3h0M229.2 399.1h0M174.9 486.9h0M277.8 437.4h0M206.9 491.0h0M195.5 488.6h0M204.3 398.6h0M233.4 479.0h0M218.4 396.1h0M185.1 435.0h0M278.6 456.8h0M256.0 410.6h0M209.9 417.5h0M254.7 479.9h0M272.8 463.4h0M296.3 465.6h0M220.9 410.0h0M199.1 412.8h0M362.4 419.7h0M292.8 436.5h0M221.1 401.0h0M282.5 416.4h0M252.8 487.0h0M279.3 440.0h0M304.2 424.0h0M206.0 411.3h0M285.4 460.8h0M206.9 485.5h0M240.1 390.4h0M257.3 482.4h0M163.5 446.0h0M191.2 423.1h0M195.2 468.3h0M179.1 467.8h0M243.9 395.8h0M184.6 465.3h0M180.7 441.8h0M210.4 388.9h0M250.7 405.9h0M267.3 441.0h0M196.9 483.4h0M256.8 404.9h0M167.2 474.3h0M183.8 473.4h0M298.0 440.2h0M232.7 365.3h0M287.9 452.4h0M258.4 411.3h0M268.0 444.6h0M294.1 473.3h0M288.3 445.3h0M316.0 434.2h0M241.7 387.1h0M231.4 480.5h0M192.7 414.9h0M254.8 397.5h0M239.8 397.2h0M206.3 404.3h0M255.0 400.2h0M204.4 471.7h0M222.6 396.9h0M268.4 480.8h0M201.0 426.6h0M256.2 413.6h0M265.1 442.2h0M304.9 462.9h0M216.6 478.6h0M260.2 406.4h0M291.1 485.4h0M283.8 444.9h0M247.7 390.8h0M256.1 388.8h0M271.8 432.1h0M263.2 481.9h0M279.7 437.1h0M163.9 471.2h0M228.8 402.0h0M213.8 391.3h0M247.8 485.3h0M230.9 480.7h0M294.0 454.9h0M192.7 438.9h0M200.6 413.7h0M243.9 397.9h0M300.0 448.7h0M188.3 473.5h0M276.7 466.9h0M222.9 489.3h0M271.1 479.3h0M263.6 472.5h0M233.5 396.0h0M273.9 491.7h0M159.1 461.0h0M229.3 486.0h0M267.6 498.2h0M288.7 453.9h0M207.8 406.5h0M242.2 495.5h0M237.5 484.3h0M264.9 430.9h0M310.0 451.1h0M254.1 411.3h0M246.2 367.4h0M169.6 461.4h0M243.6 495.6h0M219.5 391.5h0M268.5 397.7h0M266.2 403.0h0M219.7 495.5h0M188.9 472.2h0M296.8 447.1h0M219.1 479.9h0M226.5 393.3h0M198.6 438.2h0M233.0 399.0h0M257.5 401.1h0M248.6 388.2h0M207.6 404.9h0M285.2 495.7h0M201.1 413.8h0M234.5 489.3h0M226.5 392.6h0M213.6 498.3h0M208.4 490.1h0M238.8 398.7h0M284.0 416.6h0M204.6 490.9h0M245.0 485.4h0M227.0 386.2h0M304.8 451.3h0M281.7 440.6h0M182.8 476.2h0M196.3 478.8h0M272.3 395.8h0M264.1 419.5h0M257.0 387.8h0M183.3 445.6h0M208.4 482.7h0M286.9 472.9h0M244.7 477.4h0M184.5 461.5h0M254.1 475.9h0M245.0 483.3h0M184.0 439.6h0M262.5 437.1h0M220.2 491.6h0M218.7 476.3h0M199.4 471.4h0M276.5 439.2h0M290.2 463.6h0M232.9 495.7h0M249.6 403.0h0M274.1 483.2h0M193.4 474.4h0M223.4 485.6h0M207.6 425.7h0M178.5 463.7h0M236.9 373.5h0M272.6 465.4h0M183.8 499.7h0M249.5 402.6h0M261.1 428.4h0M191.8 402.6h0M255.8 422.2h0M247.4 393.3h0M229.7 381.3h0M237.7 489.7h0M251.1 486.3h0M268.6 395.0h0M205.3 486.4h0M257.0 492.7h0M206.3 420.0h0M272.1 438.2h0M196.4 435.4h0M277.7 381.7h0M281.1 445.3h0M274.1 425.3h0M276.9 471.1h0M266.5 491.9h0M222.4 493.4h0M236.8 400.4h0M301.2 472.7h0M304.0 401.5h0M225.0 497.6h0M265.9 434.1h0M281.0 450.2h0M185.3 473.3h0M255.6 420.7h0M253.7 480.0h0M264.8 480.9h0M252.1 397.0h0M180.3 476.0h0M228.3 388.3h0M277.5 488.8h0M212.8 487.4h0M192.7 427.2h0M197.0 404.9h0M214.7 410.8h0M307.9 451.0h0M271.4 469.9h0M251.9 387.5h0M289.7 452.8h0M260.7 434.9h0M220.1 486.9h0M239.6 486.4h0M273.5 500.2h0M263.3 416.2h0M304.6 432.2h0M187.4 462.1h0M305.8 448.2h0M236.6 485.1h0M284.4 417.0h0M195.6 472.9h0M262.1 486.0h0M180.1 449.3h0M273.0 477.7h0M191.6 457.6h0M188.1 483.4h0M292.5 453.3h0M205.9 404.6h0M230.7 402.3h0M273.4 450.2h0M188.6 458.1h0M247.4 370.7h0M214.8 417.0h0M185.5 467.0h0M304.1 444.8h0M258.2 406.7h0M257.5 425.9h0M274.9 470.6h0M245.3 394.3h0M190.8 459.9h0M214.4 402.1h0M270.5 479.9h0M285.2 448.9h0M207.8 484.5h0M270.9 473.4h0M183.6 492.5h0M188.4 456.3h0M178.9 423.7h0M197.9 421.0h0M238.3 373.8h0M240.8 387.1h0M262.1 500.3h0M241.8 392.1h0M229.5 487.5h0M226.3 480.6h0M229.0 493.5h0M183.8 468.5h0M272.5 493.2h0M272.6 469.0h0M269.3 475.3h0M229.5 389.6h0M298.0 494.0h0M199.1 379.5h0M212.5 475.8h0M190.5 452.3h0M271.0 474.1h0M235.8 491.6h0M267.2 488.1h0M234.9 385.6h0M347.1 431.1h0M225.0 481.2h0M177.2 473.2h0M274.6 468.7h0M236.7 479.6h0M260.5 471.1h0M217.5 480.0h0M209.9 411.1h0M202.2 498.7h0M287.2 447.4h0M212.8 495.4h0M181.7 486.1h0M263.4 477.3h0M245.1 397.8h0M242.7 395.2h0M246.6 404.9h0M227.1 493.7h0M219.2 380.4h0M191.0 430.3h0M273.7 486.1h0M197.7 431.1h0M252.2 410.2h0M194.1 476.9h0M213.6 416.2h0M289.7 480.4h0M214.1 395.2h0M223.8 491.6h0M192.6 455.3h0M195.2 424.8h0M297.7 445.9h0M226.1 405.1h0M211.4 481.2h0M177.7 432.8h0M255.2 421.1h0M249.4 406.0h0M261.1 471.9h0M195.4 410.7h0M286.4 469.2h0M233.0 497.7h0M161.7 443.8h0M189.0 468.3h0M181.8 453.9h0M260.4 489.8h0M233.3 478.3h0M188.9 425.4h0M223.3 384.0h0M295.5 453.7h0M205.8 487.3h0M277.6 400.8h0M255.9 371.0h0M275.6 455.0h0M191.9 433.7h0M178.4 494.2h0M195.0 411.5h0M330.5 440.4h0M174.3 456.9h0M265.1 486.1h0M174.1 464.7h0M265.2 491.2h0M191.7 441.2h0M181.4 404.9h0M187.9 476.8h0M225.9 482.7h0M266.7 485.8h0M173.1 469.4h0M185.4 397.2h0M260.7 422.3h0M260.4 374.9h0M205.6 488.5h0M203.4 479.3h0M240.5 497.9h0M268.7 486.1h0M176.1 467.8h0M190.2 418.8h0M253.3 408.7h0M196.6 465.5h0M253.4 389.5h0M194.4 461.8h0M163.1 480.7h0M276.4 442.7h0M194.7 470.9h0M187.2 448.6h0M193.9 444.7h0M160.2 450.3h0M266.0 437.0h0M205.5 432.8h0M293.7 420.8h0M190.3 416.3h0M290.7 479.5h0M233.8 481.5h0M198.1 449.1h0M230.1 395.7h0M161.5 397.5h0M226.0 477.1h0M220.2 397.7h0M282.6 463.5h0M195.7 428.8h0M211.8 475.7h0M192.4 469.2h0M200.6 416.9h0M207.5 482.9h0M361.2 474.5h0M180.0 453.6h0M172.5 471.0h0M213.2 417.6h0M186.8 443.0h0M317.0 454.4h0M241.0 504.3h0M198.8 433.2h0M274.7 415.7h0M326.7 473.6h0M273.3 389.0h0M181.7 482.7h0M216.4 385.1h0M274.4 393.9h0M201.0 426.8h0M230.6 396.2h0M286.3 474.1h0M176.9 440.9h0M259.2 415.9h0M276.7 467.3h0M218.1 479.7h0M166.8 481.3h0M267.6 492.8h0M263.6 466.4h0M261.3 481.6h0M248.0 397.4h0M262.2 469.5h0M251.4 492.3h0M181.8 477.8h0M169.0 444.9h0M286.6 456.2h0M202.9 392.6h0M209.2 391.4h0M324.5 446.1h0M196.9 408.2h0M196.1 466.3h0M205.9 425.8h0M294.7 459.1h0M330.2 419.5h0M192.6 440.6h0M298.0 436.3h0M190.8 411.2h0M222.2 495.2h0M187.1 401.7h0M316.8 455.3h0M179.7 468.6h0M196.2 485.2h0M276.7 476.6h0M265.2 418.2h0M275.8 413.4h0M277.5 455.4h0M302.1 447.0h0M253.9 484.8h0M208.8 374.3h0M187.4 387.8h0M219.1 490.9h0M177.9 434.1h0M257.9 378.4h0M212.7 492.5h0M179.3 471.7h0M188.7 428.0h0M271.3 418.7h0M181.1 476.4h0M201.8 485.9h0M198.1 474.3h0M198.7 396.8h0M286.0 450.7h0M248.4 409.0h0M288.0 431.4h0M267.2 410.2h0M275.8 448.2h0M242.9 370.2h0M261.1 400.3h0M196.3 427.9h0M207.9 416.2h0M274.6 390.8h0M262.9 410.1h0M251.4 489.2h0M186.5 442.7h0M274.2 458.7h0M191.2 477.9h0M180.0 474.8h0M207.9 400.8h0M188.9 482.6h0M197.7 431.0h0M204.4 422.2h0M270.0 432.4h0M223.8 479.1h0M271.8 466.8h0M266.7 431.9h0M188.3 447.5h0M181.8 477.8h0M196.4 398.8h0M275.0 477.6h0M281.3 474.4h0M239.8 487.9h0M271.9 466.9h0M270.1 465.6h0M224.4 489.6h0M189.1 431.1h0M237.1 481.0h0M303.6 421.1h0M256.9 482.3h0M250.3 380.5h0M314.0 435.5h0M259.3 499.7h0M307.2 425.4h0M206.8 481.1h0M269.2 368.2h0M185.9 452.2h0M200.3 474.4h0M208.3 492.2h0M213.9 390.2h0M216.4 482.2h0M211.4 479.7h0M252.6 398.1h0M243.9 482.2h0M204.9 471.7h0M175.6 424.8h0M173.2 488.0h0M289.5 461.0h0M249.4 384.6h0M198.2 366.0h0M197.6 497.3h0M288.6 485.7h0M303.6 439.4h0M268.5 370.5h0M245.7 487.9h0M205.2 395.8h0M210.7 397.2h0M306.8 476.1h0M186.7 375.4h0M238.9 391.2h0M221.7 480.5h0M254.8 481.1h0M247.8 392.6h0M233.4 494.7h0M192.2 447.2h0M249.8 408.9h0M266.0 441.1h0M202.3 405.4h0M191.6 401.7h0M270.4 456.3h0M254.4 484.0h0M177.9 453.7h0M208.0 370.9h0M270.3 497.8h0M297.0 468.1h0M247.7 489.6h0M184.0 484.1h0M322.4 484.3h0M193.8 444.1h0M262.3 471.6h0M192.5 475.3h0M274.1 448.5h0M227.7 496.1h0M259.4 425.2h0M265.1 486.2h0M275.9 408.4h0M273.0 433.2h0M209.8 403.1h0M289.9 485.9h0M206.0 402.9h0M210.3 519.6h0M226.9 389.8h0M265.0 489.3h0M334.9 443.6h0M215.9 486.0h0M294.6 482.7h0M254.4 421.1h0M223.3 400.2h0M216.3 477.4h0M256.5 392.4h0M188.3 453.1h0M216.4 506.6h0M252.8 416.0h0M175.2 393.6h0M284.1 484.2h0M233.2 388.3h0M263.4 492.8h0M197.7 477.4h0M257.5 401.8h0M233.3 511.1h0M364.2 465.8h0M215.9 477.5h0M280.2 449.1h0M271.2 414.4h0M195.8 515.4h0M225.3 477.1h0M199.8 468.8h0M263.9 435.8h0M256.9 507.6h0M196.7 449.9h0M234.2 399.1h0M288.9 426.8h0M191.0 458.4h0M239.5 479.8h0M237.0 486.2h0M254.8 416.3h0M229.4 397.4h0M299.9 442.4h0M201.2 394.0h0M265.5 393.3h0M247.6 401.1h0M202.8 395.0h0M273.2 463.3h0M270.4 444.9h0M277.4 464.8h0M219.0 397.6h0M202.4 504.9h0M178.7 490.1h0M197.5 428.7h0M249.7 409.8h0M196.4 399.7h0M223.4 502.1h0M210.5 488.7h0M269.2 451.4h0M201.9 440.4h0M274.0 461.7h0M276.4 451.1h0M271.3 396.4h0M207.4 502.8h0M219.5 481.1h0M200.9 494.4h0M247.6 508.1h0M189.2 467.5h0M333.2 473.5h0M181.3 420.0h0M203.6 421.8h0M227.8 496.9h0M269.7 411.2h0M234.2 386.1h0M196.4 445.0h0M196.3 446.8h0M317.0 492.6h0M181.3 468.9h0M187.6 424.1h0M272.5 402.4h0M180.9 439.9h0M290.8 440.2h0M259.9 427.0h0M259.3 479.6h0M202.8 391.9h0M252.0 402.9h0M280.2 484.7h0M268.1 460.3h0M166.4 452.4h0M311.0 428.9h0M221.1 366.4h0M233.8 391.1h0M156.8 414.5h0M188.8 456.2h0M188.8 449.7h0M277.1 472.5h0M286.8 464.6h0M181.5 440.1h0M187.1 440.0h0M239.4 493.0h0M213.3 375.7h0M219.1 406.9h0M191.4 426.1h0M310.5 418.9h0M272.7 477.5h0M214.6 416.2h0M184.8 464.7h0M284.9 444.1h0M192.7 433.2h0M191.9 470.4h0M293.3 461.4h0M285.4 426.7h0M291.0 424.2h0M291.0 456.3h0M191.8 485.5h0M197.1 443.4h0M186.7 477.5h0M192.3 480.8h0M217.2 406.6h0M196.6 438.1h0M225.1 400.1h0M300.4 480.9h0M176.6 415.6h0M194.3 459.0h0M268.9 460.8h0M254.8 499.8h0M264.6 474.8h0M233.7 488.6h0M200.9 479.7h0M283.9 468.5h0M300.8 456.8h0M207.1 401.2h0M262.1 418.4h0M169.9 466.6h0M198.2 413.7h0M247.3 481.4h0M281.8 452.4h0M251.1 394.1h0M190.4 428.3h0M180.8 470.3h0M201.4 429.3h0M253.4 408.3h0M225.4 492.0h0M219.9 404.4h0M289.3 443.0h0M248.1 408.0h0M267.4 445.5h0M259.8 380.2h0M290.0 442.7h0M292.1 451.9h0M268.2 442.7h0M259.3 472.1h0M171.0 463.0h0M269.2 396.3h0M225.8 501.5h0M305.8 488.1h0M177.2 489.7h0M299.8 458.7h0M186.9 434.4h0M344.4 444.1h0M184.8 457.1h0M250.9 494.5h0M201.9 484.5h0M264.3 483.4h0M190.9 394.0h0M174.6 430.2h0M256.2 396.9h0M235.0 485.6h0M215.0 394.6h0M266.8 433.9h0M219.9 481.5h0M254.4 386.5h0M192.4 466.4h0M287.1 436.5h0M266.3 470.9h0M259.8 477.4h0M226.8 383.5h0M198.2 447.7h0M196.3 450.9h0M206.7 427.9h0M204.5 396.3h0M274.5 437.5h0M264.1 384.6h0M272.0 478.3h0M197.5 488.0h0M244.3 398.2h0M237.0 499.4h0M243.4 402.9h0M269.7 486.2h0M204.9 424.4h0M274.6 442.2h0M203.7 493.7h0M199.9 445.9h0M272.3 428.7h0M163.5 451.3h0M211.7 498.7h0M201.5 419.8h0M198.0 434.1h0M203.7 420.4h0M272.9 413.0h0M207.1 391.6h0M189.5 485.8h0M230.2 374.9h0M201.5 492.4h0M218.7 407.3h0M287.9 439.9h0M303.8 472.8h0M174.6 484.8h0M254.5 420.2h0M384.0 477.0h0M279.0 439.8h0M267.1 438.3h0M240.2 496.2h0M193.0 442.7h0M212.3 487.0h0M278.5 407.6h0M226.9 481.6h0M212.6 400.8h0M203.9 493.0h0M260.5 472.6h0M237.3 379.8h0M286.0 424.8h0M250.7 384.7h0M260.0 422.5h0M171.7 476.8h0M265.9 473.3h0M257.7 482.5h0M285.5 416.1h0M272.0 416.9h0M283.3 455.2h0M195.2 453.9h0M301.0 437.6h0M217.2 390.3h0M215.5 407.3h0M239.0 480.8h0M176.1 459.3h0M256.6 477.9h0M269.2 489.8h0M166.1 464.5h0M266.4 417.6h0M191.8 474.8h0M253.1 368.5h0M174.5 448.8h0M330.3 404.8h0M281.3 447.2h0M240.9 401.7h0M270.8 454.8h0M191.0 414.7h0M194.9 397.9h0M179.8 485.5h0M242.2 480.7h0M231.6 393.7h0M198.6 412.3h0M196.3 437.8h0M193.6 455.2h0M253.3 385.2h0M295.2 472.1h0M258.5 412.8h0M321.3 435.7h0M239.1 383.1h0M206.5 412.1h0M265.9 421.2h0M289.5 436.7h0M270.8 386.7h0M263.3 386.6h0M284.0 435.8h0M230.5 499.0h0M265.8 428.1h0M268.2 480.0h0M236.3 484.3h0M268.9 403.2h0M201.2 411.7h0M242.6 484.2h0M212.9 485.5h0M234.3 402.9h0M227.1 378.2h0M187.6 471.7h0M232.2 392.2h0M293.1 452.7h0M213.4 494.8h0M198.3 474.6h0M341.1 432.6h0M193.7 413.2h0M262.4 384.1h0M219.2 478.9h0M229.9 371.5h0M267.2 470.3h0M167.8 439.7h0M289.0 416.6h0M280.5 489.4h0M192.6 418.6h0M278.6 478.0h0M248.0 493.6h0M260.0 430.4h0M253.3 415.5h0M264.7 472.3h0M230.6 404.2h0M223.3 478.8h0M245.8 405.8h0M215.6 477.0h0M186.9 443.1h0M262.2 496.1h0M311.2 414.3h0M256.5 425.6h0M364.1 460.6h0M201.3 420.5h0M303.4 461.5h0M290.6 478.3h0M203.6 491.3h0M172.2 469.0h0M257.7 476.5h0M230.7 382.7h0M274.8 449.8h0M288.7 486.1h0M278.4 500.2h0M297.7 417.3h0M264.4 376.8h0M252.2 379.5h0M263.3 428.0h0M186.7 492.6h0M297.8 463.6h0M231.0 481.4h0M275.5 468.2h0M207.5 475.8h0M291.8 483.8h0M177.0 451.5h0M252.2 489.6h0M186.4 460.9h0M192.8 446.4h0M312.6 461.0h0M266.2 433.5h0M234.4 400.5h0M274.5 417.3h0M275.7 438.1h0M224.9 394.0h0M230.4 379.4h0M200.4 420.1h0M252.1 406.6h0M178.6 458.3h0M187.6 462.3h0M230.1 378.0h0M236.9 377.1h0M196.2 465.2h0M299.8 437.0h0M255.6 479.4h0M203.3 371.3h0M190.5 470.7h0M191.7 381.3h0M293.0 489.5h0M273.5 441.2h0M286.1 470.2h0M209.2 381.3h0M263.3 425.1h0M170.3 472.6h0M257.5 474.4h0M204.6 410.9h0M249.3 397.3h0M295.0 445.6h0M245.2 377.4h0M207.5 408.3h0M251.5 413.7h0M289.1 421.6h0M240.7 389.3h0M172.4 480.0h0M195.4 406.8h0M255.4 411.7h0M161.8 469.5h0M193.7 442.4h0M196.4 467.7h0M283.8 467.0h0M251.4 380.5h0M179.9 452.5h0M243.9 494.0h0M188.6 479.8h0M259.2 474.0h0M261.1 428.3h0M224.2 479.1h0M204.3 477.3h0M195.4 475.4h0M208.7 420.0h0M216.4 408.9h0M270.8 444.4h0M206.9 430.3h0M226.3 483.9h0M298.7 469.6h0M201.8 472.8h0M229.5 362.9h0M184.1 426.4h0M180.2 475.4h0M337.7 420.3h0M212.6 390.0h0M237.1 501.0h0M184.8 453.1h0M189.4 429.4h0M212.3 476.6h0M269.6 486.3h0M255.5 412.9h0M260.5 412.8h0M282.1 415.3h0M281.3 445.5h0M223.8 476.8h0M200.9 427.5h0M274.8 489.2h0M251.7 491.6h0M190.5 424.7h0M213.0 386.2h0M197.6 497.6h0M165.0 450.7h0M239.0 382.3h0M202.0 474.2h0M261.3 376.3h0M215.4 392.6h0M251.1 483.5h0M262.6 421.6h0M209.6 490.8h0M211.3 401.6h0M207.6 485.1h0M264.3 488.7h0M218.2 484.6h0M310.2 422.7h0M285.8 463.0h0M216.1 414.3h0M258.9 399.9h0M184.6 391.9h0M399.4 473.3h0M266.8 396.5h0M237.9 479.9h0M220.1 400.3h0M213.9 407.8h0M265.5 473.4h0M188.3 440.5h0M333.3 475.8h0M212.2 487.4h0M227.2 479.4h0M249.6 390.0h0M242.4 480.4h0M223.0 371.3h0M278.2 461.6h0M267.6 439.5h0M295.3 491.3h0M210.3 503.0h0M167.6 442.2h0M293.1 433.4h0M191.1 456.2h0M261.7 474.7h0M202.5 504.2h0M269.8 405.6h0M208.1 479.6h0M329.5 425.6h0M203.3 436.1h0M266.5 416.2h0M268.7 424.3h0M266.0 392.5h0M273.3 396.7h0M205.1 425.3h0M188.1 469.9h0M178.3 441.9h0M243.5 396.6h0M367.0 483.9h0M271.0 448.2h0M277.5 454.0h0M235.9 395.5h0M266.0 412.2h0M271.1 416.9h0M224.8 399.3h0M301.6 495.5h0M252.8 406.9h0M279.8 461.5h0M298.1 448.2h0M298.2 474.8h0M203.5 426.8h0M247.3 492.3h0M268.5 400.0h0M208.2 406.3h0M256.8 387.8h0M314.0 442.2h0M213.3 418.3h0M238.6 386.1h0M316.6 465.8h0M379.5 434.0h0M279.3 448.5h0M273.6 489.5h0M184.9 438.7h0M178.7 479.0h0M255.3 390.9h0M288.5 476.7h0M196.6 436.0h0M260.8 493.8h0M269.2 448.0h0M168.9 484.6h0M236.0 488.2h0M275.0 519.6h0M169.4 468.9h0M205.3 383.4h0M269.1 443.0h0M291.2 462.2h0M193.3 465.2h0M268.7 398.8h0M265.3 471.9h0M198.9 382.5h0M297.0 440.6h0M336.3 466.2h0M211.2 483.9h0M183.0 437.0h0M229.1 394.8h0M218.8 400.0h0M215.7 404.4h0M255.5 399.8h0M182.0 443.0h0M188.9 439.4h0M217.2 395.3h0M208.8 415.2h0M275.3 467.3h0M245.4 480.5h0M225.9 386.9h0M328.7 462.1h0M267.9 406.7h0M194.9 504.4h0M255.9 396.3h0M256.6 490.8h0M266.3 405.3h0M251.6 482.5h0M213.3 401.7h0M292.6 438.0h0M236.1 391.6h0M255.5 424.1h0M184.2 473.1h0M217.0 476.7h0M196.5 451.0h0M216.0 479.4h0M242.2 478.7h0M190.5 451.6h0M168.6 443.5h0M202.7 489.1h0M285.1 454.3h0M183.3 489.8h0M281.9 465.3h0M207.2 422.6h0M186.2 389.7h0M269.4 430.4h0M272.8 449.7h0M193.3 441.0h0M253.9 484.2h0M273.3 448.5h0M244.8 402.5h0M241.6 397.1h0M194.3 429.1h0M199.4 474.5h0M208.7 425.3h0M177.7 462.1h0M205.2 396.5h0M268.6 437.6h0M202.1 476.5h0M213.2 479.9h0M246.8 491.2h0M203.5 471.0h0M270.5 446.2h0M189.5 432.4h0M282.1 504.4h0M234.8 401.5h0M268.2 463.6h0M281.1 461.8h0M210.8 408.4h0M279.3 439.0h0M254.7 493.6h0M275.5 416.8h0M248.2 487.3h0M285.1 494.9h0M197.3 478.8h0M235.2 481.0h0M184.7 475.2h0M199.0 475.4h0M211.5 484.5h0M291.5 478.9h0M214.8 495.9h0M179.4 455.3h0M276.0 437.7h0M210.0 476.0h0M253.5 415.2h0M230.7 479.0h0M220.2 479.6h0M184.0 466.1h0M257.5 415.2h0M203.1 405.4h0M198.3 418.2h0M248.8 405.2h0M203.1 427.3h0M268.6 471.4h0M202.4 437.2h0M215.3 392.8h0M172.3 411.7h0M328.5 450.0h0M295.7 422.7h0M259.1 417.7h0M271.6 448.8h0M258.0 405.9h0M189.8 476.9h0M201.6 471.8h0M200.1 422.0h0M322.5 483.4h0M308.0 485.3h0M192.3 414.0h0M235.4 376.0h0M263.7 439.8h0M273.3 430.9h0M297.1 449.3h0M219.0 498.6h0M226.3 387.2h0M200.6 431.5h0M226.1 397.4h0M244.4 367.0h0M296.6 457.0h0M281.7 433.2h0M277.0 465.1h0M266.4 419.8h0M297.3 450.6h0M332.1 476.8h0M225.1 403.5h0M264.5 428.9h0M267.7 465.4h0M242.2 494.3h0M181.1 450.6h0M194.2 444.0h0M212.3 405.7h0M291.8 417.6h0M362.9 427.4h0M233.7 402.1h0M201.5 401.0h0M178.2 421.4h0M297.7 455.2h0M265.5 436.4h0M282.3 473.9h0M254.3 401.6h0M215.6 406.4h0M197.2 446.1h0M259.2 391.1h0M244.8 484.8h0M275.6 436.1h0M295.8 461.0h0M216.6 481.3h0M232.2 395.1h0M225.1 488.0h0M274.8 495.9h0M214.0 396.1h0M243.9 377.9h0M307.8 457.7h0M276.6 487.9h0M276.1 462.5h0M193.5 401.9h0M240.5 479.8h0M264.6 481.5h0M268.3 430.8h0M258.3 474.1h0M261.5 477.7h0M168.4 467.0h0M192.9 438.4h0M261.6 419.6h0M252.8 480.7h0M219.5 410.7h0M188.7 446.8h0M190.1 476.2h0M201.3 442.3h0M283.1 366.2h0M273.0 455.3h0M192.5 473.1h0M268.3 438.9h0M227.1 487.8h0M302.4 445.6h0M290.4 394.5h0M269.8 480.4h0M256.1 476.7h0M186.7 469.3h0M193.0 462.0h0M199.7 446.4h0M165.6 477.7h0M293.2 461.3h0M193.3 398.0h0M273.2 468.3h0M237.0 479.6h0M197.2 412.9h0M256.6 423.1h0M288.6 383.4h0M272.9 446.3h0M265.4 442.6h0M178.8 430.6h0M221.3 396.8h0M202.6 392.6h0M220.5 408.6h0M202.8 477.0h0M290.4 478.3h0M272.0 493.0h0M237.1 490.9h0M179.5 396.7h0M205.4 396.2h0M179.2 460.2h0M281.2 430.0h0M262.0 426.0h0M216.4 475.8h0M187.6 390.4h0M248.7 378.9h0M174.5 387.3h0M203.2 410.3h0M287.0 435.0h0M222.5 406.5h0M234.9 493.1h0M278.8 463.7h0M184.5 469.5h0M246.5 388.5h0M231.5 400.5h0M207.4 477.2h0M190.5 478.9h0M264.3 490.8h0M187.9 433.4h0M296.6 437.2h0M277.2 376.5h0M282.5 438.0h0M273.0 376.8h0M272.4 421.8h0M300.4 450.7h0M204.1 420.2h0M278.9 417.8h0M238.6 400.6h0M230.7 401.7h0M218.9 403.9h0M220.5 485.0h0M262.3 474.9h0M176.7 439.1h0M257.9 410.7h0M207.8 415.9h0M178.2 474.3h0M266.6 407.4h0M207.2 403.1h0M180.9 463.0h0M207.0 391.5h0M220.1 481.8h0M273.2 466.5h0M314.9 452.8h0M247.0 370.8h0M274.4 447.3h0M267.5 444.4h0M244.8 389.8h0M203.8 374.1h0M234.5 485.0h0M283.9 468.4h0M229.2 403.2h0M204.1 433.9h0M207.1 472.8h0M278.5 370.0h0M275.1 372.5h0M262.6 434.2h0M269.8 508.3h0M244.9 402.1h0M268.4 436.4h0M210.8 494.6h0M233.6 398.3h0M264.9 429.3h0M204.4 473.8h0M213.4 419.7h0M231.9 489.5h0M254.4 381.7h0M258.8 477.1h0M274.3 370.1h0M269.2 450.2h0M219.6 394.2h0M217.6 396.8h0M269.1 447.6h0M296.3 459.1h0M264.7 421.5h0M252.8 407.7h0M265.0 472.9h0M207.0 472.3h0M286.4 457.1h0M195.2 417.2h0M305.9 447.6h0M283.2 448.6h0M159.3 394.4h0M259.5 415.8h0M206.6 384.9h0M263.8 384.5h0M204.1 404.2h0M296.4 458.2h0M268.2 472.1h0M217.4 396.8h0M192.4 458.1h0M224.0 385.2h0M311.3 455.0h0M299.4 465.5h0M178.7 444.7h0M258.0 402.0h0M260.4 397.7h0M279.3 486.7h0M274.3 465.6h0M231.5 477.3h0M219.4 491.9h0M180.5 464.8h0M229.0 493.2h0M252.3 404.8h0M256.9 475.9h0M193.2 405.3h0M229.0 491.0h0M308.5 423.4h0M287.7 435.5h0M205.4 421.4h0M190.4 437.1h0M179.6 466.1h0M175.1 469.3h0M301.6 402.4h0M200.0 417.4h0M295.9 395.6h0M186.5 450.1h0M201.6 430.3h0M211.3 475.2h0M195.6 425.4h0M165.6 481.4h0M164.7 477.1h0M244.5 394.2h0M258.9 403.8h0M294.4 440.5h0M251.5 366.9h0M202.3 403.6h0M195.6 418.8h0M245.2 391.5h0M219.8 476.1h0M251.1 388.5h0M242.3 486.2h0M285.8 450.5h0M275.8 467.3h0M178.0 452.1h0M267.7 440.8h0M290.9 450.1h0M306.7 432.3h0M242.1 375.7h0M252.2 486.7h0M221.4 500.1h0M250.0 492.0h0M282.2 460.3h0M202.1 425.2h0M188.5 482.2h0M217.6 409.1h0M280.4 368.5h0M226.8 394.6h0M269.9 425.3h0M293.8 462.9h0M240.0 491.1h0M221.9 487.0h0M283.4 384.3h0M207.0 406.3h0M248.4 390.9h0M321.0 487.9h0M277.2 443.9h0M252.8 368.6h0M282.3 404.0h0M262.0 472.0h0M277.2 474.0h0M186.5 453.3h0M299.4 459.8h0M270.4 442.7h0M199.7 430.1h0M350.1 454.5h0M199.6 392.0h0M242.1 484.1h0M220.4 409.6h0M259.5 433.4h0M268.5 438.1h0M220.7 410.6h0M253.6 482.7h0M255.1 386.6h0M179.1 469.4h0M192.5 460.5h0M198.5 421.6h0M192.5 439.9h0M239.2 394.7h0M282.1 491.2h0M267.6 461.2h0M280.0 468.2h0M215.0 505.4h0M266.1 498.4h0M157.1 476.6h0M255.0 403.1h0M229.7 495.2h0M277.7 391.3h0M254.5 420.1h0M215.2 396.4h0M283.4 461.8h0M307.7 455.1h0M290.4 422.4h0M177.6 476.7h0M211.6 489.5h0M209.8 400.4h0M348.1 458.0h0M286.4 500.8h0M253.2 497.5h0M185.2 442.6h0M272.0 481.0h0M171.0 463.8h0M228.5 478.4h0M255.8 491.5h0M194.5 433.4h0M324.6 450.6h0M271.3 422.3h0M165.6 497.8h0M242.7 400.8h0M178.0 465.0h0M190.4 398.0h0M267.3 462.6h0M271.2 431.8h0M269.6 437.3h0M203.5 485.1h0M163.5 463.9h0M188.8 467.3h0M211.6 490.8h0M301.3 410.9h0M242.8 385.3h0M245.3 504.9h0M263.0 478.0h0M269.6 450.1h0M215.8 415.3h0M273.2 411.8h0M273.8 459.0h0M266.8 415.8h0M280.0 452.8h0M269.6 485.7h0M268.2 397.1h0M229.7 383.5h0M209.5 474.5h0M204.9 418.3h0M348.5 480.2h0M223.5 406.5h0M210.1 477.5h0M215.0 505.5h0M245.8 392.6h0M287.7 454.8h0M258.6 387.0h0M286.3 451.4h0M260.8 397.7h0M189.1 450.9h0M188.9 418.2h0M193.7 452.5h0M264.9 485.8h0M292.9 428.2h0M186.0 414.8h0M201.3 410.5h0M208.5 400.9h0M175.5 420.2h0M249.2 492.1h0M234.2 490.8h0M227.6 382.8h0M263.8 477.2h0M166.1 458.8h0M182.0 475.5h0M261.8 482.1h0M334.3 458.3h0M225.9 391.2h0M175.3 472.3h0M234.3 375.6h0M236.9 486.3h0M217.4 500.0h0M273.5 435.7h0M181.9 398.2h0M165.2 432.9h0M286.9 472.6h0M282.6 449.0h0M251.8 389.7h0M201.8 478.7h0M184.0 463.1h0M228.3 388.3h0M216.9 493.0h0M322.7 458.6h0M260.9 410.7h0M206.7 387.5h0M231.3 481.5h0M195.6 471.9h0M176.2 457.2h0M176.2 465.7h0M192.9 442.5h0M214.7 403.9h0M259.6 433.2h0M200.4 391.3h0M264.5 408.4h0M215.2 475.1h0M194.8 400.7h0M232.4 391.1h0M291.7 434.1h0M232.6 395.1h0M266.8 422.5h0M169.2 461.0h0M254.4 404.8h0M251.8 413.5h0M323.7 405.9h0M226.8 403.3h0M266.7 467.5h0M213.9 407.6h0M248.1 408.5h0M221.0 478.3h0M295.9 456.3h0M287.1 428.0h0M288.7 447.1h0M272.4 408.0h0M257.7 417.6h0M278.2 450.8h0M239.4 397.4h0M196.2 464.7h0M272.7 442.4h0M214.2 396.8h0M317.2 443.0h0M259.7 481.7h0M228.1 365.0h0M261.7 472.5h0M255.4 412.0h0M295.8 457.5h0M284.0 403.9h0M206.3 474.9h0M334.8 471.1h0M205.2 369.9h0M284.6 487.8h0M214.3 482.3h0M248.1 401.6h0M291.2 464.4h0M271.5 426.6h0M268.1 404.9h0M286.1 434.4h0M194.7 456.8h0M268.6 381.4h0M236.5 487.1h0M289.3 458.9h0M283.1 470.3h0M271.5 456.4h0M230.8 400.9h0M315.3 451.6h0M189.7 374.4h0M185.8 471.3h0M168.7 461.6h0M177.3 457.4h0M184.7 432.3h0M275.9 469.6h0M264.1 476.7h0M206.7 483.8h0M265.3 407.1h0M254.0 411.9h0M219.1 492.1h0M248.9 478.5h0M251.3 481.0h0M245.3 482.0h0M279.2 408.7h0M254.8 482.6h0M237.1 399.5h0M176.0 436.7h0M364.7 485.8h0M261.6 468.9h0M216.3 495.1h0M319.3 473.7h0M304.1 476.9h0M200.0 472.3h0M251.9 406.0h0M245.7 390.8h0M277.1 487.5h0M234.4 392.1h0M178.6 478.8h0M292.2 483.9h0M239.6 484.5h0M219.3 392.8h0M253.5 407.8h0M231.8 381.6h0M205.8 396.9h0M227.5 404.1h0M275.0 420.5h0M201.5 410.8h0M239.1 479.4h0M263.4 482.1h0M201.2 372.8h0M294.4 447.6h0M192.6 462.8h0M186.6 469.4h0M168.1 472.7h0M276.7 455.6h0M271.8 453.6h0M170.6 480.6h0M237.9 400.6h0M280.1 456.4h0M271.0 425.4h0M197.7 487.2h0M261.0 388.2h0M177.9 483.4h0M182.8 483.0h0M234.0 379.8h0M169.6 472.3h0M215.4 413.0h0M197.0 394.1h0M273.2 401.1h0M222.7 501.4h0M252.7 399.5h0M186.2 439.9h0M226.0 399.0h0M228.2 394.9h0M184.6 443.3h0M255.7 479.9h0M185.7 412.4h0M260.5 370.8h0M233.1 497.9h0M234.2 491.4h0M156.9 413.6h0M183.4 412.2h0M172.4 419.6h0M269.5 449.1h0M178.3 462.8h0M195.1 406.6h0M261.7 419.7h0M253.4 415.3h0M239.4 483.4h0M240.9 379.5h0M245.7 377.2h0M370.4 434.3h0M277.7 425.1h0M196.5 417.4h0M315.4 494.9h0M190.0 487.9h0M192.4 449.8h0M273.3 403.6h0M293.7 415.6h0M277.0 447.3h0M215.5 480.2h0M197.4 430.1h0M175.7 425.5h0M259.1 388.6h0M193.7 457.2h0M316.4 471.8h0M263.6 409.4h0M159.4 421.7h0M265.2 437.2h0M260.3 395.5h0M201.3 480.4h0M248.4 479.3h0M273.7 408.7h0M240.9 484.7h0M296.8 447.6h0M250.5 402.8h0M275.2 436.8h0M187.8 452.1h0M246.4 477.1h0M192.1 454.7h0M221.9 394.1h0M252.5 397.1h0M191.4 478.8h0M207.7 485.9h0M208.1 480.8h0M277.0 487.3h0M256.0 405.1h0M189.9 421.4h0M209.7 481.1h0M337.6 447.6h0M196.1 475.4h0M275.6 454.2h0M265.3 490.2h0M194.8 447.9h0M254.3 481.3h0M205.6 366.9h0M284.8 492.9h0M269.3 453.2h0M196.2 452.6h0M222.8 369.2h0M307.0 456.6h0M192.7 505.9h0M290.9 458.4h0M211.8 406.4h0M208.5 407.1h0M223.3 394.4h0M252.9 401.3h0M249.8 476.3h0M262.1 391.6h0M252.8 372.2h0M275.7 485.3h0M189.2 454.7h0M268.6 503.5h0M250.6 406.2h0M271.5 472.7h0M247.0 479.1h0M181.7 422.4h0M189.6 430.5h0M255.2 417.6h0M266.3 430.1h0M264.7 465.0h0M192.8 486.2h0M267.4 428.7h0M259.0 425.0h0M294.8 445.8h0M205.0 411.2h0M178.6 458.6h0M245.5 388.3h0M266.5 410.2h0M277.8 454.2h0M271.2 457.9h0M180.8 437.1h0M227.0 390.6h0M271.5 452.7h0M227.6 378.1h0M251.5 393.4h0M268.4 411.0h0M273.8 474.2h0M249.1 377.0h0M167.3 484.1h0M173.0 461.9h0M167.0 427.7h0M210.4 414.1h0M345.4 468.4h0M228.8 489.1h0M223.2 488.3h0M238.9 483.5h0M256.7 411.4h0M297.9 501.1h0M268.7 444.3h0M244.7 387.5h0M211.4 479.3h0M246.7 487.7h0M228.1 495.2h0M257.4 415.8h0M261.6 426.0h0M257.6 486.3h0M271.0 471.3h0M259.7 471.7h0M171.5 395.2h0M165.9 459.0h0M288.0 425.3h0M223.1 408.1h0M258.1 391.4h0M302.0 447.2h0M188.4 428.0h0M262.5 386.8h0M217.0 499.0h0M281.7 452.4h0M273.1 427.3h0M278.1 478.3h0M203.7 492.4h0M306.2 439.4h0M269.3 456.9h0M276.6 448.0h0M218.0 486.9h0M243.6 369.7h0M258.6 384.2h0M208.9 398.4h0M265.9 385.0h0M252.8 396.3h0M286.1 447.7h0M271.1 447.7h0M279.5 485.8h0M255.4 392.9h0M318.2 457.8h0M288.1 485.1h0M339.7 458.1h0M276.3 445.0h0M242.5 391.3h0M274.8 424.4h0M236.9 389.2h0M282.1 425.0h0M273.5 416.2h0M203.5 474.8h0M189.4 469.3h0M186.7 398.1h0M216.7 391.4h0M205.1 476.9h0M193.9 480.6h0M282.1 461.8h0M215.3 403.8h0M203.5 417.4h0M260.1 425.3h0M263.3 405.0h0M173.9 452.8h0M344.3 462.7h0M277.8 477.7h0M235.8 389.3h0M342.0 454.9h0M174.1 416.1h0M265.6 493.7h0M275.3 406.9h0M276.9 457.2h0M201.7 475.1h0M193.0 431.3h0M204.6 397.6h0M204.7 411.6h0M270.4 394.5h0M197.7 406.8h0M230.9 478.5h0M284.7 371.4h0M213.7 405.8h0M190.0 474.7h0M246.6 485.4h0M191.4 446.0h0M276.7 462.5h0M257.5 379.4h0M265.0 416.9h0M202.8 404.7h0M227.7 396.0h0M270.8 400.0h0M194.4 452.2h0M293.0 465.9h0M218.9 483.3h0M237.8 376.8h0M333.7 493.7h0M197.3 449.1h0M206.1 486.1h0M164.8 455.8h0M193.5 465.1h0M261.0 386.8h0M192.9 431.9h0M262.5 395.5h0M178.2 462.5h0M262.7 402.0h0M255.8 416.7h0M259.7 411.3h0M226.9 479.3h0M214.6 417.4h0M275.8 419.7h0M319.3 440.2h0M272.7 417.2h0M228.1 359.9h0M216.4 376.1h0M183.6 471.9h0M257.7 366.3h0M259.7 470.6h0M166.2 432.0h0M183.0 428.6h0M220.4 480.9h0M205.5 414.4h0M284.6 493.4h0M277.4 430.9h0M250.5 485.1h0M213.4 398.2h0M151.3 480.4h0M257.9 490.7h0M264.9 438.8h0M177.9 405.6h0M232.6 479.3h0M194.2 469.2h0M210.1 389.8h0M166.3 392.4h0M199.7 437.7h0M189.2 419.1h0M194.4 447.0h0M206.2 430.8h0M250.5 478.7h0M310.2 442.2h0M204.9 494.2h0M212.9 487.8h0M251.0 407.8h0M210.9 487.1h0M222.7 402.1h0M216.9 486.6h0M198.0 430.7h0M198.1 469.8h0M166.6 474.0h0M208.1 422.0h0M174.7 422.0h0M199.2 406.0h0M202.2 470.6h0M198.8 448.0h0M213.1 483.3h0M260.2 477.8h0M267.7 424.8h0M195.8 441.4h0M274.2 443.5h0M202.8 410.7h0M285.0 446.0h0M197.0 475.6h0M233.0 506.5h0M200.8 484.5h0M228.8 399.5h0M191.8 484.4h0M183.4 445.6h0M262.0 439.1h0M195.3 388.2h0M218.7 375.8h0M191.0 495.3h0M169.8 483.5h0M260.2 402.1h0M257.6 412.9h0M225.4 393.7h0M289.6 470.5h0M294.6 482.0h0M188.3 382.4h0M252.8 366.7h0M238.1 484.5h0M364.1 481.9h0M194.3 462.9h0M249.5 399.0h0M260.9 387.5h0M275.3 398.3h0M262.7 386.1h0M232.7 379.9h0M269.9 437.2h0M224.1 400.5h0M162.9 423.4h0M276.3 395.6h0M202.6 501.7h0M206.0 407.3h0M242.9 493.8h0M273.1 433.7h0M251.9 389.0h0M195.1 450.8h0M225.8 487.8h0M243.2 367.9h0M303.7 484.1h0M250.9 391.4h0M293.7 440.9h0M241.7 374.9h0M206.5 398.3h0M195.7 402.7h0M171.7 475.3h0M198.0 489.0h0M264.0 489.5h0M178.5 434.0h0M190.7 471.6h0M233.7 497.9h0M276.5 446.1h0M246.3 477.9h0M262.5 420.5h0M299.1 388.8h0M193.9 467.3h0M187.5 437.8h0M251.9 483.1h0M285.9 452.0h0M309.6 478.2h0M269.2 487.0h0M209.9 479.6h0M280.0 456.6h0M219.9 395.3h0M267.9 394.7h0M293.8 470.5h0M239.4 389.8h0M239.3 394.5h0M264.6 372.0h0M275.4 461.8h0M174.5 488.8h0M258.1 413.5h0M181.5 445.9h0M179.5 435.7h0M211.4 421.1h0M272.1 421.3h0M232.4 383.4h0M294.9 453.8h0M272.7 443.1h0M307.0 476.7h0M207.2 397.9h0M198.4 472.1h0M182.9 399.7h0M216.8 505.4h0M269.9 441.8h0M223.7 477.3h0M200.6 405.9h0M275.6 504.5h0M205.6 432.5h0M194.4 404.8h0M279.4 499.2h0M275.0 486.0h0M276.8 428.6h0M268.2 429.5h0M194.7 451.9h0M269.2 460.2h0M291.9 476.5h0M204.1 420.1h0M169.2 458.1h0M211.3 411.4h0M241.2 401.2h0M223.7 477.6h0M199.4 445.0h0M342.4 472.1h0M281.5 405.9h0M266.0 380.4h0M221.1 478.9h0M209.9 473.2h0M217.3 407.7h0M248.6 397.5h0M273.1 437.1h0M289.1 471.7h0M293.7 452.4h0M187.5 410.2h0M265.3 479.9h0M236.2 485.4h0M215.0 398.8h0M251.4 405.7h0M181.6 455.4h0M204.3 417.7h0M229.1 495.0h0M246.5 376.7h0M223.8 483.1h0M299.9 439.4h0M286.6 478.9h0M281.7 465.6h0M202.0 469.3h0M191.3 416.4h0M245.2 482.2h0M199.5 418.7h0M247.9 483.1h0M196.7 423.9h0M189.9 418.3h0M213.0 398.2h0M288.5 462.8h0M279.3 483.9h0M295.4 443.6h0M195.0 446.4h0M203.5 391.1h0M205.3 417.5h0M195.6 403.4h0M304.4 477.5h0M216.6 493.1h0M223.1 393.3h0M259.6 418.2h0M283.0 474.4h0M197.8 483.8h0M350.0 442.1h0M235.5 402.7h0M193.2 428.2h0M264.8 395.6h0M215.8 407.2h0M199.4 426.2h0M163.6 496.0h0M292.4 483.8h0M219.0 390.1h0M285.1 443.0h0M275.2 405.7h0M200.6 488.8h0M185.7 419.8h0M206.1 397.6h0M260.5 423.9h0M193.8 479.2h0M294.4 464.5h0M290.6 478.0h0M286.5 487.9h0M258.6 491.5h0M273.1 450.8h0M198.8 476.2h0M242.4 383.3h0M191.6 479.1h0M253.3 493.5h0M270.3 453.8h0M213.2 409.4h0M276.4 496.9h0M195.7 442.9h0M276.9 463.6h0M284.9 425.5h0M157.4 465.9h0M214.5 483.7h0M267.9 416.7h0M277.6 450.7h0M260.5 402.7h0M223.5 485.9h0M230.2 477.6h0M299.8 446.2h0M267.1 442.0h0M211.6 389.7h0M186.7 432.9h0M199.9 422.1h0M288.7 398.8h0M193.5 488.4h0M302.6 452.8h0M255.1 415.9h0M264.0 476.9h0M326.8 412.8h0M211.2 421.5h0M211.7 377.5h0M193.8 459.6h0M197.5 415.1h0M172.0 463.7h0M203.9 408.9h0M192.3 445.4h0M285.8 409.7h0M258.8 381.3h0M213.7 414.4h0M272.1 450.9h0M260.7 476.6h0M227.5 386.7h0M272.6 461.2h0M293.8 466.6h0M193.0 440.0h0M292.7 458.7h0M227.3 505.9h0M194.0 490.1h0M193.0 387.5h0M258.0 506.6h0M250.4 386.1h0M237.4 487.4h0M283.5 454.1h0M178.9 459.2h0M180.6 474.5h0M179.2 434.9h0M258.9 476.8h0M248.4 394.8h0M260.1 411.3h0M245.6 488.4h0M252.8 483.2h0M272.8 404.4h0M233.1 403.6h0M265.2 411.8h0M274.1 475.3h0M269.6 436.8h0M288.3 466.2h0M277.5 430.0h0M255.6 479.2h0M241.4 387.2h0M257.5 494.2h0M287.9 443.7h0M277.8 422.5h0M186.6 466.9h0M253.9 371.2h0M254.1 410.9h0M171.3 427.0h0M279.8 450.5h0M173.7 468.1h0M167.0 476.7h0M244.5 381.4h0M285.0 424.4h0M248.2 404.8h0M294.9 433.0h0M318.4 452.3h0M188.0 447.2h0M267.5 373.4h0M149.8 481.8h0M261.1 422.5h0M269.1 431.8h0M193.8 388.0h0M166.5 502.5h0M179.0 432.0h0M293.1 444.7h0M261.9 415.9h0M248.0 481.0h0M299.4 468.1h0M188.8 381.9h0M235.9 494.8h0M185.2 451.4h0M182.4 414.8h0M281.4 393.0h0M219.3 407.6h0M229.8 390.2h0M189.7 394.2h0M284.2 461.3h0M227.2 493.8h0M249.4 387.4h0M265.4 493.8h0M253.9 419.2h0M198.8 477.3h0M203.0 421.8h0M285.6 486.6h0M195.8 439.8h0M292.2 482.0h0M268.3 478.8h0M277.6 448.2h0M244.6 482.6h0M235.0 382.7h0M301.3 460.5h0M296.1 434.8h0M305.9 425.4h0M153.9 496.2h0M165.2 426.4h0M275.3 444.0h0M201.9 491.3h0M262.1 437.5h0M200.1 490.3h0M185.4 477.5h0M255.3 503.0h0M259.0 494.3h0M288.3 442.6h0M198.7 473.7h0M214.1 408.6h0M172.5 414.9h0M282.9 468.8h0M314.7 437.6h0M234.8 484.2h0M204.8 479.9h0M185.1 429.4h0M268.5 482.9h0M208.2 476.9h0M209.8 490.9h0M264.9 500.1h0M204.2 413.1h0M293.7 455.4h0M201.6 384.6h0M268.3 365.9h0M219.1 486.8h0M268.7 500.8h0M179.4 406.2h0M212.9 484.3h0M212.7 494.1h0M278.8 468.1h0M188.1 479.9h0M213.7 416.6h0M181.5 438.8h0M206.6 406.6h0M199.0 481.4h0M282.7 475.4h0M276.1 475.6h0M260.0 431.6h0M204.2 400.9h0M269.2 443.9h0M229.5 387.1h0M331.5 482.0h0M222.4 396.7h0M219.1 478.6h0M268.3 480.6h0M170.1 425.9h0M195.1 409.3h0M282.3 445.8h0M296.7 447.8h0M321.9 427.3h0M190.8 458.4h0M268.0 442.9h0M211.7 483.9h0M286.4 437.9h0M170.3 463.0h0M226.7 385.3h0M196.3 448.3h0M278.5 459.7h0M220.8 388.8h0M192.9 451.9h0M256.0 388.1h0M189.0 501.9h0M277.6 464.9h0M249.9 488.5h0M246.9 492.2h0M277.7 431.8h0M143.7 479.7h0M236.6 493.0h0M326.9 456.5h0M329.6 450.0h0M214.0 480.0h0M190.7 392.1h0M286.7 440.9h0M205.0 433.5h0M239.5 491.5h0M196.4 422.9h0M238.7 393.9h0M250.6 382.6h0M186.0 419.7h0M200.9 431.3h0M268.0 475.0h0M219.8 394.6h0M222.5 383.9h0M256.2 398.3h0M199.3 484.2h0M192.3 427.4h0M255.3 399.0h0M209.5 473.7h0M278.3 379.1h0M205.7 480.3h0M187.9 478.7h0M193.8 405.6h0M197.9 405.1h0M234.1 400.8h0M200.8 492.2h0M236.3 374.9h0M261.6 404.8h0M242.0 400.0h0M178.5 436.9h0M197.1 445.4h0M258.3 413.0h0M232.3 483.8h0M254.0 505.0h0M191.0 469.2h0M198.6 447.2h0M178.0 423.3h0M275.1 491.0h0M305.5 443.3h0M259.8 501.7h0M264.2 436.1h0M290.4 434.6h0M239.0 488.8h0M307.2 424.4h0M252.7 397.8h0M188.1 436.1h0M230.2 392.9h0M281.3 436.5h0M168.2 425.2h0M211.8 494.9h0M187.0 433.3h0M199.3 475.4h0M270.0 409.8h0M235.9 381.8h0M246.6 388.8h0M271.4 446.3h0M199.5 486.5h0M243.8 495.6h0M202.6 436.2h0M274.0 454.6h0M230.5 484.6h0M201.1 483.5h0M256.6 422.2h0M284.4 439.5h0M211.9 403.1h0M214.0 490.2h0M262.0 403.3h0M254.8 507.3h0M258.0 388.6h0M228.3 483.9h0M253.8 418.1h0M217.0 477.2h0M229.8 388.6h0M257.2 490.6h0M268.8 423.1h0M240.8 382.1h0M236.4 517.8h0M190.5 460.1h0M216.4 393.8h0M182.9 417.4h0M265.8 424.8h0M274.8 450.8h0M194.5 446.4h0M164.8 456.1h0M207.1 508.8h0M258.5 478.5h0M260.2 422.2h0M274.3 454.1h0M211.8 484.5h0M217.6 397.6h0M219.5 488.8h0M208.4 393.5h0M184.3 476.0h0M252.2 479.4h0M185.3 460.5h0M239.5 483.0h0M193.0 428.4h0M206.9 473.1h0M311.3 456.0h0M311.8 474.7h0M262.8 429.6h0M176.6 459.4h0M219.2 402.4h0M227.1 389.1h0M278.7 462.4h0M275.1 406.4h0M196.2 467.9h0M195.9 431.4h0M195.1 415.5h0M321.5 465.2h0M283.5 451.4h0M230.0 398.0h0M305.9 475.7h0M254.6 396.3h0M285.8 452.3h0M285.6 442.3h0M202.2 425.8h0M266.8 445.5h0M285.6 478.8h0M246.5 497.9h0M171.7 469.8h0M222.9 479.3h0M295.8 445.9h0M280.9 440.0h0M182.2 464.6h0M285.4 469.0h0M255.9 402.7h0M240.5 399.8h0M281.7 394.6h0M190.9 454.5h0M182.6 469.8h0M316.5 472.2h0M270.6 443.6h0M272.1 446.2h0M277.4 466.9h0M277.1 459.4h0M198.4 436.6h0M301.4 459.0h0M217.0 411.2h0M213.9 498.9h0M218.0 404.6h0M172.6 487.2h0M241.7 479.2h0M247.0 371.3h0M255.5 477.5h0M182.4 479.4h0M237.7 381.7h0M207.1 474.4h0M283.5 442.4h0M227.2 487.7h0M291.9 460.3h0M199.7 434.1h0M239.9 393.4h0M199.1 420.6h0M219.7 479.9h0M294.8 452.7h0M263.0 478.9h0M239.7 395.1h0M226.1 400.9h0M245.8 480.1h0M297.1 459.6h0M266.9 471.9h0M280.2 436.6h0M230.1 491.3h0M190.3 379.3h0M204.0 416.2h0M214.5 498.3h0M297.3 475.7h0M186.2 459.5h0M164.5 479.3h0M194.4 441.0h0M172.1 466.8h0M308.4 414.6h0M283.7 478.7h0M248.1 482.8h0M270.0 460.7h0M286.7 455.4h0M186.0 485.4h0M306.0 451.3h0M256.8 422.2h0M252.7 477.7h0M198.8 469.6h0M351.0 426.1h0M262.8 485.3h0M230.6 489.1h0M150.3 469.6h0M297.3 468.1h0M207.2 484.6h0M236.9 374.3h0M227.4 506.9h0M188.3 456.2h0M197.0 437.5h0M187.3 456.2h0M285.2 430.9h0M257.8 411.5h0M299.0 442.7h0M270.6 471.0h0M226.3 387.2h0M224.4 505.9h0M295.1 487.4h0M267.0 492.3h0M184.5 489.1h0M216.7 413.2h0M220.5 389.1h0M234.0 402.1h0M250.1 482.3h0M228.3 480.6h0M194.4 446.8h0M182.7 486.3h0M273.8 504.1h0M235.7 384.8h0M234.6 387.0h0M288.1 457.7h0M223.0 478.6h0M262.3 483.6h0M202.1 401.5h0M275.9 424.3h0M269.0 435.1h0M220.2 387.6h0M200.8 391.1h0M293.9 475.7h0M182.0 440.2h0M297.4 476.4h0M181.2 449.0h0M195.0 433.4h0M274.1 437.4h0M251.8 402.1h0M249.9 496.4h0M160.9 471.2h0M276.0 486.3h0M275.1 446.0h0M340.2 479.4h0M170.9 487.1h0M255.5 420.3h0M267.8 492.8h0M263.2 427.5h0M269.7 398.0h0M239.3 478.9h0M209.8 482.2h0M274.9 454.6h0M182.1 464.6h0M204.5 428.2h0M210.2 403.4h0M191.9 461.5h0M207.1 427.5h0M175.4 418.8h0M200.3 417.1h0M252.2 488.5h0M300.2 441.4h0M268.0 462.0h0M285.8 455.7h0M263.2 425.4h0M275.2 464.7h0M298.8 475.5h0M203.2 484.2h0M218.2 385.7h0M188.4 460.9h0M174.8 418.6h0M250.6 404.6h0M266.8 473.4h0M254.4 476.3h0M206.6 413.4h0M276.6 490.9h0M290.6 474.1h0M255.4 386.3h0M228.2 490.7h0M247.6 393.8h0M260.0 480.1h0M199.4 434.9h0M346.6 486.5h0M192.6 428.1h0M316.1 450.7h0M314.0 476.9h0M184.0 425.7h0M254.5 396.4h0M350.2 472.8h0M195.5 434.4h0M274.2 467.7h0M172.5 468.8h0M218.3 404.2h0M304.0 436.6h0M219.7 505.7h0M175.0 472.0h0M297.1 478.8h0M253.0 397.5h0M237.3 397.5h0M263.4 429.4h0M250.6 368.1h0M225.8 387.2h0M198.5 501.6h0M225.3 387.8h0M287.1 488.8h0M201.0 479.1h0M157.2 469.6h0M282.2 427.5h0M247.4 489.2h0M213.4 409.2h0M292.0 454.8h0M189.7 484.0h0M274.6 447.1h0M199.2 435.5h0M258.5 491.7h0M257.1 390.5h0M237.3 382.7h0M219.2 491.6h0M187.8 476.9h0M301.9 453.3h0M202.9 426.7h0M194.5 425.0h0M269.4 439.8h0M217.3 480.8h0M214.2 373.8h0M294.6 395.0h0M214.3 487.6h0M248.0 396.1h0M179.4 475.6h0M280.3 438.4h0M281.2 443.8h0M185.6 438.4h0M372.8 473.7h0M304.9 394.0h0M177.1 399.9h0M216.0 481.0h0M258.2 422.7h0M191.0 482.9h0M258.3 403.6h0M257.9 495.3h0M221.5 378.1h0M233.9 392.4h0M259.4 394.2h0M193.4 476.9h0M237.9 482.2h0M273.0 381.7h0M226.9 487.8h0M224.0 495.5h0M179.9 460.2h0M294.6 392.1h0M280.2 475.6h0M250.7 476.3h0M244.5 485.4h0M184.4 492.4h0M229.4 379.4h0M231.7 487.5h0M199.2 468.7h0M266.9 494.3h0M186.6 471.2h0M271.1 457.4h0M370.1 450.9h0M225.8 485.1h0M208.6 418.3h0M271.4 492.3h0M218.6 479.8h0M261.1 488.6h0M195.7 479.4h0M283.4 477.1h0M196.8 404.5h0M180.5 459.2h0M203.3 424.6h0M180.5 449.6h0M181.3 401.3h0M278.8 436.5h0M161.2 460.9h0M233.3 386.6h0M190.8 444.6h0M269.3 472.3h0M203.7 480.1h0M279.5 438.0h0M209.1 423.1h0M331.8 451.7h0M180.8 480.3h0M324.4 441.8h0M238.2 401.1h0M270.9 441.8h0M192.9 465.5h0M214.6 393.4h0M265.2 488.0h0M294.9 453.6h0M278.7 424.9h0M180.8 464.8h0M270.8 468.1h0M235.8 485.1h0M288.8 410.4h0M269.0 479.2h0M235.7 482.8h0M207.1 424.9h0M272.6 406.9h0M158.6 470.8h0M196.3 440.8h0M228.8 498.6h0M260.6 486.5h0M252.5 476.9h0M286.5 444.8h0M261.1 398.9h0M297.8 420.5h0M338.3 478.8h0M299.6 415.7h0M296.5 425.9h0M216.2 478.8h0M192.6 461.8h0M243.6 385.6h0M181.7 428.4h0M212.9 478.3h0M238.8 486.5h0M291.4 450.2h0M308.4 403.0h0M265.8 436.7h0M191.8 392.6h0M203.9 427.7h0M276.1 429.1h0M232.6 499.9h0M270.1 438.1h0M262.8 440.0h0M202.9 423.8h0M203.2 377.0h0M288.7 452.0h0M247.7 377.7h0M191.2 486.5h0M278.0 455.9h0M301.6 438.1h0M248.6 477.5h0M183.8 464.7h0M248.4 369.0h0M250.8 413.1h0M288.4 422.0h0M211.3 417.0h0M263.0 480.3h0M236.9 496.4h0M191.1 483.2h0M181.3 416.6h0M220.2 479.1h0M230.8 364.3h0M176.4 415.1h0M180.9 458.2h0M262.3 475.2h0M198.6 494.1h0M250.1 405.3h0M268.6 433.3h0M275.1 446.8h0M200.0 480.0h0M247.8 400.4h0M263.7 384.8h0M306.3 458.7h0M185.7 430.5h0M231.8 390.6h0M222.3 355.9h0M277.9 479.9h0M238.7 383.0h0M231.4 397.5h0M187.4 444.4h0M257.7 423.7h0M266.0 365.1h0M256.1 402.7h0M229.7 395.9h0M213.7 418.4h0M208.6 424.4h0M274.2 422.8h0M258.8 417.7h0M257.9 476.6h0M174.9 466.9h0M264.4 372.7h0M182.3 477.2h0M199.0 424.7h0M270.7 447.8h0M192.2 470.6h0M286.1 411.1h0M166.2 393.1h0M255.5 498.1h0M235.1 480.8h0M213.7 419.2h0M284.2 475.8h0M195.4 472.5h0M273.0 441.5h0M190.8 461.3h0M186.6 433.9h0M229.7 384.5h0M234.0 400.5h0M261.6 417.2h0M252.4 398.3h0M196.8 470.9h0M254.4 502.5h0M324.0 460.4h0M186.8 453.9h0M286.9 484.9h0M283.5 482.1h0M274.0 457.8h0M262.8 479.5h0M241.2 382.4h0M258.4 430.9h0M266.8 412.8h0M280.8 489.2h0M206.6 397.3h0M207.3 402.0h0M229.9 376.4h0M288.5 462.3h0M280.2 459.0h0M230.1 399.0h0M200.1 476.9h0M235.0 394.6h0M259.7 418.6h0M270.3 470.9h0M186.6 430.0h0M241.9 393.3h0M180.7 459.3h0M270.3 459.2h0M295.1 450.6h0M233.7 376.6h0M290.5 460.8h0M251.3 476.3h0M267.3 402.4h0M173.3 438.7h0M282.9 471.0h0M180.0 422.8h0M267.4 420.7h0M266.1 375.5h0M257.2 415.7h0M199.4 442.2h0M229.8 497.2h0M206.6 416.7h0M285.1 402.2h0M262.8 468.5h0M148.0 431.6h0M266.0 440.2h0M325.8 477.9h0M201.7 422.3h0M234.7 392.4h0M267.2 388.4h0M254.4 408.8h0M212.0 412.2h0M202.2 418.0h0M201.2 476.1h0M190.2 453.5h0M282.2 424.7h0M299.2 464.1h0M201.4 481.6h0M189.1 406.1h0M208.1 403.2h0M347.7 492.9h0M240.5 393.0h0M195.1 391.1h0M187.2 449.7h0M204.8 397.1h0M261.0 409.0h0M205.4 471.8h0M198.7 486.2h0M178.4 508.8h0M216.3 414.6h0M211.6 401.6h0M295.2 455.1h0M198.0 439.5h0M209.6 410.4h0M309.3 482.0h0M171.6 473.1h0M459.8 427.7h0M494.3 444.8h0M424.8 442.9h0M438.2 452.2h0M445.1 471.1h0M425.8 475.9h0M385.0 422.9h0M374.7 423.7h0M376.6 427.7h0M379.2 429.8h0M389.2 442.1h0M380.5 448.0h0M374.0 455.0h0M378.0 457.0h0M372.0 465.3h0M381.9 470.3h0M380.0 475.0h0M380.5 477.0h0M388.4 473.8h0M390.5 475.0h0M139.0 386.0h0M138.0 448.0h0M139.0 489.0h0M218.0 360.0h0M257.0 542.5h0M292.5 528.0h0M307.0 518.5h0M276.0 522.0h0M233.0 530.0h0M239.6 533.8h0"/></svg></body></html>
